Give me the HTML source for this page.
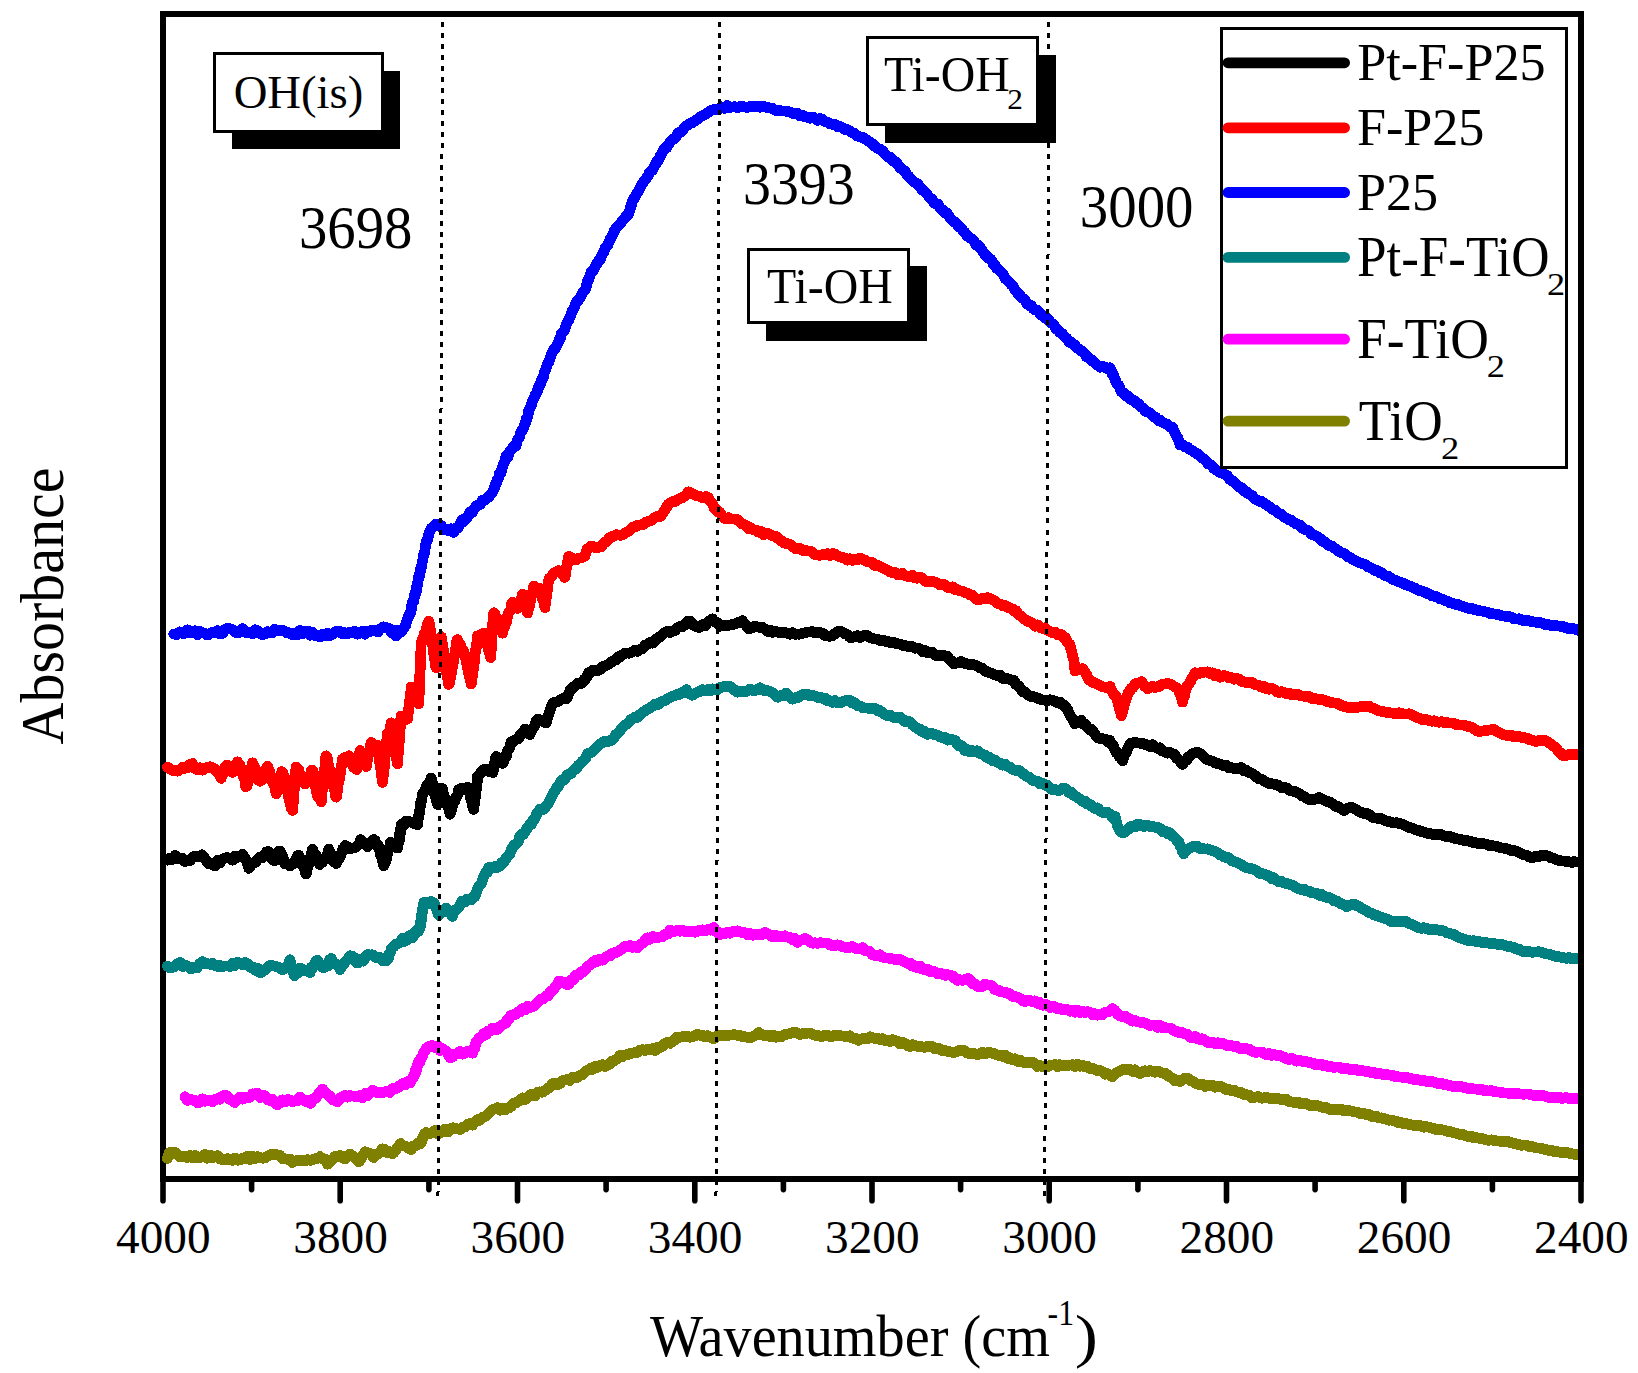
<!DOCTYPE html>
<html lang="en"><head><meta charset="utf-8"><title>FTIR spectra</title>
<style>html,body{margin:0;padding:0;background:#fff;}body{width:1638px;height:1373px;overflow:hidden;font-family:"Liberation Serif", "Times New Roman", serif;}svg text{white-space:pre;}</style>
</head><body>
<svg width="1638" height="1373" viewBox="0 0 1638 1373" style="display:block">
<rect x="0" y="0" width="1638" height="1373" fill="#fff"/>
<defs><clipPath id="plotclip"><rect x="150" y="17" width="1428" height="1159"/></clipPath></defs>
<g fill="#000" shape-rendering="crispEdges">
<rect x="160" y="11" width="1424" height="6"/>
<rect x="160" y="1176" width="1424" height="6"/>
<rect x="160" y="11" width="6" height="1171"/>
<rect x="1578" y="11" width="6" height="1171"/>
</g>
<g stroke="#000" stroke-width="5.6" stroke-linecap="round">
<line x1="163.0" y1="1180" x2="163.0" y2="1200.8"/>
<line x1="251.6" y1="1180" x2="251.6" y2="1189.6"/>
<line x1="340.2" y1="1180" x2="340.2" y2="1200.8"/>
<line x1="428.9" y1="1180" x2="428.9" y2="1189.6"/>
<line x1="517.5" y1="1180" x2="517.5" y2="1200.8"/>
<line x1="606.1" y1="1180" x2="606.1" y2="1189.6"/>
<line x1="694.8" y1="1180" x2="694.8" y2="1200.8"/>
<line x1="783.4" y1="1180" x2="783.4" y2="1189.6"/>
<line x1="872.0" y1="1180" x2="872.0" y2="1200.8"/>
<line x1="960.6" y1="1180" x2="960.6" y2="1189.6"/>
<line x1="1049.2" y1="1180" x2="1049.2" y2="1200.8"/>
<line x1="1137.9" y1="1180" x2="1137.9" y2="1189.6"/>
<line x1="1226.5" y1="1180" x2="1226.5" y2="1200.8"/>
<line x1="1315.1" y1="1180" x2="1315.1" y2="1189.6"/>
<line x1="1403.8" y1="1180" x2="1403.8" y2="1200.8"/>
<line x1="1492.4" y1="1180" x2="1492.4" y2="1189.6"/>
<line x1="1581.0" y1="1180" x2="1581.0" y2="1200.8"/>
</g>
<g clip-path="url(#plotclip)" fill="none" stroke-linejoin="round" stroke-linecap="round">
<path d="M167.4,860.2 L169.9,858.2 L172.5,859.4 L175.0,855.5 L177.5,858.7 L180.0,858.9 L182.5,858.5 L185.0,861.5 L187.5,860.4 L190.0,860.7 L192.5,857.5 L195.0,856.1 L197.5,856.2 L200.0,856.5 L202.1,854.9 L204.2,857.1 L206.2,860.6 L208.3,863.7 L210.4,863.7 L212.5,864.5 L215.0,865.9 L217.5,860.4 L220.0,862.9 L222.5,859.0 L225.0,858.1 L227.5,857.6 L230.0,858.2 L232.5,860.2 L235.0,856.3 L237.5,857.3 L240.0,856.6 L242.5,854.4 L243.8,857.7 L245.0,858.0 L246.2,860.5 L247.5,863.6 L248.8,868.3 L250.9,865.3 L253.1,862.9 L255.3,862.3 L257.5,859.8 L259.8,857.3 L262.0,857.9 L264.2,855.7 L266.5,851.8 L268.8,851.6 L270.0,853.9 L271.2,858.0 L272.5,859.8 L273.8,860.3 L275.0,860.6 L276.2,853.9 L277.5,852.4 L278.8,851.2 L280.0,850.9 L281.2,854.9 L282.5,855.4 L283.8,860.8 L285.0,863.7 L287.5,863.7 L290.0,865.9 L292.5,864.1 L293.8,863.6 L295.0,860.9 L296.2,858.6 L297.5,855.8 L298.8,855.3 L299.7,858.1 L300.6,858.3 L301.6,861.5 L302.5,861.1 L303.4,866.4 L304.4,868.5 L305.3,872.4 L306.2,874.0 L307.0,868.9 L307.8,866.7 L308.6,865.3 L309.4,859.7 L310.2,859.0 L310.9,855.0 L311.7,852.1 L312.5,849.2 L314.0,854.8 L315.4,854.1 L316.9,857.0 L318.3,859.9 L319.8,864.4 L321.2,863.1 L322.5,862.3 L323.8,860.2 L325.0,859.3 L326.2,856.5 L327.5,854.2 L328.8,849.0 L330.0,852.1 L331.2,854.4 L332.5,859.3 L333.8,862.1 L335.0,860.9 L336.2,863.5 L337.3,861.4 L338.4,859.1 L339.5,857.9 L340.6,856.0 L341.7,852.2 L342.8,848.7 L343.9,848.2 L345.0,845.6 L347.5,846.9 L350.0,849.0 L352.5,848.1 L355.0,847.6 L356.9,846.2 L358.8,844.6 L360.6,839.8 L362.5,841.8 L365.0,843.8 L367.5,846.7 L369.6,844.7 L371.7,841.2 L373.8,839.5 L375.0,840.4 L376.2,845.0 L377.5,844.5 L378.8,846.8 L379.5,850.1 L380.2,852.6 L380.9,856.0 L381.6,857.4 L382.3,859.8 L383.0,863.2 L383.8,865.7 L384.5,864.2 L385.2,860.1 L386.0,861.3 L386.8,857.5 L387.5,852.8 L388.2,850.6 L389.0,848.4 L389.8,845.9 L390.5,842.1 L391.2,842.9 L392.8,845.7 L394.4,845.5 L395.9,847.7 L397.5,848.1 L397.9,845.5 L398.3,844.0 L398.8,841.0 L399.2,841.0 L399.6,835.2 L400.0,832.0 L400.4,833.6 L400.8,829.0 L401.2,824.6 L403.8,824.9 L406.2,821.0 L408.8,821.7 L411.2,822.1 L414.4,823.5 L417.5,824.6 L417.9,820.1 L418.3,818.0 L418.8,814.5 L419.2,814.5 L419.6,810.9 L420.0,809.4 L420.4,804.8 L420.8,801.7 L421.2,801.7 L421.7,799.8 L422.1,796.6 L422.5,793.8 L424.0,791.8 L425.4,789.4 L426.9,785.1 L428.3,784.2 L429.8,781.5 L431.2,778.0 L431.9,780.5 L432.6,784.1 L433.3,786.5 L434.0,790.8 L434.7,794.4 L435.4,794.8 L436.1,799.4 L436.8,802.1 L437.5,804.4 L438.5,799.4 L439.5,796.3 L440.5,793.9 L441.5,791.2 L442.5,788.8 L443.3,793.0 L444.2,796.7 L445.0,798.9 L445.8,799.9 L446.7,803.1 L447.5,806.2 L448.3,805.8 L449.2,810.7 L450.0,814.2 L451.0,811.2 L451.9,808.5 L452.9,804.9 L453.9,801.2 L454.9,801.2 L455.8,796.8 L456.8,796.2 L457.8,794.4 L458.8,789.6 L461.7,788.4 L464.6,789.3 L467.5,787.1 L468.2,787.5 L468.9,789.8 L469.6,792.4 L470.3,797.8 L471.0,799.9 L471.7,799.9 L472.4,805.0 L473.1,808.1 L473.8,809.4 L474.1,805.6 L474.4,803.7 L474.7,799.5 L475.0,796.5 L475.3,797.5 L475.6,793.7 L475.9,790.6 L476.2,789.6 L476.6,785.1 L476.9,784.1 L477.2,781.4 L477.5,776.4 L479.4,774.4 L481.2,772.3 L483.1,770.0 L485.0,769.1 L487.5,769.5 L490.0,771.8 L492.5,772.4 L493.0,772.6 L493.6,767.9 L494.1,765.6 L494.6,763.3 L495.2,761.8 L495.7,757.4 L496.2,756.5 L497.8,757.5 L499.4,760.1 L500.9,762.6 L502.5,763.3 L503.5,762.3 L504.4,758.9 L505.4,755.7 L506.4,756.1 L507.4,751.3 L508.3,749.9 L509.3,748.3 L510.3,745.2 L511.2,741.9 L513.8,740.9 L516.2,739.4 L518.8,738.5 L520.8,733.7 L522.9,732.7 L525.0,729.2 L527.5,731.1 L530.0,734.6 L531.2,731.3 L532.5,729.0 L533.8,727.1 L535.0,725.1 L536.2,721.1 L537.5,719.1 L540.4,720.0 L543.3,721.3 L546.2,723.1 L547.0,719.9 L547.7,717.6 L548.4,714.9 L549.1,713.9 L549.8,710.6 L550.5,708.7 L551.2,706.4 L553.4,702.7 L555.6,702.1 L557.8,701.7 L560.0,699.8 L563.1,698.3 L566.2,698.9 L567.3,697.5 L568.3,694.2 L569.4,692.4 L570.4,689.6 L571.5,689.0 L572.5,687.1 L575.0,686.4 L577.5,683.4 L580.0,684.0 L582.5,682.9 L584.0,679.3 L585.5,679.1 L587.0,677.0 L588.5,672.7 L590.0,672.5 L592.5,670.4 L595.0,670.0 L597.5,670.7 L600.0,669.6 L602.5,666.6 L605.0,666.1 L607.5,665.0 L610.0,663.3 L612.1,661.5 L614.2,660.4 L616.2,660.0 L618.3,656.7 L620.4,656.6 L622.5,654.8 L625.0,653.0 L627.5,653.1 L630.0,653.1 L632.5,652.0 L635.0,650.1 L637.5,651.3 L640.0,649.5 L642.5,648.7 L645.0,645.2 L647.5,644.4 L650.0,642.6 L652.5,643.2 L655.0,640.7 L656.9,638.4 L658.8,637.3 L660.6,636.7 L662.5,634.6 L665.0,632.4 L667.5,631.3 L670.0,632.6 L672.5,630.9 L675.0,630.5 L677.5,627.7 L680.0,626.3 L682.5,626.7 L685.0,624.8 L687.5,621.4 L690.0,621.1 L692.1,622.8 L694.2,625.8 L696.2,626.4 L699.2,627.6 L702.1,624.7 L705.0,625.9 L707.5,622.8 L710.0,620.4 L712.5,618.9 L714.4,621.7 L716.2,621.9 L718.1,623.4 L720.0,626.3 L722.5,625.6 L725.0,625.2 L727.5,625.4 L730.0,625.1 L732.5,624.5 L735.0,623.8 L737.5,622.7 L740.0,622.9 L742.5,620.7 L744.1,623.4 L745.6,624.8 L747.2,627.4 L748.8,628.7 L751.7,628.1 L754.6,626.2 L757.5,626.9 L760.0,627.4 L762.5,627.4 L765.0,629.2 L767.5,631.4 L770.0,630.2 L772.5,632.3 L775.0,631.5 L777.5,631.9 L780.0,633.0 L782.5,632.0 L785.0,632.5 L787.5,633.2 L790.0,634.2 L792.5,632.7 L795.0,634.2 L797.5,634.1 L800.0,634.1 L802.5,633.3 L805.0,632.9 L807.5,632.0 L810.0,632.0 L812.5,631.6 L815.0,633.1 L817.5,632.4 L820.0,632.7 L822.5,633.0 L825.0,635.5 L827.5,636.1 L830.0,636.2 L832.5,635.7 L834.6,633.9 L836.7,632.4 L838.8,631.1 L841.6,631.6 L844.4,633.6 L847.2,634.4 L850.0,637.5 L852.5,637.5 L855.0,636.4 L857.5,635.6 L860.0,637.5 L862.5,635.8 L865.0,635.9 L867.5,635.7 L870.0,637.4 L872.5,638.3 L875.0,639.1 L877.5,639.0 L880.0,640.5 L882.5,640.0 L885.0,641.2 L887.5,641.3 L890.0,642.6 L892.5,642.2 L895.0,642.7 L897.5,644.0 L900.0,644.1 L902.5,645.3 L905.0,645.5 L907.5,646.3 L910.0,646.4 L912.5,646.8 L915.0,648.2 L917.5,648.0 L920.0,648.8 L922.5,651.5 L925.0,650.3 L927.5,652.6 L930.0,653.1 L932.5,652.3 L935.0,655.1 L937.5,656.0 L940.0,655.3 L942.5,655.6 L945.0,655.8 L947.2,656.1 L949.4,659.1 L951.6,661.0 L953.8,663.9 L956.2,663.2 L958.8,662.7 L961.2,661.5 L964.0,663.3 L966.8,663.7 L969.5,664.8 L972.2,664.5 L975.0,665.0 L977.5,666.3 L980.0,668.0 L982.5,668.3 L985.0,671.3 L987.5,671.6 L990.0,672.8 L992.5,673.8 L995.0,675.0 L997.5,675.5 L1000.0,675.2 L1002.5,678.3 L1005.0,678.8 L1007.5,678.8 L1010.0,679.5 L1012.5,680.4 L1014.2,680.7 L1015.8,684.4 L1017.5,685.0 L1019.2,686.4 L1020.8,688.8 L1022.5,691.8 L1025.0,691.7 L1027.5,694.4 L1030.0,696.2 L1032.5,696.2 L1035.0,697.2 L1037.5,698.0 L1040.0,699.2 L1042.5,700.0 L1045.0,700.2 L1047.5,700.9 L1050.0,699.8 L1052.5,700.4 L1055.0,701.1 L1057.5,702.7 L1060.0,702.0 L1061.9,704.6 L1063.8,705.0 L1065.6,707.0 L1067.5,709.4 L1068.8,712.7 L1070.0,715.1 L1071.2,717.3 L1072.5,718.6 L1073.8,721.5 L1075.0,723.7 L1078.1,722.4 L1081.2,720.3 L1083.4,724.1 L1085.6,724.2 L1087.8,728.1 L1090.0,729.9 L1092.0,729.5 L1094.0,732.6 L1096.0,735.6 L1098.0,738.0 L1100.0,738.6 L1102.5,738.8 L1105.0,739.2 L1107.5,741.8 L1110.0,740.5 L1111.5,744.0 L1113.0,745.3 L1114.5,748.8 L1116.0,752.4 L1117.5,752.8 L1119.2,756.7 L1120.8,757.9 L1122.5,761.0 L1123.6,758.0 L1124.8,754.3 L1125.9,753.5 L1127.0,750.0 L1128.8,746.0 L1130.5,743.2 L1135.0,742.5 L1137.5,743.0 L1140.0,743.2 L1142.5,743.4 L1145.0,744.6 L1147.5,744.8 L1150.0,746.5 L1152.5,744.6 L1155.0,746.9 L1157.5,748.4 L1160.0,747.8 L1162.5,751.1 L1165.0,751.8 L1167.5,753.2 L1170.0,752.6 L1172.5,753.7 L1175.0,754.7 L1176.5,758.3 L1178.0,759.2 L1179.5,760.6 L1181.0,762.8 L1182.5,764.4 L1184.0,761.8 L1185.5,760.0 L1187.0,759.9 L1188.5,756.4 L1190.0,756.1 L1192.5,753.5 L1195.0,752.7 L1197.5,752.5 L1200.0,753.3 L1202.5,755.3 L1205.0,758.4 L1207.5,759.7 L1210.0,760.5 L1212.5,761.1 L1215.0,762.8 L1217.5,763.8 L1220.0,763.9 L1223.0,765.5 L1226.0,765.2 L1229.0,768.1 L1231.5,767.6 L1234.0,768.6 L1236.5,768.6 L1239.0,768.0 L1241.5,767.7 L1244.0,771.0 L1246.5,770.4 L1249.0,772.4 L1251.5,773.4 L1254.0,774.6 L1256.5,777.0 L1259.0,779.0 L1261.5,779.0 L1264.0,781.3 L1266.5,782.1 L1269.0,783.4 L1271.5,783.8 L1274.0,784.1 L1276.5,784.8 L1279.0,785.7 L1281.5,787.8 L1284.0,787.7 L1286.5,787.9 L1289.0,790.1 L1291.5,791.0 L1293.7,791.2 L1295.9,791.8 L1298.1,793.2 L1300.2,794.2 L1302.4,796.0 L1304.6,796.7 L1306.8,798.3 L1309.0,799.6 L1311.5,799.5 L1314.0,799.4 L1316.5,798.6 L1319.0,797.3 L1321.3,798.5 L1323.5,799.8 L1325.8,800.7 L1328.1,801.8 L1330.4,802.4 L1332.6,803.9 L1334.9,806.2 L1337.2,806.0 L1339.5,807.7 L1341.7,809.1 L1344.0,810.6 L1346.5,808.7 L1349.0,808.0 L1351.5,807.1 L1354.0,808.5 L1356.5,809.6 L1359.0,811.5 L1361.5,812.5 L1364.0,813.6 L1366.5,813.5 L1369.0,814.6 L1371.5,816.7 L1374.0,818.0 L1376.5,818.1 L1379.0,818.9 L1381.5,818.7 L1384.0,819.9 L1386.5,821.2 L1389.0,821.7 L1391.5,822.3 L1394.0,823.1 L1396.5,822.8 L1399.0,823.3 L1401.5,824.0 L1404.0,825.0 L1406.5,826.2 L1409.0,827.4 L1411.5,828.1 L1414.0,828.9 L1416.5,830.0 L1419.0,830.6 L1421.5,831.6 L1424.0,831.9 L1426.5,833.2 L1429.0,832.9 L1431.5,834.1 L1434.0,834.1 L1436.5,834.1 L1439.0,834.2 L1441.5,834.7 L1444.0,835.8 L1446.5,836.5 L1449.0,836.4 L1451.5,837.0 L1454.0,838.2 L1456.5,838.8 L1459.0,839.2 L1461.5,839.7 L1464.0,840.6 L1466.5,840.3 L1469.0,841.1 L1471.5,841.8 L1474.0,842.8 L1476.5,842.9 L1479.0,843.6 L1481.5,843.6 L1484.0,843.8 L1486.5,844.2 L1489.0,845.6 L1491.5,845.8 L1494.0,845.9 L1496.5,846.1 L1499.0,847.2 L1501.5,848.0 L1504.0,848.2 L1506.5,848.6 L1509.0,849.6 L1511.5,850.5 L1514.0,850.6 L1516.5,851.3 L1519.0,852.6 L1521.5,853.7 L1524.0,854.9 L1526.5,855.3 L1529.0,856.9 L1531.5,857.8 L1534.0,857.0 L1536.5,856.1 L1539.0,856.6 L1541.5,855.3 L1544.0,855.4 L1546.5,855.6 L1549.0,856.5 L1551.5,858.0 L1554.0,858.3 L1556.5,860.0 L1559.0,860.4 L1561.5,860.9 L1564.1,861.1 L1566.6,861.5 L1569.2,861.9 L1571.8,862.4 L1574.3,861.6 L1576.9,862.1 L1579.4,862.0 L1582.0,863.1" stroke="#000000" stroke-width="10.8" shape-rendering="crispEdges"/>
<path d="M167.4,860.2 L169.9,858.2 L172.5,859.4 L175.0,855.5 L177.5,858.7 L180.0,858.9 L182.5,858.5 L185.0,861.5 L187.5,860.4 L190.0,860.7 L192.5,857.5 L195.0,856.1 L197.5,856.2 L200.0,856.5 L202.1,854.9 L204.2,857.1 L206.2,860.6 L208.3,863.7 L210.4,863.7 L212.5,864.5 L215.0,865.9 L217.5,860.4 L220.0,862.9 L222.5,859.0 L225.0,858.1 L227.5,857.6 L230.0,858.2 L232.5,860.2 L235.0,856.3 L237.5,857.3 L240.0,856.6 L242.5,854.4 L243.8,857.7 L245.0,858.0 L246.2,860.5 L247.5,863.6 L248.8,868.3 L250.9,865.3 L253.1,862.9 L255.3,862.3 L257.5,859.8 L259.8,857.3 L262.0,857.9 L264.2,855.7 L266.5,851.8 L268.8,851.6 L270.0,853.9 L271.2,858.0 L272.5,859.8 L273.8,860.3 L275.0,860.6 L276.2,853.9 L277.5,852.4 L278.8,851.2 L280.0,850.9 L281.2,854.9 L282.5,855.4 L283.8,860.8 L285.0,863.7 L287.5,863.7 L290.0,865.9 L292.5,864.1 L293.8,863.6 L295.0,860.9 L296.2,858.6 L297.5,855.8 L298.8,855.3 L299.7,858.1 L300.6,858.3 L301.6,861.5 L302.5,861.1 L303.4,866.4 L304.4,868.5 L305.3,872.4 L306.2,874.0 L307.0,868.9 L307.8,866.7 L308.6,865.3 L309.4,859.7 L310.2,859.0 L310.9,855.0 L311.7,852.1 L312.5,849.2 L314.0,854.8 L315.4,854.1 L316.9,857.0 L318.3,859.9 L319.8,864.4 L321.2,863.1 L322.5,862.3 L323.8,860.2 L325.0,859.3 L326.2,856.5 L327.5,854.2 L328.8,849.0 L330.0,852.1 L331.2,854.4 L332.5,859.3 L333.8,862.1 L335.0,860.9 L336.2,863.5 L337.3,861.4 L338.4,859.1 L339.5,857.9 L340.6,856.0 L341.7,852.2 L342.8,848.7 L343.9,848.2 L345.0,845.6 L347.5,846.9 L350.0,849.0 L352.5,848.1 L355.0,847.6 L356.9,846.2 L358.8,844.6 L360.6,839.8 L362.5,841.8 L365.0,843.8 L367.5,846.7 L369.6,844.7 L371.7,841.2 L373.8,839.5 L375.0,840.4 L376.2,845.0 L377.5,844.5 L378.8,846.8 L379.5,850.1 L380.2,852.6 L380.9,856.0 L381.6,857.4 L382.3,859.8 L383.0,863.2 L383.8,865.7 L384.5,864.2 L385.2,860.1 L386.0,861.3 L386.8,857.5 L387.5,852.8 L388.2,850.6 L389.0,848.4 L389.8,845.9 L390.5,842.1 L391.2,842.9 L392.8,845.7 L394.4,845.5 L395.9,847.7 L397.5,848.1 L397.9,845.5 L398.3,844.0 L398.8,841.0 L399.2,841.0 L399.6,835.2 L400.0,832.0 L400.4,833.6 L400.8,829.0 L401.2,824.6 L403.8,824.9 L406.2,821.0 L408.8,821.7 L411.2,822.1 L414.4,823.5 L417.5,824.6 L417.9,820.1 L418.3,818.0 L418.8,814.5 L419.2,814.5 L419.6,810.9 L420.0,809.4 L420.4,804.8 L420.8,801.7 L421.2,801.7 L421.7,799.8 L422.1,796.6 L422.5,793.8 L424.0,791.8 L425.4,789.4 L426.9,785.1 L428.3,784.2 L429.8,781.5 L431.2,778.0 L431.9,780.5 L432.6,784.1 L433.3,786.5 L434.0,790.8 L434.7,794.4 L435.4,794.8 L436.1,799.4 L436.8,802.1 L437.5,804.4 L438.5,799.4 L439.5,796.3 L440.5,793.9 L441.5,791.2 L442.5,788.8 L443.3,793.0 L444.2,796.7 L445.0,798.9 L445.8,799.9 L446.7,803.1 L447.5,806.2 L448.3,805.8 L449.2,810.7 L450.0,814.2 L451.0,811.2 L451.9,808.5 L452.9,804.9 L453.9,801.2 L454.9,801.2 L455.8,796.8 L456.8,796.2 L457.8,794.4 L458.8,789.6 L461.7,788.4 L464.6,789.3 L467.5,787.1 L468.2,787.5 L468.9,789.8 L469.6,792.4 L470.3,797.8 L471.0,799.9 L471.7,799.9 L472.4,805.0 L473.1,808.1 L473.8,809.4 L474.1,805.6 L474.4,803.7 L474.7,799.5 L475.0,796.5 L475.3,797.5 L475.6,793.7 L475.9,790.6 L476.2,789.6 L476.6,785.1 L476.9,784.1 L477.2,781.4 L477.5,776.4 L479.4,774.4 L481.2,772.3 L483.1,770.0 L485.0,769.1 L487.5,769.5 L490.0,771.8 L492.5,772.4 L493.0,772.6 L493.6,767.9 L494.1,765.6 L494.6,763.3 L495.2,761.8 L495.7,757.4 L496.2,756.5 L497.8,757.5 L499.4,760.1 L500.9,762.6 L502.5,763.3 L503.5,762.3 L504.4,758.9 L505.4,755.7 L506.4,756.1 L507.4,751.3 L508.3,749.9 L509.3,748.3 L510.3,745.2 L511.2,741.9 L513.8,740.9 L516.2,739.4 L518.8,738.5 L520.8,733.7 L522.9,732.7 L525.0,729.2 L527.5,731.1 L530.0,734.6 L531.2,731.3 L532.5,729.0 L533.8,727.1 L535.0,725.1 L536.2,721.1 L537.5,719.1 L540.4,720.0 L543.3,721.3 L546.2,723.1 L547.0,719.9 L547.7,717.6 L548.4,714.9 L549.1,713.9 L549.8,710.6 L550.5,708.7 L551.2,706.4 L553.4,702.7 L555.6,702.1 L557.8,701.7 L560.0,699.8 L563.1,698.3 L566.2,698.9 L567.3,697.5 L568.3,694.2 L569.4,692.4 L570.4,689.6 L571.5,689.0 L572.5,687.1 L575.0,686.4 L577.5,683.4 L580.0,684.0 L582.5,682.9 L584.0,679.3 L585.5,679.1 L587.0,677.0 L588.5,672.7 L590.0,672.5 L592.5,670.4 L595.0,670.0 L597.5,670.7 L600.0,669.6 L602.5,666.6 L605.0,666.1 L607.5,665.0 L610.0,663.3 L612.1,661.5 L614.2,660.4 L616.2,660.0 L618.3,656.7 L620.4,656.6 L622.5,654.8 L625.0,653.0 L627.5,653.1 L630.0,653.1 L632.5,652.0 L635.0,650.1 L637.5,651.3 L640.0,649.5 L642.5,648.7 L645.0,645.2 L647.5,644.4 L650.0,642.6 L652.5,643.2 L655.0,640.7 L656.9,638.4 L658.8,637.3 L660.6,636.7 L662.5,634.6 L665.0,632.4 L667.5,631.3 L670.0,632.6 L672.5,630.9 L675.0,630.5 L677.5,627.7 L680.0,626.3 L682.5,626.7 L685.0,624.8 L687.5,621.4 L690.0,621.1 L692.1,622.8 L694.2,625.8 L696.2,626.4 L699.2,627.6 L702.1,624.7 L705.0,625.9 L707.5,622.8 L710.0,620.4 L712.5,618.9 L714.4,621.7 L716.2,621.9 L718.1,623.4 L720.0,626.3 L722.5,625.6 L725.0,625.2 L727.5,625.4 L730.0,625.1 L732.5,624.5 L735.0,623.8 L737.5,622.7 L740.0,622.9 L742.5,620.7 L744.1,623.4 L745.6,624.8 L747.2,627.4 L748.8,628.7 L751.7,628.1 L754.6,626.2 L757.5,626.9 L760.0,627.4 L762.5,627.4 L765.0,629.2 L767.5,631.4 L770.0,630.2 L772.5,632.3 L775.0,631.5 L777.5,631.9 L780.0,633.0 L782.5,632.0 L785.0,632.5 L787.5,633.2 L790.0,634.2 L792.5,632.7 L795.0,634.2 L797.5,634.1 L800.0,634.1 L802.5,633.3 L805.0,632.9 L807.5,632.0 L810.0,632.0 L812.5,631.6 L815.0,633.1 L817.5,632.4 L820.0,632.7 L822.5,633.0 L825.0,635.5 L827.5,636.1 L830.0,636.2 L832.5,635.7 L834.6,633.9 L836.7,632.4 L838.8,631.1 L841.6,631.6 L844.4,633.6 L847.2,634.4 L850.0,637.5 L852.5,637.5 L855.0,636.4 L857.5,635.6 L860.0,637.5 L862.5,635.8 L865.0,635.9 L867.5,635.7 L870.0,637.4 L872.5,638.3 L875.0,639.1 L877.5,639.0 L880.0,640.5 L882.5,640.0 L885.0,641.2 L887.5,641.3 L890.0,642.6 L892.5,642.2 L895.0,642.7 L897.5,644.0 L900.0,644.1 L902.5,645.3 L905.0,645.5 L907.5,646.3 L910.0,646.4 L912.5,646.8 L915.0,648.2 L917.5,648.0 L920.0,648.8 L922.5,651.5 L925.0,650.3 L927.5,652.6 L930.0,653.1 L932.5,652.3 L935.0,655.1 L937.5,656.0 L940.0,655.3 L942.5,655.6 L945.0,655.8 L947.2,656.1 L949.4,659.1 L951.6,661.0 L953.8,663.9 L956.2,663.2 L958.8,662.7 L961.2,661.5 L964.0,663.3 L966.8,663.7 L969.5,664.8 L972.2,664.5 L975.0,665.0 L977.5,666.3 L980.0,668.0 L982.5,668.3 L985.0,671.3 L987.5,671.6 L990.0,672.8 L992.5,673.8 L995.0,675.0 L997.5,675.5 L1000.0,675.2 L1002.5,678.3 L1005.0,678.8 L1007.5,678.8 L1010.0,679.5 L1012.5,680.4 L1014.2,680.7 L1015.8,684.4 L1017.5,685.0 L1019.2,686.4 L1020.8,688.8 L1022.5,691.8 L1025.0,691.7 L1027.5,694.4 L1030.0,696.2 L1032.5,696.2 L1035.0,697.2 L1037.5,698.0 L1040.0,699.2 L1042.5,700.0 L1045.0,700.2 L1047.5,700.9 L1050.0,699.8 L1052.5,700.4 L1055.0,701.1 L1057.5,702.7 L1060.0,702.0 L1061.9,704.6 L1063.8,705.0 L1065.6,707.0 L1067.5,709.4 L1068.8,712.7 L1070.0,715.1 L1071.2,717.3 L1072.5,718.6 L1073.8,721.5 L1075.0,723.7 L1078.1,722.4 L1081.2,720.3 L1083.4,724.1 L1085.6,724.2 L1087.8,728.1 L1090.0,729.9 L1092.0,729.5 L1094.0,732.6 L1096.0,735.6 L1098.0,738.0 L1100.0,738.6 L1102.5,738.8 L1105.0,739.2 L1107.5,741.8 L1110.0,740.5 L1111.5,744.0 L1113.0,745.3 L1114.5,748.8 L1116.0,752.4 L1117.5,752.8 L1119.2,756.7 L1120.8,757.9 L1122.5,761.0 L1123.6,758.0 L1124.8,754.3 L1125.9,753.5 L1127.0,750.0 L1128.8,746.0 L1130.5,743.2 L1135.0,742.5 L1137.5,743.0 L1140.0,743.2 L1142.5,743.4 L1145.0,744.6 L1147.5,744.8 L1150.0,746.5 L1152.5,744.6 L1155.0,746.9 L1157.5,748.4 L1160.0,747.8 L1162.5,751.1 L1165.0,751.8 L1167.5,753.2 L1170.0,752.6 L1172.5,753.7 L1175.0,754.7 L1176.5,758.3 L1178.0,759.2 L1179.5,760.6 L1181.0,762.8 L1182.5,764.4 L1184.0,761.8 L1185.5,760.0 L1187.0,759.9 L1188.5,756.4 L1190.0,756.1 L1192.5,753.5 L1195.0,752.7 L1197.5,752.5 L1200.0,753.3 L1202.5,755.3 L1205.0,758.4 L1207.5,759.7 L1210.0,760.5 L1212.5,761.1 L1215.0,762.8 L1217.5,763.8 L1220.0,763.9 L1223.0,765.5 L1226.0,765.2 L1229.0,768.1 L1231.5,767.6 L1234.0,768.6 L1236.5,768.6 L1239.0,768.0 L1241.5,767.7 L1244.0,771.0 L1246.5,770.4 L1249.0,772.4 L1251.5,773.4 L1254.0,774.6 L1256.5,777.0 L1259.0,779.0 L1261.5,779.0 L1264.0,781.3 L1266.5,782.1 L1269.0,783.4 L1271.5,783.8 L1274.0,784.1 L1276.5,784.8 L1279.0,785.7 L1281.5,787.8 L1284.0,787.7 L1286.5,787.9 L1289.0,790.1 L1291.5,791.0 L1293.7,791.2 L1295.9,791.8 L1298.1,793.2 L1300.2,794.2 L1302.4,796.0 L1304.6,796.7 L1306.8,798.3 L1309.0,799.6 L1311.5,799.5 L1314.0,799.4 L1316.5,798.6 L1319.0,797.3 L1321.3,798.5 L1323.5,799.8 L1325.8,800.7 L1328.1,801.8 L1330.4,802.4 L1332.6,803.9 L1334.9,806.2 L1337.2,806.0 L1339.5,807.7 L1341.7,809.1 L1344.0,810.6 L1346.5,808.7 L1349.0,808.0 L1351.5,807.1 L1354.0,808.5 L1356.5,809.6 L1359.0,811.5 L1361.5,812.5 L1364.0,813.6 L1366.5,813.5 L1369.0,814.6 L1371.5,816.7 L1374.0,818.0 L1376.5,818.1 L1379.0,818.9 L1381.5,818.7 L1384.0,819.9 L1386.5,821.2 L1389.0,821.7 L1391.5,822.3 L1394.0,823.1 L1396.5,822.8 L1399.0,823.3 L1401.5,824.0 L1404.0,825.0 L1406.5,826.2 L1409.0,827.4 L1411.5,828.1 L1414.0,828.9 L1416.5,830.0 L1419.0,830.6 L1421.5,831.6 L1424.0,831.9 L1426.5,833.2 L1429.0,832.9 L1431.5,834.1 L1434.0,834.1 L1436.5,834.1 L1439.0,834.2 L1441.5,834.7 L1444.0,835.8 L1446.5,836.5 L1449.0,836.4 L1451.5,837.0 L1454.0,838.2 L1456.5,838.8 L1459.0,839.2 L1461.5,839.7 L1464.0,840.6 L1466.5,840.3 L1469.0,841.1 L1471.5,841.8 L1474.0,842.8 L1476.5,842.9 L1479.0,843.6 L1481.5,843.6 L1484.0,843.8 L1486.5,844.2 L1489.0,845.6 L1491.5,845.8 L1494.0,845.9 L1496.5,846.1 L1499.0,847.2 L1501.5,848.0 L1504.0,848.2 L1506.5,848.6 L1509.0,849.6 L1511.5,850.5 L1514.0,850.6 L1516.5,851.3 L1519.0,852.6 L1521.5,853.7 L1524.0,854.9 L1526.5,855.3 L1529.0,856.9 L1531.5,857.8 L1534.0,857.0 L1536.5,856.1 L1539.0,856.6 L1541.5,855.3 L1544.0,855.4 L1546.5,855.6 L1549.0,856.5 L1551.5,858.0 L1554.0,858.3 L1556.5,860.0 L1559.0,860.4 L1561.5,860.9 L1564.1,861.1 L1566.6,861.5 L1569.2,861.9 L1571.8,862.4 L1574.3,861.6 L1576.9,862.1 L1579.4,862.0 L1582.0,863.1" stroke="#000000" stroke-width="9.6"/>
<path d="M167.4,767.2 L169.9,768.6 L172.5,770.5 L175.0,770.4 L177.5,771.2 L180.0,769.6 L182.5,767.3 L185.0,768.2 L187.5,767.6 L190.0,764.5 L192.5,763.6 L195.0,768.7 L197.5,769.5 L200.0,767.8 L202.5,770.1 L205.0,768.2 L207.5,767.5 L210.0,766.7 L212.2,767.7 L214.5,768.7 L216.8,771.7 L219.0,773.8 L221.2,778.3 L222.5,772.0 L223.8,773.4 L225.0,767.4 L226.2,765.6 L227.5,765.2 L228.8,767.4 L230.0,767.8 L231.2,768.2 L232.5,772.4 L233.8,769.4 L235.0,769.4 L236.2,763.6 L237.5,761.9 L238.8,766.8 L240.0,765.3 L241.2,769.6 L242.5,773.9 L243.1,776.2 L243.8,775.4 L244.4,777.9 L245.0,780.5 L245.6,786.9 L246.2,786.4 L246.9,786.0 L247.6,784.1 L248.3,778.8 L249.0,775.9 L249.7,776.4 L250.4,772.2 L251.1,767.9 L251.8,767.4 L252.5,762.9 L253.4,765.1 L254.4,766.2 L255.3,772.0 L256.2,775.0 L257.2,776.1 L258.1,779.9 L259.1,778.0 L260.0,781.3 L261.1,780.1 L262.1,780.0 L263.2,777.6 L264.3,772.7 L265.4,769.7 L266.4,768.2 L267.5,766.2 L268.3,770.6 L269.1,769.6 L269.9,774.8 L270.7,776.9 L271.5,779.7 L272.3,781.8 L273.1,783.4 L273.9,784.5 L274.7,786.9 L275.5,789.5 L276.2,793.8 L276.9,788.1 L277.6,786.1 L278.3,786.2 L279.0,781.3 L279.7,778.0 L280.4,775.4 L281.1,775.2 L281.8,771.7 L282.5,772.2 L283.1,774.3 L283.6,777.2 L284.2,776.4 L284.7,778.1 L285.3,780.6 L285.8,785.0 L286.4,788.5 L286.9,789.8 L287.5,791.3 L288.2,794.8 L288.9,798.4 L289.6,801.3 L290.4,804.4 L291.1,807.5 L291.8,809.3 L292.5,809.5 L292.7,810.3 L292.9,805.3 L293.1,804.1 L293.3,800.7 L293.5,799.8 L293.8,794.9 L294.0,792.6 L294.2,790.1 L294.4,787.2 L294.6,788.0 L294.8,784.1 L295.0,780.5 L295.2,778.3 L295.4,778.5 L295.6,773.8 L295.8,770.0 L296.0,770.2 L296.2,767.0 L297.3,770.9 L298.4,769.1 L299.5,773.2 L300.6,777.1 L301.7,779.5 L302.8,782.2 L303.9,780.5 L305.0,784.1 L306.1,780.9 L307.1,778.9 L308.2,780.2 L309.3,776.1 L310.4,775.4 L311.4,770.5 L312.5,770.4 L313.0,771.1 L313.4,772.9 L313.9,777.9 L314.3,781.3 L314.8,780.0 L315.2,784.9 L315.7,787.6 L316.1,788.4 L316.6,791.7 L317.0,793.2 L317.5,796.1 L319.4,798.2 L321.2,801.7 L321.5,799.4 L321.8,794.7 L322.1,791.3 L322.4,790.2 L322.6,789.2 L322.9,784.4 L323.2,782.4 L323.5,779.3 L323.8,779.5 L324.0,775.8 L324.3,771.0 L324.6,768.6 L324.9,767.4 L325.1,765.5 L325.4,763.3 L325.7,758.3 L326.0,756.0 L326.2,755.9 L326.8,757.1 L327.4,759.0 L327.9,761.6 L328.5,767.1 L329.0,766.6 L329.6,770.3 L330.1,771.8 L330.7,774.6 L331.2,779.2 L331.9,782.3 L332.5,781.9 L333.1,783.6 L333.8,788.5 L334.4,788.6 L335.0,790.2 L335.6,796.8 L336.2,797.1 L336.7,796.5 L337.1,792.1 L337.5,791.8 L337.9,787.3 L338.3,783.4 L338.8,780.3 L339.2,780.2 L339.6,778.1 L340.0,776.9 L340.4,770.6 L340.8,770.6 L341.2,766.9 L341.7,765.0 L342.1,760.9 L342.5,759.0 L345.0,757.6 L347.5,757.0 L349.0,755.7 L350.4,760.0 L351.9,763.9 L353.3,767.1 L354.8,766.1 L356.2,768.3 L356.7,769.5 L357.2,767.2 L357.7,762.4 L358.1,757.9 L358.6,759.5 L359.1,754.5 L359.5,754.4 L360.0,750.6 L361.0,754.0 L362.1,753.4 L363.1,758.8 L364.2,758.7 L365.2,762.1 L366.2,766.6 L366.9,763.9 L367.5,758.2 L368.1,755.7 L368.8,753.9 L369.4,751.8 L370.0,748.5 L370.6,744.7 L371.2,742.6 L374.4,745.4 L377.5,746.8 L377.8,745.4 L378.2,750.3 L378.5,753.7 L378.8,752.9 L379.2,759.1 L379.5,758.2 L379.8,763.0 L380.2,765.2 L380.5,768.1 L380.8,769.1 L381.2,772.1 L381.5,775.4 L381.8,777.2 L382.2,780.7 L382.5,782.3 L382.8,779.7 L383.0,775.3 L383.3,775.5 L383.6,772.5 L383.8,768.8 L384.1,768.7 L384.3,766.3 L384.6,762.3 L384.9,758.5 L385.1,757.4 L385.4,753.2 L385.7,750.8 L385.9,749.7 L386.2,745.6 L386.4,744.7 L386.7,742.5 L387.0,737.9 L387.2,738.1 L387.5,733.1 L388.4,733.6 L389.4,731.3 L390.3,727.6 L391.2,722.9 L391.7,727.5 L392.1,729.4 L392.5,734.6 L392.9,733.3 L393.3,739.1 L393.8,742.3 L394.2,743.6 L394.6,746.4 L395.0,746.1 L395.4,752.2 L395.8,752.5 L396.2,757.1 L396.7,759.4 L397.1,758.5 L397.5,763.8 L397.7,762.0 L397.9,755.5 L398.1,754.3 L398.3,753.7 L398.5,748.4 L398.7,749.3 L398.9,744.0 L399.1,744.0 L399.3,738.4 L399.5,737.5 L399.7,736.9 L399.9,731.2 L400.1,728.9 L400.3,727.5 L400.5,724.2 L400.7,720.4 L400.9,718.5 L401.1,715.9 L401.2,717.0 L403.3,717.5 L405.4,720.1 L407.5,718.5 L407.8,718.8 L408.1,713.3 L408.4,712.6 L408.7,710.6 L408.9,706.9 L409.2,706.7 L409.5,702.7 L409.8,700.4 L410.1,699.2 L410.4,693.2 L410.7,694.7 L411.0,690.6 L411.2,687.0 L412.5,691.3 L413.8,691.5 L415.0,697.2 L416.2,697.8 L417.5,699.4 L418.8,703.7 L418.9,699.7 L419.0,696.1 L419.1,696.1 L419.2,690.5 L419.3,691.4 L419.4,686.4 L419.5,685.6 L419.6,684.6 L419.7,680.4 L419.8,678.2 L419.9,674.2 L420.1,670.3 L420.2,667.9 L420.3,666.0 L420.4,665.5 L420.5,662.2 L420.6,660.1 L420.7,659.2 L420.8,653.4 L420.9,651.3 L421.0,650.7 L421.1,645.4 L421.2,642.8 L422.1,641.7 L422.9,638.0 L423.8,636.5 L424.6,633.2 L425.4,632.2 L426.2,629.6 L427.1,625.2 L427.9,624.4 L428.8,621.1 L429.1,622.2 L429.5,628.1 L429.9,627.6 L430.3,629.7 L430.7,632.0 L431.1,636.8 L431.5,640.3 L431.9,642.5 L432.3,643.3 L432.7,645.2 L433.1,646.7 L433.5,651.9 L433.9,654.0 L434.3,655.6 L434.7,659.4 L435.1,661.0 L435.5,665.6 L435.9,667.2 L436.2,667.7 L436.6,668.0 L437.0,661.8 L437.4,661.4 L437.8,658.4 L438.2,655.1 L438.6,651.9 L438.9,652.4 L439.3,646.7 L439.7,646.5 L440.1,645.6 L440.5,639.7 L440.9,637.5 L441.2,636.7 L441.6,638.8 L442.0,641.8 L442.4,645.1 L442.8,644.9 L443.1,648.0 L443.5,650.4 L443.9,651.9 L444.2,657.9 L444.6,659.9 L445.0,662.1 L445.4,661.7 L445.8,667.7 L446.1,669.8 L446.5,671.1 L446.9,674.7 L447.2,676.1 L447.6,677.6 L448.0,679.6 L448.4,682.6 L448.8,684.4 L449.2,683.1 L449.7,682.3 L450.1,679.5 L450.6,677.7 L451.1,674.6 L451.5,670.3 L452.0,669.0 L452.4,666.0 L452.9,664.9 L453.4,661.3 L453.8,657.8 L454.3,656.8 L454.7,655.6 L455.2,650.1 L455.7,650.3 L456.1,644.3 L456.6,642.8 L457.0,640.2 L457.5,639.7 L458.6,642.9 L459.6,644.4 L460.7,645.0 L461.8,649.5 L462.9,649.7 L463.9,651.6 L465.0,656.6 L465.6,658.1 L466.1,661.0 L466.7,663.5 L467.3,667.3 L467.8,667.9 L468.4,672.0 L469.0,674.1 L469.5,677.3 L470.1,678.3 L470.7,682.0 L471.2,684.0 L471.6,680.4 L471.9,677.5 L472.3,676.5 L472.6,671.8 L473.0,672.5 L473.3,667.0 L473.7,663.9 L474.0,661.7 L474.4,662.3 L474.7,657.5 L475.1,654.1 L475.4,651.1 L475.8,648.6 L476.1,648.5 L476.5,645.7 L476.8,643.4 L477.2,641.0 L477.5,635.8 L480.0,636.2 L482.5,633.7 L485.0,633.7 L485.6,636.3 L486.1,639.2 L486.6,638.8 L487.2,644.4 L487.8,647.2 L488.3,649.9 L488.9,649.4 L489.4,652.4 L489.9,654.7 L490.5,657.0 L490.7,657.5 L490.8,654.9 L491.0,651.7 L491.2,649.9 L491.4,646.7 L491.5,643.0 L491.7,639.8 L491.9,637.3 L492.0,637.2 L492.2,632.7 L492.4,630.6 L492.6,628.5 L492.7,624.5 L492.9,622.9 L493.1,620.5 L493.2,619.5 L493.4,615.8 L493.6,613.1 L493.8,612.9 L494.7,613.6 L495.7,617.3 L496.7,618.8 L497.6,619.0 L498.6,622.7 L499.6,625.2 L500.6,628.8 L501.5,629.6 L502.5,633.2 L503.3,630.1 L504.2,626.5 L505.0,626.3 L505.8,621.1 L506.7,621.1 L507.5,616.3 L508.3,613.2 L509.2,611.5 L510.0,610.9 L510.8,609.2 L511.7,603.3 L512.5,602.5 L515.0,605.0 L517.5,608.5 L518.5,603.9 L519.5,602.5 L520.5,599.5 L521.5,598.6 L522.5,594.2 L523.2,599.0 L523.9,599.3 L524.6,601.5 L525.4,605.7 L526.1,607.5 L526.8,608.7 L527.5,613.0 L528.1,608.6 L528.8,608.5 L529.4,605.7 L530.0,603.4 L530.6,600.4 L531.2,597.0 L531.9,594.7 L532.5,592.2 L533.1,591.3 L533.8,586.1 L536.9,590.0 L540.0,588.5 L540.8,591.8 L541.7,594.7 L542.5,599.4 L543.3,600.8 L544.2,603.2 L545.0,607.5 L545.4,602.8 L545.7,601.0 L546.1,598.6 L546.5,596.8 L546.8,594.2 L547.2,591.3 L547.5,587.8 L547.9,585.2 L548.3,582.1 L548.6,581.6 L549.0,578.5 L551.4,576.7 L553.8,573.0 L556.1,571.8 L558.5,570.8 L560.6,572.7 L562.7,573.9 L564.8,577.4 L565.2,576.1 L565.7,571.7 L566.2,569.1 L566.6,566.9 L567.1,565.6 L567.6,563.5 L568.0,559.0 L568.5,556.5 L571.0,557.6 L573.5,558.7 L576.0,560.1 L578.5,558.2 L581.0,557.9 L583.5,556.6 L584.8,556.3 L586.0,553.1 L587.2,548.9 L588.5,548.8 L591.0,546.2 L593.5,546.7 L596.0,548.0 L598.5,547.3 L601.0,546.9 L603.0,544.3 L605.0,542.0 L607.0,541.4 L609.0,538.2 L611.0,536.7 L613.5,536.5 L616.0,534.8 L618.5,535.0 L621.0,535.3 L623.5,534.3 L626.0,532.3 L628.5,531.1 L631.0,529.2 L633.5,526.8 L636.0,526.5 L638.5,525.0 L641.0,524.9 L643.5,524.3 L646.0,522.1 L648.5,521.4 L651.0,520.6 L653.5,518.5 L656.0,516.8 L658.5,516.8 L661.0,516.0 L662.5,513.5 L664.0,511.0 L665.5,509.2 L667.0,506.5 L668.5,504.1 L671.0,502.7 L673.5,501.4 L676.0,501.3 L678.5,499.0 L680.5,498.3 L682.5,497.7 L684.5,496.1 L686.5,494.3 L688.5,491.9 L691.0,493.2 L693.5,494.3 L696.0,495.6 L698.5,496.0 L701.0,497.0 L703.5,498.0 L706.0,496.4 L708.5,497.9 L710.0,500.7 L711.5,502.2 L713.0,505.0 L714.5,508.7 L716.0,508.8 L718.0,511.9 L720.0,512.6 L722.0,516.0 L724.0,518.1 L726.0,518.8 L728.5,517.7 L731.0,518.9 L733.5,518.9 L736.0,519.3 L738.1,520.2 L740.2,522.0 L742.2,524.0 L744.3,524.6 L746.4,525.8 L748.5,528.7 L751.0,527.7 L753.5,530.0 L756.0,530.2 L758.5,532.2 L761.0,531.5 L763.5,534.5 L766.0,533.6 L768.5,533.6 L771.0,534.9 L773.5,536.0 L776.0,536.5 L778.5,539.0 L781.0,540.5 L783.5,542.8 L786.0,543.4 L788.5,544.1 L791.0,545.0 L793.5,547.4 L796.0,548.9 L798.5,548.8 L801.0,548.8 L803.5,551.0 L806.0,550.7 L808.5,551.0 L811.0,551.5 L814.0,554.1 L817.0,555.0 L820.0,555.3 L822.5,554.7 L825.0,554.7 L827.5,553.7 L830.0,555.4 L832.5,553.6 L835.0,554.1 L837.5,555.8 L840.0,557.1 L842.5,557.4 L845.0,558.2 L847.5,560.1 L850.0,558.8 L852.5,560.4 L855.0,558.9 L857.5,559.9 L860.0,558.1 L862.5,559.5 L865.0,560.2 L867.5,561.7 L870.0,562.1 L872.5,562.7 L875.0,565.6 L877.5,565.5 L880.0,566.5 L882.5,567.7 L885.0,569.2 L887.5,570.2 L890.0,571.8 L892.5,572.9 L895.0,572.6 L897.5,574.6 L900.0,574.8 L902.5,573.2 L905.0,575.7 L907.5,576.4 L910.0,576.5 L912.5,575.3 L915.0,577.9 L917.5,578.2 L920.0,577.3 L922.5,578.1 L925.0,581.3 L927.5,581.3 L930.0,581.1 L932.5,581.5 L935.0,582.2 L937.5,583.1 L940.0,585.1 L942.5,584.7 L945.0,584.8 L947.5,587.4 L950.0,587.8 L952.5,586.9 L955.0,589.6 L957.5,589.6 L960.0,590.9 L962.5,591.4 L965.0,592.7 L967.5,593.2 L970.0,595.1 L972.5,595.2 L975.0,598.3 L977.5,599.6 L980.0,599.6 L982.5,598.3 L985.0,599.0 L987.5,597.6 L990.0,598.4 L992.5,599.8 L995.0,601.1 L997.5,603.5 L1000.0,603.9 L1002.5,605.7 L1005.0,605.6 L1007.5,607.2 L1010.0,608.0 L1012.5,608.9 L1014.5,611.4 L1016.5,611.0 L1018.5,614.9 L1020.5,615.7 L1022.5,617.7 L1025.0,619.4 L1027.5,621.4 L1030.0,621.7 L1032.5,623.3 L1035.0,626.2 L1037.5,624.9 L1040.0,627.4 L1042.5,628.4 L1045.0,627.8 L1047.5,630.3 L1050.0,631.3 L1052.5,632.8 L1055.0,632.1 L1057.5,634.6 L1060.0,634.2 L1062.5,635.0 L1064.0,638.0 L1065.5,637.8 L1067.0,641.6 L1068.5,643.3 L1070.0,644.6 L1070.6,648.4 L1071.2,649.7 L1071.9,652.4 L1072.5,655.1 L1073.1,658.2 L1073.8,659.2 L1074.1,662.3 L1074.4,664.8 L1074.7,667.6 L1075.0,670.8 L1077.5,669.0 L1080.0,670.0 L1082.5,668.5 L1084.0,671.0 L1085.5,672.7 L1087.0,675.5 L1088.5,679.0 L1090.0,680.4 L1092.5,682.3 L1095.0,682.7 L1097.5,684.2 L1100.0,685.7 L1102.5,686.8 L1105.0,687.2 L1107.5,687.9 L1110.0,686.3 L1111.6,690.6 L1113.1,693.5 L1114.7,695.1 L1116.2,696.3 L1117.0,699.5 L1117.7,701.2 L1118.5,704.2 L1119.2,708.6 L1119.9,710.3 L1120.7,712.9 L1121.4,715.8 L1122.1,713.5 L1122.9,710.1 L1123.6,707.6 L1124.3,705.0 L1125.0,702.7 L1125.8,699.8 L1126.5,697.5 L1128.0,693.4 L1129.5,691.8 L1131.0,688.4 L1133.2,687.3 L1135.5,683.7 L1138.5,683.0 L1141.6,681.8 L1144.5,686.0 L1147.5,688.6 L1150.0,687.6 L1152.5,686.5 L1155.0,687.4 L1157.5,687.0 L1160.0,685.8 L1162.5,684.4 L1165.0,683.9 L1167.5,683.5 L1170.0,684.2 L1172.5,685.4 L1175.0,686.9 L1177.5,688.6 L1178.5,689.1 L1179.5,693.2 L1180.5,694.6 L1181.5,697.5 L1182.5,702.1 L1183.3,698.7 L1184.2,696.9 L1185.0,693.0 L1185.8,689.2 L1186.7,687.4 L1187.5,685.2 L1189.0,683.9 L1190.5,681.8 L1192.0,678.2 L1193.5,675.8 L1195.0,672.7 L1197.5,674.0 L1200.0,672.8 L1202.5,672.5 L1205.0,672.0 L1207.5,671.9 L1210.0,673.5 L1212.5,672.9 L1215.0,675.8 L1217.5,674.4 L1220.0,677.2 L1223.0,675.8 L1226.0,675.9 L1229.0,678.0 L1231.5,677.5 L1234.0,679.3 L1236.5,678.6 L1239.0,679.0 L1241.5,681.3 L1244.0,681.7 L1246.5,682.7 L1249.0,683.0 L1251.5,682.2 L1254.0,684.0 L1256.5,685.0 L1259.0,685.3 L1261.5,687.2 L1264.0,686.5 L1266.5,688.9 L1269.0,689.2 L1271.5,688.5 L1274.0,689.3 L1276.5,691.5 L1279.0,692.6 L1281.5,691.6 L1284.0,692.5 L1286.5,693.7 L1289.0,693.0 L1291.5,694.8 L1294.0,694.5 L1296.5,694.1 L1299.0,695.1 L1301.5,696.0 L1304.0,696.1 L1306.5,697.1 L1309.0,696.6 L1311.5,698.3 L1314.0,698.0 L1316.5,699.0 L1319.0,699.5 L1321.5,699.6 L1324.0,700.1 L1326.5,701.2 L1329.0,702.0 L1331.5,702.5 L1334.0,702.9 L1336.5,703.3 L1339.0,703.7 L1341.5,705.9 L1344.0,706.3 L1346.5,707.2 L1349.0,707.2 L1351.5,707.5 L1354.0,707.9 L1356.5,707.5 L1359.0,707.0 L1361.5,706.4 L1364.0,706.5 L1366.5,707.0 L1369.0,706.1 L1371.5,707.6 L1374.0,708.5 L1376.5,709.9 L1379.0,710.8 L1381.5,711.2 L1384.0,711.8 L1386.5,712.3 L1389.0,712.7 L1391.5,713.0 L1394.0,713.4 L1396.5,713.6 L1399.0,712.7 L1401.5,713.8 L1404.0,713.9 L1406.5,714.1 L1409.0,713.8 L1411.5,714.5 L1414.0,716.3 L1416.5,717.2 L1419.0,718.1 L1421.5,719.5 L1424.0,719.8 L1426.5,719.8 L1429.0,720.6 L1431.5,721.2 L1434.0,720.8 L1436.5,721.7 L1439.0,722.2 L1441.5,721.6 L1444.0,722.4 L1446.5,722.7 L1449.0,722.9 L1451.5,723.0 L1454.0,723.5 L1456.5,724.5 L1459.0,724.9 L1461.5,725.0 L1464.0,724.9 L1466.5,726.2 L1469.0,726.6 L1471.5,727.2 L1474.0,728.8 L1476.5,730.5 L1479.0,731.7 L1481.5,731.1 L1484.0,730.8 L1486.5,730.7 L1489.0,730.0 L1491.5,729.8 L1494.0,729.6 L1496.5,731.5 L1499.0,732.3 L1501.5,733.8 L1504.0,734.9 L1506.5,735.3 L1509.0,735.2 L1511.5,735.4 L1514.0,736.8 L1516.5,736.4 L1519.0,736.4 L1521.5,737.3 L1524.0,737.8 L1526.5,738.0 L1529.0,739.4 L1531.5,740.0 L1534.0,741.1 L1536.5,741.4 L1539.0,740.6 L1541.5,740.9 L1544.0,739.9 L1546.5,741.2 L1549.0,743.0 L1551.5,744.3 L1554.0,746.6 L1556.2,748.3 L1558.4,751.2 L1560.6,753.1 L1562.8,755.4 L1565.5,755.6 L1568.2,754.7 L1571.0,754.4 L1573.8,754.6 L1576.5,754.6 L1579.2,754.5 L1582.0,754.5" stroke="#ff0000" stroke-width="10.8" shape-rendering="crispEdges"/>
<path d="M167.4,767.2 L169.9,768.6 L172.5,770.5 L175.0,770.4 L177.5,771.2 L180.0,769.6 L182.5,767.3 L185.0,768.2 L187.5,767.6 L190.0,764.5 L192.5,763.6 L195.0,768.7 L197.5,769.5 L200.0,767.8 L202.5,770.1 L205.0,768.2 L207.5,767.5 L210.0,766.7 L212.2,767.7 L214.5,768.7 L216.8,771.7 L219.0,773.8 L221.2,778.3 L222.5,772.0 L223.8,773.4 L225.0,767.4 L226.2,765.6 L227.5,765.2 L228.8,767.4 L230.0,767.8 L231.2,768.2 L232.5,772.4 L233.8,769.4 L235.0,769.4 L236.2,763.6 L237.5,761.9 L238.8,766.8 L240.0,765.3 L241.2,769.6 L242.5,773.9 L243.1,776.2 L243.8,775.4 L244.4,777.9 L245.0,780.5 L245.6,786.9 L246.2,786.4 L246.9,786.0 L247.6,784.1 L248.3,778.8 L249.0,775.9 L249.7,776.4 L250.4,772.2 L251.1,767.9 L251.8,767.4 L252.5,762.9 L253.4,765.1 L254.4,766.2 L255.3,772.0 L256.2,775.0 L257.2,776.1 L258.1,779.9 L259.1,778.0 L260.0,781.3 L261.1,780.1 L262.1,780.0 L263.2,777.6 L264.3,772.7 L265.4,769.7 L266.4,768.2 L267.5,766.2 L268.3,770.6 L269.1,769.6 L269.9,774.8 L270.7,776.9 L271.5,779.7 L272.3,781.8 L273.1,783.4 L273.9,784.5 L274.7,786.9 L275.5,789.5 L276.2,793.8 L276.9,788.1 L277.6,786.1 L278.3,786.2 L279.0,781.3 L279.7,778.0 L280.4,775.4 L281.1,775.2 L281.8,771.7 L282.5,772.2 L283.1,774.3 L283.6,777.2 L284.2,776.4 L284.7,778.1 L285.3,780.6 L285.8,785.0 L286.4,788.5 L286.9,789.8 L287.5,791.3 L288.2,794.8 L288.9,798.4 L289.6,801.3 L290.4,804.4 L291.1,807.5 L291.8,809.3 L292.5,809.5 L292.7,810.3 L292.9,805.3 L293.1,804.1 L293.3,800.7 L293.5,799.8 L293.8,794.9 L294.0,792.6 L294.2,790.1 L294.4,787.2 L294.6,788.0 L294.8,784.1 L295.0,780.5 L295.2,778.3 L295.4,778.5 L295.6,773.8 L295.8,770.0 L296.0,770.2 L296.2,767.0 L297.3,770.9 L298.4,769.1 L299.5,773.2 L300.6,777.1 L301.7,779.5 L302.8,782.2 L303.9,780.5 L305.0,784.1 L306.1,780.9 L307.1,778.9 L308.2,780.2 L309.3,776.1 L310.4,775.4 L311.4,770.5 L312.5,770.4 L313.0,771.1 L313.4,772.9 L313.9,777.9 L314.3,781.3 L314.8,780.0 L315.2,784.9 L315.7,787.6 L316.1,788.4 L316.6,791.7 L317.0,793.2 L317.5,796.1 L319.4,798.2 L321.2,801.7 L321.5,799.4 L321.8,794.7 L322.1,791.3 L322.4,790.2 L322.6,789.2 L322.9,784.4 L323.2,782.4 L323.5,779.3 L323.8,779.5 L324.0,775.8 L324.3,771.0 L324.6,768.6 L324.9,767.4 L325.1,765.5 L325.4,763.3 L325.7,758.3 L326.0,756.0 L326.2,755.9 L326.8,757.1 L327.4,759.0 L327.9,761.6 L328.5,767.1 L329.0,766.6 L329.6,770.3 L330.1,771.8 L330.7,774.6 L331.2,779.2 L331.9,782.3 L332.5,781.9 L333.1,783.6 L333.8,788.5 L334.4,788.6 L335.0,790.2 L335.6,796.8 L336.2,797.1 L336.7,796.5 L337.1,792.1 L337.5,791.8 L337.9,787.3 L338.3,783.4 L338.8,780.3 L339.2,780.2 L339.6,778.1 L340.0,776.9 L340.4,770.6 L340.8,770.6 L341.2,766.9 L341.7,765.0 L342.1,760.9 L342.5,759.0 L345.0,757.6 L347.5,757.0 L349.0,755.7 L350.4,760.0 L351.9,763.9 L353.3,767.1 L354.8,766.1 L356.2,768.3 L356.7,769.5 L357.2,767.2 L357.7,762.4 L358.1,757.9 L358.6,759.5 L359.1,754.5 L359.5,754.4 L360.0,750.6 L361.0,754.0 L362.1,753.4 L363.1,758.8 L364.2,758.7 L365.2,762.1 L366.2,766.6 L366.9,763.9 L367.5,758.2 L368.1,755.7 L368.8,753.9 L369.4,751.8 L370.0,748.5 L370.6,744.7 L371.2,742.6 L374.4,745.4 L377.5,746.8 L377.8,745.4 L378.2,750.3 L378.5,753.7 L378.8,752.9 L379.2,759.1 L379.5,758.2 L379.8,763.0 L380.2,765.2 L380.5,768.1 L380.8,769.1 L381.2,772.1 L381.5,775.4 L381.8,777.2 L382.2,780.7 L382.5,782.3 L382.8,779.7 L383.0,775.3 L383.3,775.5 L383.6,772.5 L383.8,768.8 L384.1,768.7 L384.3,766.3 L384.6,762.3 L384.9,758.5 L385.1,757.4 L385.4,753.2 L385.7,750.8 L385.9,749.7 L386.2,745.6 L386.4,744.7 L386.7,742.5 L387.0,737.9 L387.2,738.1 L387.5,733.1 L388.4,733.6 L389.4,731.3 L390.3,727.6 L391.2,722.9 L391.7,727.5 L392.1,729.4 L392.5,734.6 L392.9,733.3 L393.3,739.1 L393.8,742.3 L394.2,743.6 L394.6,746.4 L395.0,746.1 L395.4,752.2 L395.8,752.5 L396.2,757.1 L396.7,759.4 L397.1,758.5 L397.5,763.8 L397.7,762.0 L397.9,755.5 L398.1,754.3 L398.3,753.7 L398.5,748.4 L398.7,749.3 L398.9,744.0 L399.1,744.0 L399.3,738.4 L399.5,737.5 L399.7,736.9 L399.9,731.2 L400.1,728.9 L400.3,727.5 L400.5,724.2 L400.7,720.4 L400.9,718.5 L401.1,715.9 L401.2,717.0 L403.3,717.5 L405.4,720.1 L407.5,718.5 L407.8,718.8 L408.1,713.3 L408.4,712.6 L408.7,710.6 L408.9,706.9 L409.2,706.7 L409.5,702.7 L409.8,700.4 L410.1,699.2 L410.4,693.2 L410.7,694.7 L411.0,690.6 L411.2,687.0 L412.5,691.3 L413.8,691.5 L415.0,697.2 L416.2,697.8 L417.5,699.4 L418.8,703.7 L418.9,699.7 L419.0,696.1 L419.1,696.1 L419.2,690.5 L419.3,691.4 L419.4,686.4 L419.5,685.6 L419.6,684.6 L419.7,680.4 L419.8,678.2 L419.9,674.2 L420.1,670.3 L420.2,667.9 L420.3,666.0 L420.4,665.5 L420.5,662.2 L420.6,660.1 L420.7,659.2 L420.8,653.4 L420.9,651.3 L421.0,650.7 L421.1,645.4 L421.2,642.8 L422.1,641.7 L422.9,638.0 L423.8,636.5 L424.6,633.2 L425.4,632.2 L426.2,629.6 L427.1,625.2 L427.9,624.4 L428.8,621.1 L429.1,622.2 L429.5,628.1 L429.9,627.6 L430.3,629.7 L430.7,632.0 L431.1,636.8 L431.5,640.3 L431.9,642.5 L432.3,643.3 L432.7,645.2 L433.1,646.7 L433.5,651.9 L433.9,654.0 L434.3,655.6 L434.7,659.4 L435.1,661.0 L435.5,665.6 L435.9,667.2 L436.2,667.7 L436.6,668.0 L437.0,661.8 L437.4,661.4 L437.8,658.4 L438.2,655.1 L438.6,651.9 L438.9,652.4 L439.3,646.7 L439.7,646.5 L440.1,645.6 L440.5,639.7 L440.9,637.5 L441.2,636.7 L441.6,638.8 L442.0,641.8 L442.4,645.1 L442.8,644.9 L443.1,648.0 L443.5,650.4 L443.9,651.9 L444.2,657.9 L444.6,659.9 L445.0,662.1 L445.4,661.7 L445.8,667.7 L446.1,669.8 L446.5,671.1 L446.9,674.7 L447.2,676.1 L447.6,677.6 L448.0,679.6 L448.4,682.6 L448.8,684.4 L449.2,683.1 L449.7,682.3 L450.1,679.5 L450.6,677.7 L451.1,674.6 L451.5,670.3 L452.0,669.0 L452.4,666.0 L452.9,664.9 L453.4,661.3 L453.8,657.8 L454.3,656.8 L454.7,655.6 L455.2,650.1 L455.7,650.3 L456.1,644.3 L456.6,642.8 L457.0,640.2 L457.5,639.7 L458.6,642.9 L459.6,644.4 L460.7,645.0 L461.8,649.5 L462.9,649.7 L463.9,651.6 L465.0,656.6 L465.6,658.1 L466.1,661.0 L466.7,663.5 L467.3,667.3 L467.8,667.9 L468.4,672.0 L469.0,674.1 L469.5,677.3 L470.1,678.3 L470.7,682.0 L471.2,684.0 L471.6,680.4 L471.9,677.5 L472.3,676.5 L472.6,671.8 L473.0,672.5 L473.3,667.0 L473.7,663.9 L474.0,661.7 L474.4,662.3 L474.7,657.5 L475.1,654.1 L475.4,651.1 L475.8,648.6 L476.1,648.5 L476.5,645.7 L476.8,643.4 L477.2,641.0 L477.5,635.8 L480.0,636.2 L482.5,633.7 L485.0,633.7 L485.6,636.3 L486.1,639.2 L486.6,638.8 L487.2,644.4 L487.8,647.2 L488.3,649.9 L488.9,649.4 L489.4,652.4 L489.9,654.7 L490.5,657.0 L490.7,657.5 L490.8,654.9 L491.0,651.7 L491.2,649.9 L491.4,646.7 L491.5,643.0 L491.7,639.8 L491.9,637.3 L492.0,637.2 L492.2,632.7 L492.4,630.6 L492.6,628.5 L492.7,624.5 L492.9,622.9 L493.1,620.5 L493.2,619.5 L493.4,615.8 L493.6,613.1 L493.8,612.9 L494.7,613.6 L495.7,617.3 L496.7,618.8 L497.6,619.0 L498.6,622.7 L499.6,625.2 L500.6,628.8 L501.5,629.6 L502.5,633.2 L503.3,630.1 L504.2,626.5 L505.0,626.3 L505.8,621.1 L506.7,621.1 L507.5,616.3 L508.3,613.2 L509.2,611.5 L510.0,610.9 L510.8,609.2 L511.7,603.3 L512.5,602.5 L515.0,605.0 L517.5,608.5 L518.5,603.9 L519.5,602.5 L520.5,599.5 L521.5,598.6 L522.5,594.2 L523.2,599.0 L523.9,599.3 L524.6,601.5 L525.4,605.7 L526.1,607.5 L526.8,608.7 L527.5,613.0 L528.1,608.6 L528.8,608.5 L529.4,605.7 L530.0,603.4 L530.6,600.4 L531.2,597.0 L531.9,594.7 L532.5,592.2 L533.1,591.3 L533.8,586.1 L536.9,590.0 L540.0,588.5 L540.8,591.8 L541.7,594.7 L542.5,599.4 L543.3,600.8 L544.2,603.2 L545.0,607.5 L545.4,602.8 L545.7,601.0 L546.1,598.6 L546.5,596.8 L546.8,594.2 L547.2,591.3 L547.5,587.8 L547.9,585.2 L548.3,582.1 L548.6,581.6 L549.0,578.5 L551.4,576.7 L553.8,573.0 L556.1,571.8 L558.5,570.8 L560.6,572.7 L562.7,573.9 L564.8,577.4 L565.2,576.1 L565.7,571.7 L566.2,569.1 L566.6,566.9 L567.1,565.6 L567.6,563.5 L568.0,559.0 L568.5,556.5 L571.0,557.6 L573.5,558.7 L576.0,560.1 L578.5,558.2 L581.0,557.9 L583.5,556.6 L584.8,556.3 L586.0,553.1 L587.2,548.9 L588.5,548.8 L591.0,546.2 L593.5,546.7 L596.0,548.0 L598.5,547.3 L601.0,546.9 L603.0,544.3 L605.0,542.0 L607.0,541.4 L609.0,538.2 L611.0,536.7 L613.5,536.5 L616.0,534.8 L618.5,535.0 L621.0,535.3 L623.5,534.3 L626.0,532.3 L628.5,531.1 L631.0,529.2 L633.5,526.8 L636.0,526.5 L638.5,525.0 L641.0,524.9 L643.5,524.3 L646.0,522.1 L648.5,521.4 L651.0,520.6 L653.5,518.5 L656.0,516.8 L658.5,516.8 L661.0,516.0 L662.5,513.5 L664.0,511.0 L665.5,509.2 L667.0,506.5 L668.5,504.1 L671.0,502.7 L673.5,501.4 L676.0,501.3 L678.5,499.0 L680.5,498.3 L682.5,497.7 L684.5,496.1 L686.5,494.3 L688.5,491.9 L691.0,493.2 L693.5,494.3 L696.0,495.6 L698.5,496.0 L701.0,497.0 L703.5,498.0 L706.0,496.4 L708.5,497.9 L710.0,500.7 L711.5,502.2 L713.0,505.0 L714.5,508.7 L716.0,508.8 L718.0,511.9 L720.0,512.6 L722.0,516.0 L724.0,518.1 L726.0,518.8 L728.5,517.7 L731.0,518.9 L733.5,518.9 L736.0,519.3 L738.1,520.2 L740.2,522.0 L742.2,524.0 L744.3,524.6 L746.4,525.8 L748.5,528.7 L751.0,527.7 L753.5,530.0 L756.0,530.2 L758.5,532.2 L761.0,531.5 L763.5,534.5 L766.0,533.6 L768.5,533.6 L771.0,534.9 L773.5,536.0 L776.0,536.5 L778.5,539.0 L781.0,540.5 L783.5,542.8 L786.0,543.4 L788.5,544.1 L791.0,545.0 L793.5,547.4 L796.0,548.9 L798.5,548.8 L801.0,548.8 L803.5,551.0 L806.0,550.7 L808.5,551.0 L811.0,551.5 L814.0,554.1 L817.0,555.0 L820.0,555.3 L822.5,554.7 L825.0,554.7 L827.5,553.7 L830.0,555.4 L832.5,553.6 L835.0,554.1 L837.5,555.8 L840.0,557.1 L842.5,557.4 L845.0,558.2 L847.5,560.1 L850.0,558.8 L852.5,560.4 L855.0,558.9 L857.5,559.9 L860.0,558.1 L862.5,559.5 L865.0,560.2 L867.5,561.7 L870.0,562.1 L872.5,562.7 L875.0,565.6 L877.5,565.5 L880.0,566.5 L882.5,567.7 L885.0,569.2 L887.5,570.2 L890.0,571.8 L892.5,572.9 L895.0,572.6 L897.5,574.6 L900.0,574.8 L902.5,573.2 L905.0,575.7 L907.5,576.4 L910.0,576.5 L912.5,575.3 L915.0,577.9 L917.5,578.2 L920.0,577.3 L922.5,578.1 L925.0,581.3 L927.5,581.3 L930.0,581.1 L932.5,581.5 L935.0,582.2 L937.5,583.1 L940.0,585.1 L942.5,584.7 L945.0,584.8 L947.5,587.4 L950.0,587.8 L952.5,586.9 L955.0,589.6 L957.5,589.6 L960.0,590.9 L962.5,591.4 L965.0,592.7 L967.5,593.2 L970.0,595.1 L972.5,595.2 L975.0,598.3 L977.5,599.6 L980.0,599.6 L982.5,598.3 L985.0,599.0 L987.5,597.6 L990.0,598.4 L992.5,599.8 L995.0,601.1 L997.5,603.5 L1000.0,603.9 L1002.5,605.7 L1005.0,605.6 L1007.5,607.2 L1010.0,608.0 L1012.5,608.9 L1014.5,611.4 L1016.5,611.0 L1018.5,614.9 L1020.5,615.7 L1022.5,617.7 L1025.0,619.4 L1027.5,621.4 L1030.0,621.7 L1032.5,623.3 L1035.0,626.2 L1037.5,624.9 L1040.0,627.4 L1042.5,628.4 L1045.0,627.8 L1047.5,630.3 L1050.0,631.3 L1052.5,632.8 L1055.0,632.1 L1057.5,634.6 L1060.0,634.2 L1062.5,635.0 L1064.0,638.0 L1065.5,637.8 L1067.0,641.6 L1068.5,643.3 L1070.0,644.6 L1070.6,648.4 L1071.2,649.7 L1071.9,652.4 L1072.5,655.1 L1073.1,658.2 L1073.8,659.2 L1074.1,662.3 L1074.4,664.8 L1074.7,667.6 L1075.0,670.8 L1077.5,669.0 L1080.0,670.0 L1082.5,668.5 L1084.0,671.0 L1085.5,672.7 L1087.0,675.5 L1088.5,679.0 L1090.0,680.4 L1092.5,682.3 L1095.0,682.7 L1097.5,684.2 L1100.0,685.7 L1102.5,686.8 L1105.0,687.2 L1107.5,687.9 L1110.0,686.3 L1111.6,690.6 L1113.1,693.5 L1114.7,695.1 L1116.2,696.3 L1117.0,699.5 L1117.7,701.2 L1118.5,704.2 L1119.2,708.6 L1119.9,710.3 L1120.7,712.9 L1121.4,715.8 L1122.1,713.5 L1122.9,710.1 L1123.6,707.6 L1124.3,705.0 L1125.0,702.7 L1125.8,699.8 L1126.5,697.5 L1128.0,693.4 L1129.5,691.8 L1131.0,688.4 L1133.2,687.3 L1135.5,683.7 L1138.5,683.0 L1141.6,681.8 L1144.5,686.0 L1147.5,688.6 L1150.0,687.6 L1152.5,686.5 L1155.0,687.4 L1157.5,687.0 L1160.0,685.8 L1162.5,684.4 L1165.0,683.9 L1167.5,683.5 L1170.0,684.2 L1172.5,685.4 L1175.0,686.9 L1177.5,688.6 L1178.5,689.1 L1179.5,693.2 L1180.5,694.6 L1181.5,697.5 L1182.5,702.1 L1183.3,698.7 L1184.2,696.9 L1185.0,693.0 L1185.8,689.2 L1186.7,687.4 L1187.5,685.2 L1189.0,683.9 L1190.5,681.8 L1192.0,678.2 L1193.5,675.8 L1195.0,672.7 L1197.5,674.0 L1200.0,672.8 L1202.5,672.5 L1205.0,672.0 L1207.5,671.9 L1210.0,673.5 L1212.5,672.9 L1215.0,675.8 L1217.5,674.4 L1220.0,677.2 L1223.0,675.8 L1226.0,675.9 L1229.0,678.0 L1231.5,677.5 L1234.0,679.3 L1236.5,678.6 L1239.0,679.0 L1241.5,681.3 L1244.0,681.7 L1246.5,682.7 L1249.0,683.0 L1251.5,682.2 L1254.0,684.0 L1256.5,685.0 L1259.0,685.3 L1261.5,687.2 L1264.0,686.5 L1266.5,688.9 L1269.0,689.2 L1271.5,688.5 L1274.0,689.3 L1276.5,691.5 L1279.0,692.6 L1281.5,691.6 L1284.0,692.5 L1286.5,693.7 L1289.0,693.0 L1291.5,694.8 L1294.0,694.5 L1296.5,694.1 L1299.0,695.1 L1301.5,696.0 L1304.0,696.1 L1306.5,697.1 L1309.0,696.6 L1311.5,698.3 L1314.0,698.0 L1316.5,699.0 L1319.0,699.5 L1321.5,699.6 L1324.0,700.1 L1326.5,701.2 L1329.0,702.0 L1331.5,702.5 L1334.0,702.9 L1336.5,703.3 L1339.0,703.7 L1341.5,705.9 L1344.0,706.3 L1346.5,707.2 L1349.0,707.2 L1351.5,707.5 L1354.0,707.9 L1356.5,707.5 L1359.0,707.0 L1361.5,706.4 L1364.0,706.5 L1366.5,707.0 L1369.0,706.1 L1371.5,707.6 L1374.0,708.5 L1376.5,709.9 L1379.0,710.8 L1381.5,711.2 L1384.0,711.8 L1386.5,712.3 L1389.0,712.7 L1391.5,713.0 L1394.0,713.4 L1396.5,713.6 L1399.0,712.7 L1401.5,713.8 L1404.0,713.9 L1406.5,714.1 L1409.0,713.8 L1411.5,714.5 L1414.0,716.3 L1416.5,717.2 L1419.0,718.1 L1421.5,719.5 L1424.0,719.8 L1426.5,719.8 L1429.0,720.6 L1431.5,721.2 L1434.0,720.8 L1436.5,721.7 L1439.0,722.2 L1441.5,721.6 L1444.0,722.4 L1446.5,722.7 L1449.0,722.9 L1451.5,723.0 L1454.0,723.5 L1456.5,724.5 L1459.0,724.9 L1461.5,725.0 L1464.0,724.9 L1466.5,726.2 L1469.0,726.6 L1471.5,727.2 L1474.0,728.8 L1476.5,730.5 L1479.0,731.7 L1481.5,731.1 L1484.0,730.8 L1486.5,730.7 L1489.0,730.0 L1491.5,729.8 L1494.0,729.6 L1496.5,731.5 L1499.0,732.3 L1501.5,733.8 L1504.0,734.9 L1506.5,735.3 L1509.0,735.2 L1511.5,735.4 L1514.0,736.8 L1516.5,736.4 L1519.0,736.4 L1521.5,737.3 L1524.0,737.8 L1526.5,738.0 L1529.0,739.4 L1531.5,740.0 L1534.0,741.1 L1536.5,741.4 L1539.0,740.6 L1541.5,740.9 L1544.0,739.9 L1546.5,741.2 L1549.0,743.0 L1551.5,744.3 L1554.0,746.6 L1556.2,748.3 L1558.4,751.2 L1560.6,753.1 L1562.8,755.4 L1565.5,755.6 L1568.2,754.7 L1571.0,754.4 L1573.8,754.6 L1576.5,754.6 L1579.2,754.5 L1582.0,754.5" stroke="#ff0000" stroke-width="9.6"/>
<path d="M173.8,634.0 L176.7,634.6 L179.6,631.9 L182.5,633.3 L185.0,633.4 L187.5,629.9 L190.0,632.6 L192.5,632.0 L195.0,630.8 L197.5,634.7 L200.0,631.6 L202.5,633.0 L205.0,633.5 L207.5,635.0 L210.0,633.7 L212.5,632.5 L215.0,632.3 L217.5,630.6 L220.0,633.9 L222.5,633.5 L225.0,629.6 L227.5,628.3 L230.0,628.9 L232.5,629.5 L235.0,632.2 L237.5,632.3 L240.0,632.2 L242.5,628.7 L245.0,632.3 L247.5,632.1 L250.0,631.9 L252.5,633.8 L255.0,629.8 L257.5,630.5 L260.0,633.6 L262.5,634.7 L265.0,633.8 L267.5,631.6 L270.0,632.5 L272.5,632.9 L275.0,629.4 L277.8,630.8 L280.6,630.8 L283.4,630.5 L286.2,632.4 L289.4,632.9 L292.5,635.0 L295.0,633.4 L297.5,634.6 L300.0,630.3 L302.5,633.7 L305.0,631.5 L307.5,631.0 L310.0,635.3 L312.5,632.3 L315.0,635.7 L317.5,636.1 L320.0,636.8 L322.5,634.0 L325.0,636.0 L327.5,633.1 L330.0,635.7 L332.5,634.1 L335.0,631.8 L337.5,631.4 L340.0,631.3 L342.5,634.0 L345.0,632.8 L347.5,633.9 L350.0,632.1 L352.5,632.3 L355.0,631.3 L357.5,634.1 L360.0,633.2 L362.5,631.1 L365.0,634.2 L367.5,631.1 L370.0,631.5 L372.5,630.0 L375.0,630.2 L377.8,631.9 L380.6,628.6 L383.4,626.9 L386.2,627.5 L388.8,628.2 L391.2,632.5 L393.8,630.4 L396.2,636.0 L398.4,630.1 L400.6,632.4 L402.8,629.8 L405.0,626.2 L405.8,624.9 L406.7,621.5 L407.5,618.9 L408.3,616.2 L409.2,614.4 L410.0,614.7 L410.7,612.2 L411.4,609.4 L412.1,603.2 L412.9,601.6 L413.6,601.8 L414.3,595.5 L415.0,596.0 L415.6,591.6 L416.2,592.1 L416.8,585.4 L417.3,586.4 L417.9,581.8 L418.5,578.4 L419.0,575.3 L419.6,576.5 L420.1,572.6 L420.6,568.6 L421.2,567.2 L421.7,566.8 L422.2,561.3 L422.8,560.3 L423.3,555.9 L423.9,553.6 L424.4,553.7 L424.9,550.9 L425.5,546.2 L426.0,543.2 L426.7,540.7 L427.4,540.5 L428.1,537.5 L428.9,534.0 L429.6,531.2 L430.3,530.5 L431.0,528.4 L433.5,527.0 L436.0,524.1 L438.5,524.2 L441.0,525.3 L443.5,529.7 L446.0,529.0 L448.5,530.9 L451.0,528.8 L453.5,532.5 L455.2,528.7 L456.8,528.9 L458.5,527.1 L460.2,523.7 L461.8,519.9 L463.5,521.6 L465.3,518.1 L467.1,517.9 L468.9,513.7 L470.6,511.6 L472.4,512.4 L474.2,508.8 L476.0,506.2 L478.1,505.2 L480.3,504.3 L482.4,500.3 L484.6,500.4 L486.7,498.4 L488.9,496.8 L491.0,493.6 L492.1,493.3 L493.1,491.2 L494.2,488.8 L495.3,484.3 L496.4,483.3 L497.4,479.6 L498.5,478.4 L499.4,473.4 L500.4,473.8 L501.3,471.6 L502.2,467.5 L503.2,465.0 L504.1,462.6 L505.1,460.1 L506.0,455.8 L507.7,457.1 L509.3,452.4 L511.0,450.1 L512.7,447.8 L514.3,446.2 L516.0,446.1 L517.1,440.9 L518.1,438.6 L519.2,438.2 L520.3,434.0 L521.4,430.9 L522.4,430.3 L523.5,427.8 L524.4,425.1 L525.4,423.2 L526.3,418.7 L527.1,418.8 L527.9,415.9 L528.6,411.2 L529.4,409.1 L530.2,407.9 L531.2,405.5 L532.2,402.3 L533.2,399.4 L534.2,397.9 L535.2,394.6 L536.2,393.6 L537.2,392.0 L538.3,387.3 L539.3,386.2 L540.3,384.3 L541.4,380.0 L542.4,379.6 L543.2,377.6 L544.1,373.4 L544.9,371.0 L545.7,369.9 L546.6,366.5 L547.4,363.7 L548.5,362.9 L549.6,360.0 L550.8,356.2 L551.9,353.4 L553.0,351.2 L554.1,349.1 L555.3,348.3 L556.6,345.4 L557.8,343.2 L559.0,340.5 L560.3,338.2 L561.5,333.4 L562.7,332.3 L563.9,331.2 L565.0,328.6 L566.2,324.2 L567.4,322.2 L568.6,320.4 L569.8,317.1 L571.0,315.1 L572.1,311.3 L573.3,309.8 L574.5,307.5 L575.6,303.6 L576.8,301.5 L578.0,301.3 L579.5,298.4 L581.0,296.4 L582.4,293.1 L583.9,291.2 L585.4,289.0 L586.3,286.5 L587.2,281.8 L588.1,281.0 L589.0,277.5 L589.9,276.2 L590.8,272.7 L592.2,271.3 L593.5,270.2 L594.9,267.3 L596.2,264.2 L597.6,262.9 L598.9,260.5 L600.3,259.8 L601.5,255.6 L602.8,253.2 L604.0,251.7 L605.3,247.9 L606.5,246.7 L607.8,245.2 L609.1,241.6 L610.4,238.5 L611.8,236.6 L613.1,234.3 L614.4,230.8 L615.7,228.3 L617.5,226.3 L619.2,224.6 L621.0,222.8 L622.8,220.4 L624.6,218.2 L626.3,215.7 L628.1,214.8 L628.9,213.1 L629.7,210.1 L630.5,207.5 L631.4,205.3 L632.2,201.7 L633.0,200.5 L634.6,197.3 L636.1,194.9 L637.7,192.4 L639.3,189.4 L640.8,186.7 L642.2,184.1 L643.7,181.8 L645.1,180.2 L646.6,177.5 L648.1,175.9 L649.6,172.3 L651.0,171.1 L652.5,170.3 L654.0,166.5 L655.2,165.1 L656.4,162.8 L657.6,160.0 L658.9,159.7 L660.1,155.7 L661.3,154.7 L663.1,150.7 L665.0,148.1 L666.8,147.8 L668.6,144.3 L670.4,141.3 L672.2,140.2 L674.1,138.3 L675.9,137.0 L677.8,133.5 L679.6,131.9 L681.4,131.9 L683.3,129.4 L685.4,126.4 L687.5,125.3 L689.6,123.8 L691.6,123.1 L693.7,121.5 L695.8,120.5 L697.9,118.9 L700.4,116.7 L702.8,115.8 L705.2,114.3 L707.7,112.9 L710.1,110.7 L712.6,110.0 L715.5,109.4 L718.4,109.4 L721.4,106.9 L724.3,108.3 L727.2,105.6 L729.7,107.5 L732.3,107.0 L734.8,106.7 L737.3,107.8 L739.9,106.7 L742.4,106.3 L744.9,107.1 L747.5,107.3 L750.0,106.5 L752.5,106.1 L755.0,106.4 L757.5,106.5 L760.0,107.3 L762.5,106.3 L765.0,106.7 L767.5,107.7 L770.0,107.9 L772.5,108.3 L775.0,110.1 L777.5,110.9 L780.0,110.6 L782.5,111.0 L785.0,110.9 L787.5,111.8 L790.0,111.9 L792.5,113.5 L795.0,114.1 L797.5,113.3 L800.0,116.0 L802.5,115.0 L805.0,116.8 L807.5,117.4 L810.0,118.2 L812.5,117.0 L815.0,118.3 L817.5,120.2 L820.0,118.6 L822.5,119.4 L825.0,121.5 L827.5,122.1 L830.0,123.9 L832.5,124.2 L835.0,124.4 L837.5,126.7 L840.0,126.6 L842.5,127.8 L845.0,129.4 L847.5,129.8 L850.0,130.9 L852.2,132.7 L854.4,133.3 L856.7,136.0 L858.9,136.5 L861.1,137.3 L863.3,137.4 L865.6,139.3 L867.8,140.5 L870.0,142.2 L872.5,143.9 L875.0,146.5 L877.5,148.5 L880.0,149.0 L882.5,151.0 L885.0,153.7 L887.5,156.8 L889.5,156.8 L891.5,159.0 L893.5,161.5 L895.5,161.6 L897.5,163.7 L899.5,167.1 L901.3,168.7 L903.2,169.9 L905.0,170.8 L906.8,174.7 L908.6,176.1 L910.5,178.3 L912.3,180.6 L914.1,182.2 L915.9,182.9 L917.7,184.1 L919.5,186.3 L921.4,188.8 L923.2,190.6 L925.0,191.7 L926.8,193.5 L928.6,196.5 L930.5,198.2 L932.3,199.4 L934.1,202.9 L935.9,203.8 L937.7,204.0 L939.5,206.8 L941.4,209.6 L943.2,210.2 L945.0,213.0 L946.8,213.0 L948.6,215.6 L950.5,218.8 L952.3,220.0 L954.1,222.0 L955.9,222.6 L957.7,225.2 L959.5,227.2 L961.4,228.3 L963.2,231.1 L965.0,232.6 L966.8,235.7 L968.6,236.6 L970.5,238.1 L972.3,239.2 L974.1,241.3 L975.9,244.8 L977.7,245.0 L979.5,246.9 L981.4,249.0 L983.2,251.9 L985.0,254.6 L986.7,256.0 L988.3,258.5 L990.0,258.5 L991.7,260.4 L993.3,264.3 L995.0,265.2 L996.7,268.2 L998.3,269.2 L1000.0,270.7 L1001.7,272.9 L1003.3,274.5 L1005.0,278.6 L1006.7,279.7 L1008.3,281.1 L1010.0,283.3 L1011.7,285.1 L1013.3,286.2 L1015.0,290.4 L1016.7,291.6 L1018.3,294.5 L1020.0,295.2 L1021.7,297.6 L1023.3,298.6 L1025.0,300.1 L1027.0,304.0 L1029.1,305.4 L1031.1,305.5 L1033.2,308.7 L1035.2,310.0 L1037.3,310.3 L1039.3,312.7 L1041.4,315.2 L1043.4,315.6 L1045.5,318.3 L1047.5,318.1 L1049.2,320.3 L1051.0,323.1 L1052.8,323.7 L1054.5,325.8 L1056.2,329.1 L1058.0,330.0 L1059.8,332.6 L1061.5,333.1 L1063.2,334.8 L1065.0,337.1 L1066.9,338.4 L1068.9,342.1 L1070.8,342.0 L1072.8,344.3 L1074.7,344.8 L1076.7,347.6 L1078.6,348.9 L1080.6,350.6 L1082.5,351.4 L1084.4,353.2 L1086.2,356.8 L1088.1,357.3 L1090.0,358.7 L1091.9,360.3 L1093.8,362.2 L1095.6,363.8 L1097.5,365.0 L1100.0,367.2 L1102.5,366.8 L1105.0,366.9 L1107.5,368.8 L1110.0,367.7 L1111.2,370.6 L1112.4,374.5 L1113.6,375.1 L1114.8,378.4 L1116.0,381.9 L1117.2,384.3 L1118.5,385.1 L1119.8,388.1 L1121.0,391.6 L1123.3,392.5 L1125.6,395.8 L1127.9,395.6 L1130.2,399.4 L1132.5,400.0 L1134.6,401.0 L1136.7,403.2 L1138.8,404.0 L1140.8,407.2 L1142.9,407.7 L1145.0,411.0 L1147.1,411.8 L1149.3,412.8 L1151.4,414.1 L1153.6,416.6 L1155.7,417.1 L1157.9,420.4 L1160.0,420.0 L1162.5,422.3 L1165.0,423.7 L1167.5,424.3 L1170.0,426.9 L1172.5,427.2 L1173.6,430.2 L1174.6,432.3 L1175.7,434.0 L1176.8,436.5 L1177.9,438.0 L1178.9,440.6 L1180.0,444.7 L1182.5,444.7 L1185.0,447.1 L1187.5,447.1 L1190.0,449.7 L1192.5,450.7 L1195.0,452.5 L1197.1,453.8 L1199.3,454.9 L1201.4,457.4 L1203.6,458.9 L1205.7,460.5 L1207.9,463.8 L1210.0,464.4 L1212.1,466.2 L1214.3,468.9 L1216.4,470.0 L1218.6,471.7 L1220.7,473.0 L1222.9,472.7 L1225.0,474.5 L1227.1,475.5 L1229.2,478.8 L1231.2,480.4 L1233.3,481.3 L1235.4,483.1 L1237.5,485.4 L1239.6,487.1 L1241.7,487.8 L1243.8,490.8 L1245.8,491.3 L1247.9,493.6 L1250.0,494.3 L1252.3,495.6 L1254.5,498.8 L1256.8,499.9 L1259.1,501.3 L1261.4,501.3 L1263.6,502.7 L1265.9,504.5 L1268.2,506.0 L1270.5,507.7 L1272.7,509.3 L1275.0,510.0 L1277.3,512.0 L1279.5,514.0 L1281.8,514.4 L1284.1,517.1 L1286.4,518.0 L1288.6,519.6 L1290.9,520.1 L1293.2,521.8 L1295.5,523.6 L1297.7,524.3 L1300.0,525.1 L1302.3,528.1 L1304.5,529.5 L1306.8,530.1 L1309.1,531.2 L1311.4,534.1 L1313.6,535.2 L1315.9,535.7 L1318.2,537.5 L1320.5,538.8 L1322.7,541.5 L1325.0,542.0 L1327.3,544.6 L1329.5,545.6 L1331.8,545.9 L1334.1,548.3 L1336.4,549.1 L1338.6,551.1 L1340.9,552.6 L1343.2,553.1 L1345.5,554.1 L1347.7,556.8 L1350.0,557.4 L1352.3,559.3 L1354.5,560.1 L1356.8,561.3 L1359.1,562.5 L1361.4,563.4 L1363.6,564.2 L1365.9,564.8 L1368.2,566.9 L1370.5,567.6 L1372.7,568.9 L1375.0,570.6 L1377.3,570.6 L1379.5,572.6 L1381.8,572.8 L1384.1,574.8 L1386.4,576.1 L1388.6,576.5 L1390.9,578.0 L1393.2,579.7 L1395.5,580.4 L1397.7,581.4 L1400.0,582.2 L1402.5,583.0 L1405.0,584.3 L1407.5,585.4 L1410.0,586.1 L1412.5,587.3 L1415.0,588.1 L1417.5,589.7 L1420.0,590.7 L1422.5,591.2 L1425.0,592.2 L1427.5,593.5 L1430.0,594.4 L1432.5,596.0 L1435.0,596.3 L1437.5,597.3 L1440.0,599.0 L1442.5,599.1 L1445.0,600.6 L1447.5,601.3 L1450.0,602.9 L1452.5,603.3 L1455.0,604.3 L1457.5,604.4 L1460.0,605.7 L1462.5,606.4 L1465.0,607.0 L1467.5,608.1 L1470.0,608.9 L1472.5,608.8 L1475.0,609.7 L1477.6,610.4 L1480.3,610.8 L1482.9,611.2 L1485.5,612.0 L1488.2,612.5 L1490.8,613.7 L1493.5,613.9 L1496.1,614.1 L1498.7,614.9 L1501.4,615.6 L1504.0,616.1 L1506.5,616.4 L1509.0,616.7 L1511.5,617.2 L1514.0,618.8 L1516.5,619.1 L1519.0,618.8 L1521.5,620.0 L1524.0,620.8 L1526.5,620.8 L1529.0,620.8 L1531.5,621.7 L1534.0,622.0 L1536.5,622.2 L1539.0,623.0 L1541.5,622.8 L1544.0,624.3 L1546.5,624.4 L1549.0,624.8 L1551.5,625.6 L1554.0,625.7 L1556.5,625.7 L1559.1,626.1 L1561.6,626.4 L1564.2,626.8 L1566.7,628.1 L1569.3,628.6 L1571.8,628.4 L1574.4,628.8 L1576.9,629.8 L1579.5,630.5 L1582.0,631.0" stroke="#0000ff" stroke-width="10.8" shape-rendering="crispEdges"/>
<path d="M173.8,634.0 L176.7,634.6 L179.6,631.9 L182.5,633.3 L185.0,633.4 L187.5,629.9 L190.0,632.6 L192.5,632.0 L195.0,630.8 L197.5,634.7 L200.0,631.6 L202.5,633.0 L205.0,633.5 L207.5,635.0 L210.0,633.7 L212.5,632.5 L215.0,632.3 L217.5,630.6 L220.0,633.9 L222.5,633.5 L225.0,629.6 L227.5,628.3 L230.0,628.9 L232.5,629.5 L235.0,632.2 L237.5,632.3 L240.0,632.2 L242.5,628.7 L245.0,632.3 L247.5,632.1 L250.0,631.9 L252.5,633.8 L255.0,629.8 L257.5,630.5 L260.0,633.6 L262.5,634.7 L265.0,633.8 L267.5,631.6 L270.0,632.5 L272.5,632.9 L275.0,629.4 L277.8,630.8 L280.6,630.8 L283.4,630.5 L286.2,632.4 L289.4,632.9 L292.5,635.0 L295.0,633.4 L297.5,634.6 L300.0,630.3 L302.5,633.7 L305.0,631.5 L307.5,631.0 L310.0,635.3 L312.5,632.3 L315.0,635.7 L317.5,636.1 L320.0,636.8 L322.5,634.0 L325.0,636.0 L327.5,633.1 L330.0,635.7 L332.5,634.1 L335.0,631.8 L337.5,631.4 L340.0,631.3 L342.5,634.0 L345.0,632.8 L347.5,633.9 L350.0,632.1 L352.5,632.3 L355.0,631.3 L357.5,634.1 L360.0,633.2 L362.5,631.1 L365.0,634.2 L367.5,631.1 L370.0,631.5 L372.5,630.0 L375.0,630.2 L377.8,631.9 L380.6,628.6 L383.4,626.9 L386.2,627.5 L388.8,628.2 L391.2,632.5 L393.8,630.4 L396.2,636.0 L398.4,630.1 L400.6,632.4 L402.8,629.8 L405.0,626.2 L405.8,624.9 L406.7,621.5 L407.5,618.9 L408.3,616.2 L409.2,614.4 L410.0,614.7 L410.7,612.2 L411.4,609.4 L412.1,603.2 L412.9,601.6 L413.6,601.8 L414.3,595.5 L415.0,596.0 L415.6,591.6 L416.2,592.1 L416.8,585.4 L417.3,586.4 L417.9,581.8 L418.5,578.4 L419.0,575.3 L419.6,576.5 L420.1,572.6 L420.6,568.6 L421.2,567.2 L421.7,566.8 L422.2,561.3 L422.8,560.3 L423.3,555.9 L423.9,553.6 L424.4,553.7 L424.9,550.9 L425.5,546.2 L426.0,543.2 L426.7,540.7 L427.4,540.5 L428.1,537.5 L428.9,534.0 L429.6,531.2 L430.3,530.5 L431.0,528.4 L433.5,527.0 L436.0,524.1 L438.5,524.2 L441.0,525.3 L443.5,529.7 L446.0,529.0 L448.5,530.9 L451.0,528.8 L453.5,532.5 L455.2,528.7 L456.8,528.9 L458.5,527.1 L460.2,523.7 L461.8,519.9 L463.5,521.6 L465.3,518.1 L467.1,517.9 L468.9,513.7 L470.6,511.6 L472.4,512.4 L474.2,508.8 L476.0,506.2 L478.1,505.2 L480.3,504.3 L482.4,500.3 L484.6,500.4 L486.7,498.4 L488.9,496.8 L491.0,493.6 L492.1,493.3 L493.1,491.2 L494.2,488.8 L495.3,484.3 L496.4,483.3 L497.4,479.6 L498.5,478.4 L499.4,473.4 L500.4,473.8 L501.3,471.6 L502.2,467.5 L503.2,465.0 L504.1,462.6 L505.1,460.1 L506.0,455.8 L507.7,457.1 L509.3,452.4 L511.0,450.1 L512.7,447.8 L514.3,446.2 L516.0,446.1 L517.1,440.9 L518.1,438.6 L519.2,438.2 L520.3,434.0 L521.4,430.9 L522.4,430.3 L523.5,427.8 L524.4,425.1 L525.4,423.2 L526.3,418.7 L527.1,418.8 L527.9,415.9 L528.6,411.2 L529.4,409.1 L530.2,407.9 L531.2,405.5 L532.2,402.3 L533.2,399.4 L534.2,397.9 L535.2,394.6 L536.2,393.6 L537.2,392.0 L538.3,387.3 L539.3,386.2 L540.3,384.3 L541.4,380.0 L542.4,379.6 L543.2,377.6 L544.1,373.4 L544.9,371.0 L545.7,369.9 L546.6,366.5 L547.4,363.7 L548.5,362.9 L549.6,360.0 L550.8,356.2 L551.9,353.4 L553.0,351.2 L554.1,349.1 L555.3,348.3 L556.6,345.4 L557.8,343.2 L559.0,340.5 L560.3,338.2 L561.5,333.4 L562.7,332.3 L563.9,331.2 L565.0,328.6 L566.2,324.2 L567.4,322.2 L568.6,320.4 L569.8,317.1 L571.0,315.1 L572.1,311.3 L573.3,309.8 L574.5,307.5 L575.6,303.6 L576.8,301.5 L578.0,301.3 L579.5,298.4 L581.0,296.4 L582.4,293.1 L583.9,291.2 L585.4,289.0 L586.3,286.5 L587.2,281.8 L588.1,281.0 L589.0,277.5 L589.9,276.2 L590.8,272.7 L592.2,271.3 L593.5,270.2 L594.9,267.3 L596.2,264.2 L597.6,262.9 L598.9,260.5 L600.3,259.8 L601.5,255.6 L602.8,253.2 L604.0,251.7 L605.3,247.9 L606.5,246.7 L607.8,245.2 L609.1,241.6 L610.4,238.5 L611.8,236.6 L613.1,234.3 L614.4,230.8 L615.7,228.3 L617.5,226.3 L619.2,224.6 L621.0,222.8 L622.8,220.4 L624.6,218.2 L626.3,215.7 L628.1,214.8 L628.9,213.1 L629.7,210.1 L630.5,207.5 L631.4,205.3 L632.2,201.7 L633.0,200.5 L634.6,197.3 L636.1,194.9 L637.7,192.4 L639.3,189.4 L640.8,186.7 L642.2,184.1 L643.7,181.8 L645.1,180.2 L646.6,177.5 L648.1,175.9 L649.6,172.3 L651.0,171.1 L652.5,170.3 L654.0,166.5 L655.2,165.1 L656.4,162.8 L657.6,160.0 L658.9,159.7 L660.1,155.7 L661.3,154.7 L663.1,150.7 L665.0,148.1 L666.8,147.8 L668.6,144.3 L670.4,141.3 L672.2,140.2 L674.1,138.3 L675.9,137.0 L677.8,133.5 L679.6,131.9 L681.4,131.9 L683.3,129.4 L685.4,126.4 L687.5,125.3 L689.6,123.8 L691.6,123.1 L693.7,121.5 L695.8,120.5 L697.9,118.9 L700.4,116.7 L702.8,115.8 L705.2,114.3 L707.7,112.9 L710.1,110.7 L712.6,110.0 L715.5,109.4 L718.4,109.4 L721.4,106.9 L724.3,108.3 L727.2,105.6 L729.7,107.5 L732.3,107.0 L734.8,106.7 L737.3,107.8 L739.9,106.7 L742.4,106.3 L744.9,107.1 L747.5,107.3 L750.0,106.5 L752.5,106.1 L755.0,106.4 L757.5,106.5 L760.0,107.3 L762.5,106.3 L765.0,106.7 L767.5,107.7 L770.0,107.9 L772.5,108.3 L775.0,110.1 L777.5,110.9 L780.0,110.6 L782.5,111.0 L785.0,110.9 L787.5,111.8 L790.0,111.9 L792.5,113.5 L795.0,114.1 L797.5,113.3 L800.0,116.0 L802.5,115.0 L805.0,116.8 L807.5,117.4 L810.0,118.2 L812.5,117.0 L815.0,118.3 L817.5,120.2 L820.0,118.6 L822.5,119.4 L825.0,121.5 L827.5,122.1 L830.0,123.9 L832.5,124.2 L835.0,124.4 L837.5,126.7 L840.0,126.6 L842.5,127.8 L845.0,129.4 L847.5,129.8 L850.0,130.9 L852.2,132.7 L854.4,133.3 L856.7,136.0 L858.9,136.5 L861.1,137.3 L863.3,137.4 L865.6,139.3 L867.8,140.5 L870.0,142.2 L872.5,143.9 L875.0,146.5 L877.5,148.5 L880.0,149.0 L882.5,151.0 L885.0,153.7 L887.5,156.8 L889.5,156.8 L891.5,159.0 L893.5,161.5 L895.5,161.6 L897.5,163.7 L899.5,167.1 L901.3,168.7 L903.2,169.9 L905.0,170.8 L906.8,174.7 L908.6,176.1 L910.5,178.3 L912.3,180.6 L914.1,182.2 L915.9,182.9 L917.7,184.1 L919.5,186.3 L921.4,188.8 L923.2,190.6 L925.0,191.7 L926.8,193.5 L928.6,196.5 L930.5,198.2 L932.3,199.4 L934.1,202.9 L935.9,203.8 L937.7,204.0 L939.5,206.8 L941.4,209.6 L943.2,210.2 L945.0,213.0 L946.8,213.0 L948.6,215.6 L950.5,218.8 L952.3,220.0 L954.1,222.0 L955.9,222.6 L957.7,225.2 L959.5,227.2 L961.4,228.3 L963.2,231.1 L965.0,232.6 L966.8,235.7 L968.6,236.6 L970.5,238.1 L972.3,239.2 L974.1,241.3 L975.9,244.8 L977.7,245.0 L979.5,246.9 L981.4,249.0 L983.2,251.9 L985.0,254.6 L986.7,256.0 L988.3,258.5 L990.0,258.5 L991.7,260.4 L993.3,264.3 L995.0,265.2 L996.7,268.2 L998.3,269.2 L1000.0,270.7 L1001.7,272.9 L1003.3,274.5 L1005.0,278.6 L1006.7,279.7 L1008.3,281.1 L1010.0,283.3 L1011.7,285.1 L1013.3,286.2 L1015.0,290.4 L1016.7,291.6 L1018.3,294.5 L1020.0,295.2 L1021.7,297.6 L1023.3,298.6 L1025.0,300.1 L1027.0,304.0 L1029.1,305.4 L1031.1,305.5 L1033.2,308.7 L1035.2,310.0 L1037.3,310.3 L1039.3,312.7 L1041.4,315.2 L1043.4,315.6 L1045.5,318.3 L1047.5,318.1 L1049.2,320.3 L1051.0,323.1 L1052.8,323.7 L1054.5,325.8 L1056.2,329.1 L1058.0,330.0 L1059.8,332.6 L1061.5,333.1 L1063.2,334.8 L1065.0,337.1 L1066.9,338.4 L1068.9,342.1 L1070.8,342.0 L1072.8,344.3 L1074.7,344.8 L1076.7,347.6 L1078.6,348.9 L1080.6,350.6 L1082.5,351.4 L1084.4,353.2 L1086.2,356.8 L1088.1,357.3 L1090.0,358.7 L1091.9,360.3 L1093.8,362.2 L1095.6,363.8 L1097.5,365.0 L1100.0,367.2 L1102.5,366.8 L1105.0,366.9 L1107.5,368.8 L1110.0,367.7 L1111.2,370.6 L1112.4,374.5 L1113.6,375.1 L1114.8,378.4 L1116.0,381.9 L1117.2,384.3 L1118.5,385.1 L1119.8,388.1 L1121.0,391.6 L1123.3,392.5 L1125.6,395.8 L1127.9,395.6 L1130.2,399.4 L1132.5,400.0 L1134.6,401.0 L1136.7,403.2 L1138.8,404.0 L1140.8,407.2 L1142.9,407.7 L1145.0,411.0 L1147.1,411.8 L1149.3,412.8 L1151.4,414.1 L1153.6,416.6 L1155.7,417.1 L1157.9,420.4 L1160.0,420.0 L1162.5,422.3 L1165.0,423.7 L1167.5,424.3 L1170.0,426.9 L1172.5,427.2 L1173.6,430.2 L1174.6,432.3 L1175.7,434.0 L1176.8,436.5 L1177.9,438.0 L1178.9,440.6 L1180.0,444.7 L1182.5,444.7 L1185.0,447.1 L1187.5,447.1 L1190.0,449.7 L1192.5,450.7 L1195.0,452.5 L1197.1,453.8 L1199.3,454.9 L1201.4,457.4 L1203.6,458.9 L1205.7,460.5 L1207.9,463.8 L1210.0,464.4 L1212.1,466.2 L1214.3,468.9 L1216.4,470.0 L1218.6,471.7 L1220.7,473.0 L1222.9,472.7 L1225.0,474.5 L1227.1,475.5 L1229.2,478.8 L1231.2,480.4 L1233.3,481.3 L1235.4,483.1 L1237.5,485.4 L1239.6,487.1 L1241.7,487.8 L1243.8,490.8 L1245.8,491.3 L1247.9,493.6 L1250.0,494.3 L1252.3,495.6 L1254.5,498.8 L1256.8,499.9 L1259.1,501.3 L1261.4,501.3 L1263.6,502.7 L1265.9,504.5 L1268.2,506.0 L1270.5,507.7 L1272.7,509.3 L1275.0,510.0 L1277.3,512.0 L1279.5,514.0 L1281.8,514.4 L1284.1,517.1 L1286.4,518.0 L1288.6,519.6 L1290.9,520.1 L1293.2,521.8 L1295.5,523.6 L1297.7,524.3 L1300.0,525.1 L1302.3,528.1 L1304.5,529.5 L1306.8,530.1 L1309.1,531.2 L1311.4,534.1 L1313.6,535.2 L1315.9,535.7 L1318.2,537.5 L1320.5,538.8 L1322.7,541.5 L1325.0,542.0 L1327.3,544.6 L1329.5,545.6 L1331.8,545.9 L1334.1,548.3 L1336.4,549.1 L1338.6,551.1 L1340.9,552.6 L1343.2,553.1 L1345.5,554.1 L1347.7,556.8 L1350.0,557.4 L1352.3,559.3 L1354.5,560.1 L1356.8,561.3 L1359.1,562.5 L1361.4,563.4 L1363.6,564.2 L1365.9,564.8 L1368.2,566.9 L1370.5,567.6 L1372.7,568.9 L1375.0,570.6 L1377.3,570.6 L1379.5,572.6 L1381.8,572.8 L1384.1,574.8 L1386.4,576.1 L1388.6,576.5 L1390.9,578.0 L1393.2,579.7 L1395.5,580.4 L1397.7,581.4 L1400.0,582.2 L1402.5,583.0 L1405.0,584.3 L1407.5,585.4 L1410.0,586.1 L1412.5,587.3 L1415.0,588.1 L1417.5,589.7 L1420.0,590.7 L1422.5,591.2 L1425.0,592.2 L1427.5,593.5 L1430.0,594.4 L1432.5,596.0 L1435.0,596.3 L1437.5,597.3 L1440.0,599.0 L1442.5,599.1 L1445.0,600.6 L1447.5,601.3 L1450.0,602.9 L1452.5,603.3 L1455.0,604.3 L1457.5,604.4 L1460.0,605.7 L1462.5,606.4 L1465.0,607.0 L1467.5,608.1 L1470.0,608.9 L1472.5,608.8 L1475.0,609.7 L1477.6,610.4 L1480.3,610.8 L1482.9,611.2 L1485.5,612.0 L1488.2,612.5 L1490.8,613.7 L1493.5,613.9 L1496.1,614.1 L1498.7,614.9 L1501.4,615.6 L1504.0,616.1 L1506.5,616.4 L1509.0,616.7 L1511.5,617.2 L1514.0,618.8 L1516.5,619.1 L1519.0,618.8 L1521.5,620.0 L1524.0,620.8 L1526.5,620.8 L1529.0,620.8 L1531.5,621.7 L1534.0,622.0 L1536.5,622.2 L1539.0,623.0 L1541.5,622.8 L1544.0,624.3 L1546.5,624.4 L1549.0,624.8 L1551.5,625.6 L1554.0,625.7 L1556.5,625.7 L1559.1,626.1 L1561.6,626.4 L1564.2,626.8 L1566.7,628.1 L1569.3,628.6 L1571.8,628.4 L1574.4,628.8 L1576.9,629.8 L1579.5,630.5 L1582.0,631.0" stroke="#0000ff" stroke-width="9.6"/>
<path d="M167.4,966.0 L169.9,968.1 L172.4,967.5 L175.0,966.4 L177.5,963.7 L180.0,962.3 L182.8,966.5 L185.6,965.4 L188.4,966.9 L191.2,969.0 L194.1,966.9 L196.9,967.8 L199.7,963.8 L202.5,961.6 L205.0,963.7 L207.5,963.7 L210.0,964.3 L212.5,963.4 L215.0,965.4 L217.5,966.5 L220.0,965.5 L222.5,966.5 L225.0,965.9 L227.5,965.9 L230.0,966.4 L232.5,963.4 L235.0,965.5 L237.5,962.4 L240.0,963.0 L242.5,964.7 L245.0,962.3 L247.5,963.7 L250.0,967.2 L252.5,967.0 L255.0,970.4 L257.5,968.0 L260.0,972.8 L262.5,971.6 L265.0,970.1 L267.5,967.2 L270.0,965.3 L272.5,965.7 L275.0,966.3 L277.5,967.1 L280.0,968.0 L282.5,969.7 L284.4,968.6 L286.2,967.1 L288.1,965.3 L290.0,959.7 L290.8,963.0 L291.5,966.4 L292.2,969.7 L293.0,971.4 L293.8,973.4 L294.5,975.6 L295.6,974.4 L296.7,972.8 L297.8,972.9 L298.9,970.4 L300.0,967.9 L302.5,969.7 L305.0,970.9 L307.5,970.6 L310.0,972.7 L311.5,967.0 L313.0,967.6 L314.5,965.0 L316.0,961.3 L317.5,960.3 L319.1,964.3 L320.6,964.3 L322.2,967.2 L323.8,967.8 L325.6,965.8 L327.5,966.1 L329.4,960.0 L331.2,958.6 L333.4,963.0 L335.6,964.1 L337.8,964.7 L340.0,969.5 L341.7,966.1 L343.3,965.0 L345.0,962.1 L346.7,960.6 L348.3,958.6 L350.0,955.8 L352.2,956.0 L354.4,957.9 L356.6,962.7 L358.8,962.7 L361.0,959.2 L363.2,961.2 L365.5,956.9 L367.8,954.6 L370.0,955.1 L372.5,954.8 L375.0,956.8 L377.5,958.1 L380.0,957.5 L383.1,961.0 L386.2,960.7 L387.3,960.1 L388.4,957.9 L389.5,953.1 L390.5,952.1 L391.6,948.0 L392.7,947.2 L393.8,946.7 L395.9,944.0 L398.1,943.5 L400.3,942.4 L402.5,938.2 L405.0,941.3 L407.5,939.1 L410.0,935.4 L412.5,937.7 L414.4,933.6 L416.2,930.4 L418.1,931.7 L420.0,927.8 L420.4,926.1 L420.8,920.6 L421.2,920.8 L421.7,915.0 L422.1,913.2 L422.5,911.1 L422.9,906.9 L423.3,906.8 L423.8,902.5 L426.2,902.3 L428.8,903.4 L431.2,901.6 L433.8,902.9 L434.8,904.3 L435.8,907.8 L436.8,909.0 L437.8,913.0 L438.8,915.3 L441.2,910.7 L443.8,911.4 L446.2,908.1 L448.3,911.9 L450.4,913.7 L452.5,916.3 L454.0,911.2 L455.5,910.0 L457.0,909.2 L458.5,907.8 L460.0,904.6 L462.3,900.9 L464.6,902.1 L466.9,899.1 L469.2,899.8 L471.5,899.7 L473.8,896.0 L475.0,896.6 L476.2,893.2 L477.5,889.1 L478.8,886.3 L480.0,884.8 L481.2,883.8 L482.5,880.3 L483.8,876.3 L485.0,873.7 L486.2,871.8 L487.5,872.1 L488.8,867.6 L491.6,868.3 L494.4,866.7 L497.2,867.6 L500.0,865.8 L501.7,862.7 L503.3,863.0 L505.0,859.5 L506.7,857.8 L508.3,855.9 L510.0,854.1 L511.4,848.7 L512.9,847.7 L514.3,844.9 L515.7,843.9 L517.1,843.1 L518.6,840.7 L520.0,835.9 L521.7,834.3 L523.3,834.4 L525.0,831.9 L526.7,828.8 L528.3,827.0 L530.0,823.9 L531.4,824.0 L532.9,820.4 L534.3,819.8 L535.7,816.8 L537.1,812.9 L538.6,811.6 L540.0,809.1 L542.5,809.9 L545.0,807.6 L547.5,804.6 L548.8,802.2 L550.0,800.1 L551.2,797.7 L552.5,795.2 L553.9,792.5 L555.4,790.3 L556.8,787.1 L558.2,786.7 L559.6,783.8 L561.1,780.7 L562.5,779.9 L564.6,779.8 L566.7,775.3 L568.8,774.0 L570.8,773.8 L572.9,771.0 L575.0,769.4 L576.8,767.9 L578.6,765.0 L580.4,763.8 L582.1,761.5 L583.9,760.5 L585.7,758.5 L587.5,753.7 L589.6,753.3 L591.7,752.0 L593.8,750.4 L595.8,748.2 L597.9,746.0 L600.0,744.1 L602.5,742.4 L605.0,741.2 L607.5,741.5 L610.0,740.7 L612.5,739.9 L614.2,737.3 L615.8,734.5 L617.5,733.8 L619.2,731.9 L620.8,729.4 L622.5,727.9 L624.6,725.4 L626.7,724.3 L628.8,722.3 L630.8,719.7 L632.9,718.7 L635.0,717.0 L637.5,717.3 L640.0,714.5 L642.5,712.7 L645.0,710.8 L647.5,709.3 L650.0,708.1 L652.5,706.1 L655.0,704.2 L657.5,705.0 L660.0,702.4 L662.5,701.3 L665.0,700.6 L667.5,698.9 L670.0,697.5 L672.5,696.2 L675.0,695.7 L677.2,694.5 L679.5,694.3 L681.8,692.6 L684.0,692.4 L686.2,689.6 L688.3,693.2 L690.4,694.4 L692.5,695.2 L695.0,693.3 L697.5,692.3 L700.0,691.3 L702.5,689.6 L705.0,690.7 L707.5,689.8 L710.0,691.0 L712.5,688.9 L715.0,689.3 L717.5,689.8 L720.0,687.5 L722.5,686.9 L725.4,686.3 L728.3,686.6 L731.2,686.9 L733.3,689.7 L735.4,690.1 L737.5,692.2 L740.0,691.2 L742.5,691.8 L745.0,691.9 L747.5,690.9 L750.0,689.2 L752.5,690.4 L755.0,690.7 L757.5,689.5 L760.0,687.9 L762.5,689.6 L765.0,691.0 L767.5,690.8 L770.0,691.6 L772.5,692.9 L775.0,695.1 L777.5,697.2 L780.4,695.8 L783.3,695.7 L786.2,693.0 L788.3,695.0 L790.4,697.7 L792.5,699.1 L795.0,697.8 L797.5,697.7 L800.0,696.1 L802.5,694.6 L805.0,694.8 L807.5,694.1 L810.0,696.0 L812.5,695.5 L815.0,696.2 L817.5,697.3 L820.0,697.1 L822.5,698.4 L825.0,698.0 L827.5,701.1 L830.0,700.8 L832.5,702.5 L835.0,700.7 L837.5,702.8 L840.0,702.8 L842.5,701.6 L845.0,700.7 L847.5,700.6 L850.0,700.3 L852.5,703.2 L855.0,702.7 L857.5,705.8 L860.0,706.1 L862.5,707.6 L865.0,708.0 L867.5,708.1 L870.0,708.7 L872.5,708.8 L875.0,708.3 L877.5,710.6 L880.0,710.6 L882.5,713.0 L885.0,714.4 L887.5,715.7 L890.0,715.0 L892.5,716.7 L895.0,717.7 L897.5,716.9 L900.0,716.9 L902.5,719.1 L905.0,721.6 L907.5,721.0 L910.0,722.2 L912.5,724.9 L915.0,726.9 L917.5,728.6 L920.0,729.0 L922.5,732.1 L925.0,731.6 L927.5,734.4 L930.0,733.3 L932.5,733.8 L935.0,734.7 L937.5,735.1 L940.0,736.9 L942.5,737.6 L945.0,737.4 L947.5,740.1 L950.0,739.4 L952.5,739.6 L955.0,740.4 L957.0,743.6 L959.0,745.8 L961.0,745.6 L963.0,747.0 L965.0,750.7 L967.5,749.6 L970.0,751.8 L972.5,750.7 L975.0,751.4 L977.5,750.8 L980.0,753.5 L982.5,754.1 L985.0,755.2 L987.5,758.1 L990.0,757.5 L992.5,760.6 L995.0,759.9 L997.5,762.5 L1000.0,762.9 L1002.5,765.1 L1005.0,764.1 L1007.5,766.4 L1010.0,767.0 L1012.5,769.2 L1015.0,770.2 L1017.5,770.3 L1019.5,770.8 L1021.5,772.4 L1023.5,773.9 L1025.5,775.8 L1027.5,776.8 L1030.0,777.7 L1032.5,780.2 L1035.0,780.9 L1037.5,781.0 L1040.0,783.8 L1042.5,783.0 L1045.0,785.2 L1047.5,785.4 L1050.0,788.4 L1052.5,789.7 L1055.0,789.4 L1057.5,790.3 L1060.0,790.2 L1062.5,788.5 L1065.0,788.3 L1067.1,790.2 L1069.2,792.7 L1071.2,792.2 L1073.3,795.1 L1075.4,796.3 L1077.5,797.4 L1080.0,799.2 L1082.5,801.4 L1085.0,801.1 L1087.5,804.3 L1090.0,804.4 L1092.5,807.0 L1095.0,808.4 L1097.5,807.9 L1100.0,810.9 L1102.5,812.5 L1105.0,812.0 L1107.5,812.5 L1110.0,814.0 L1112.5,817.5 L1115.0,816.2 L1115.8,821.1 L1116.5,821.6 L1117.2,825.6 L1118.0,826.5 L1118.8,829.1 L1121.2,832.4 L1123.8,832.7 L1125.8,830.8 L1127.9,829.8 L1130.0,826.8 L1132.5,826.9 L1135.0,826.9 L1137.5,824.1 L1140.0,824.3 L1142.5,826.2 L1145.0,826.3 L1147.5,825.0 L1150.0,826.7 L1152.5,826.4 L1155.0,827.3 L1157.5,827.5 L1160.0,828.3 L1162.5,831.9 L1165.0,831.2 L1167.5,833.7 L1170.0,832.8 L1172.2,835.9 L1174.4,837.2 L1176.6,840.1 L1178.8,841.7 L1180.0,845.8 L1181.2,847.2 L1182.5,851.6 L1183.8,853.8 L1185.6,850.9 L1187.5,849.6 L1189.4,848.1 L1191.2,847.3 L1194.1,846.2 L1196.9,846.1 L1199.7,848.4 L1202.5,848.5 L1205.0,849.1 L1207.5,848.9 L1210.0,849.7 L1212.5,850.9 L1215.0,851.4 L1217.3,852.5 L1219.7,854.7 L1222.0,855.5 L1224.3,857.0 L1226.7,857.6 L1229.0,857.8 L1231.5,860.5 L1234.0,861.6 L1236.5,862.4 L1239.0,863.5 L1241.5,864.9 L1244.0,866.7 L1246.5,867.6 L1249.0,868.3 L1251.5,868.7 L1254.0,869.6 L1256.5,870.9 L1259.0,873.2 L1261.5,873.1 L1264.0,874.2 L1266.5,875.3 L1269.0,875.8 L1271.5,878.7 L1274.0,877.8 L1276.5,880.1 L1279.0,881.9 L1281.5,881.4 L1284.0,883.0 L1286.5,883.5 L1289.0,884.1 L1291.5,884.9 L1294.0,885.7 L1296.5,888.0 L1299.0,888.7 L1301.5,889.9 L1304.0,889.2 L1306.5,891.1 L1309.0,891.2 L1311.5,892.5 L1314.0,893.1 L1316.5,893.4 L1319.0,895.3 L1321.5,894.4 L1324.0,896.4 L1326.5,897.4 L1329.0,897.5 L1331.5,898.9 L1334.0,900.8 L1336.5,900.8 L1339.0,902.7 L1341.5,904.1 L1344.0,904.8 L1346.5,906.6 L1349.0,905.3 L1351.5,904.6 L1354.0,903.9 L1356.5,905.5 L1359.0,906.4 L1361.5,908.3 L1364.0,909.6 L1366.5,910.6 L1369.0,912.7 L1371.5,913.1 L1374.0,915.0 L1376.5,915.4 L1379.0,916.7 L1381.5,917.4 L1384.0,918.3 L1386.5,918.9 L1389.0,919.8 L1391.5,921.8 L1394.0,921.3 L1396.5,921.3 L1399.0,921.3 L1401.5,921.6 L1404.0,920.9 L1406.5,921.9 L1409.0,923.7 L1411.5,924.3 L1414.0,925.6 L1416.5,926.9 L1419.0,928.0 L1421.5,928.3 L1424.0,927.7 L1426.5,928.5 L1429.0,929.4 L1431.5,929.8 L1434.0,929.3 L1436.5,929.7 L1439.0,930.2 L1441.5,930.4 L1444.0,931.1 L1446.5,932.6 L1449.0,933.2 L1451.5,934.1 L1454.0,934.6 L1456.5,936.0 L1459.0,937.7 L1461.5,938.3 L1464.0,939.0 L1466.5,940.0 L1469.0,940.7 L1471.5,941.1 L1474.0,940.7 L1476.5,941.7 L1479.0,941.7 L1481.5,942.3 L1484.0,942.3 L1486.5,942.8 L1489.0,943.2 L1491.5,943.6 L1494.0,943.5 L1496.5,944.1 L1499.0,944.9 L1501.5,944.6 L1504.0,945.1 L1506.5,946.2 L1509.0,946.0 L1511.5,946.9 L1514.0,947.6 L1516.5,949.2 L1519.0,949.1 L1521.5,950.6 L1524.0,951.7 L1526.5,951.1 L1529.0,951.5 L1531.5,952.1 L1534.0,952.1 L1536.5,952.0 L1539.0,951.8 L1541.5,952.4 L1544.0,953.0 L1546.5,954.0 L1549.0,954.1 L1551.5,954.9 L1554.0,955.8 L1556.5,956.6 L1559.0,956.7 L1561.5,957.4 L1564.1,957.8 L1566.6,958.3 L1569.2,957.6 L1571.8,958.7 L1574.3,958.5 L1576.9,958.3 L1579.4,958.8 L1582.0,958.5" stroke="#008080" stroke-width="10.8" shape-rendering="crispEdges"/>
<path d="M167.4,966.0 L169.9,968.1 L172.4,967.5 L175.0,966.4 L177.5,963.7 L180.0,962.3 L182.8,966.5 L185.6,965.4 L188.4,966.9 L191.2,969.0 L194.1,966.9 L196.9,967.8 L199.7,963.8 L202.5,961.6 L205.0,963.7 L207.5,963.7 L210.0,964.3 L212.5,963.4 L215.0,965.4 L217.5,966.5 L220.0,965.5 L222.5,966.5 L225.0,965.9 L227.5,965.9 L230.0,966.4 L232.5,963.4 L235.0,965.5 L237.5,962.4 L240.0,963.0 L242.5,964.7 L245.0,962.3 L247.5,963.7 L250.0,967.2 L252.5,967.0 L255.0,970.4 L257.5,968.0 L260.0,972.8 L262.5,971.6 L265.0,970.1 L267.5,967.2 L270.0,965.3 L272.5,965.7 L275.0,966.3 L277.5,967.1 L280.0,968.0 L282.5,969.7 L284.4,968.6 L286.2,967.1 L288.1,965.3 L290.0,959.7 L290.8,963.0 L291.5,966.4 L292.2,969.7 L293.0,971.4 L293.8,973.4 L294.5,975.6 L295.6,974.4 L296.7,972.8 L297.8,972.9 L298.9,970.4 L300.0,967.9 L302.5,969.7 L305.0,970.9 L307.5,970.6 L310.0,972.7 L311.5,967.0 L313.0,967.6 L314.5,965.0 L316.0,961.3 L317.5,960.3 L319.1,964.3 L320.6,964.3 L322.2,967.2 L323.8,967.8 L325.6,965.8 L327.5,966.1 L329.4,960.0 L331.2,958.6 L333.4,963.0 L335.6,964.1 L337.8,964.7 L340.0,969.5 L341.7,966.1 L343.3,965.0 L345.0,962.1 L346.7,960.6 L348.3,958.6 L350.0,955.8 L352.2,956.0 L354.4,957.9 L356.6,962.7 L358.8,962.7 L361.0,959.2 L363.2,961.2 L365.5,956.9 L367.8,954.6 L370.0,955.1 L372.5,954.8 L375.0,956.8 L377.5,958.1 L380.0,957.5 L383.1,961.0 L386.2,960.7 L387.3,960.1 L388.4,957.9 L389.5,953.1 L390.5,952.1 L391.6,948.0 L392.7,947.2 L393.8,946.7 L395.9,944.0 L398.1,943.5 L400.3,942.4 L402.5,938.2 L405.0,941.3 L407.5,939.1 L410.0,935.4 L412.5,937.7 L414.4,933.6 L416.2,930.4 L418.1,931.7 L420.0,927.8 L420.4,926.1 L420.8,920.6 L421.2,920.8 L421.7,915.0 L422.1,913.2 L422.5,911.1 L422.9,906.9 L423.3,906.8 L423.8,902.5 L426.2,902.3 L428.8,903.4 L431.2,901.6 L433.8,902.9 L434.8,904.3 L435.8,907.8 L436.8,909.0 L437.8,913.0 L438.8,915.3 L441.2,910.7 L443.8,911.4 L446.2,908.1 L448.3,911.9 L450.4,913.7 L452.5,916.3 L454.0,911.2 L455.5,910.0 L457.0,909.2 L458.5,907.8 L460.0,904.6 L462.3,900.9 L464.6,902.1 L466.9,899.1 L469.2,899.8 L471.5,899.7 L473.8,896.0 L475.0,896.6 L476.2,893.2 L477.5,889.1 L478.8,886.3 L480.0,884.8 L481.2,883.8 L482.5,880.3 L483.8,876.3 L485.0,873.7 L486.2,871.8 L487.5,872.1 L488.8,867.6 L491.6,868.3 L494.4,866.7 L497.2,867.6 L500.0,865.8 L501.7,862.7 L503.3,863.0 L505.0,859.5 L506.7,857.8 L508.3,855.9 L510.0,854.1 L511.4,848.7 L512.9,847.7 L514.3,844.9 L515.7,843.9 L517.1,843.1 L518.6,840.7 L520.0,835.9 L521.7,834.3 L523.3,834.4 L525.0,831.9 L526.7,828.8 L528.3,827.0 L530.0,823.9 L531.4,824.0 L532.9,820.4 L534.3,819.8 L535.7,816.8 L537.1,812.9 L538.6,811.6 L540.0,809.1 L542.5,809.9 L545.0,807.6 L547.5,804.6 L548.8,802.2 L550.0,800.1 L551.2,797.7 L552.5,795.2 L553.9,792.5 L555.4,790.3 L556.8,787.1 L558.2,786.7 L559.6,783.8 L561.1,780.7 L562.5,779.9 L564.6,779.8 L566.7,775.3 L568.8,774.0 L570.8,773.8 L572.9,771.0 L575.0,769.4 L576.8,767.9 L578.6,765.0 L580.4,763.8 L582.1,761.5 L583.9,760.5 L585.7,758.5 L587.5,753.7 L589.6,753.3 L591.7,752.0 L593.8,750.4 L595.8,748.2 L597.9,746.0 L600.0,744.1 L602.5,742.4 L605.0,741.2 L607.5,741.5 L610.0,740.7 L612.5,739.9 L614.2,737.3 L615.8,734.5 L617.5,733.8 L619.2,731.9 L620.8,729.4 L622.5,727.9 L624.6,725.4 L626.7,724.3 L628.8,722.3 L630.8,719.7 L632.9,718.7 L635.0,717.0 L637.5,717.3 L640.0,714.5 L642.5,712.7 L645.0,710.8 L647.5,709.3 L650.0,708.1 L652.5,706.1 L655.0,704.2 L657.5,705.0 L660.0,702.4 L662.5,701.3 L665.0,700.6 L667.5,698.9 L670.0,697.5 L672.5,696.2 L675.0,695.7 L677.2,694.5 L679.5,694.3 L681.8,692.6 L684.0,692.4 L686.2,689.6 L688.3,693.2 L690.4,694.4 L692.5,695.2 L695.0,693.3 L697.5,692.3 L700.0,691.3 L702.5,689.6 L705.0,690.7 L707.5,689.8 L710.0,691.0 L712.5,688.9 L715.0,689.3 L717.5,689.8 L720.0,687.5 L722.5,686.9 L725.4,686.3 L728.3,686.6 L731.2,686.9 L733.3,689.7 L735.4,690.1 L737.5,692.2 L740.0,691.2 L742.5,691.8 L745.0,691.9 L747.5,690.9 L750.0,689.2 L752.5,690.4 L755.0,690.7 L757.5,689.5 L760.0,687.9 L762.5,689.6 L765.0,691.0 L767.5,690.8 L770.0,691.6 L772.5,692.9 L775.0,695.1 L777.5,697.2 L780.4,695.8 L783.3,695.7 L786.2,693.0 L788.3,695.0 L790.4,697.7 L792.5,699.1 L795.0,697.8 L797.5,697.7 L800.0,696.1 L802.5,694.6 L805.0,694.8 L807.5,694.1 L810.0,696.0 L812.5,695.5 L815.0,696.2 L817.5,697.3 L820.0,697.1 L822.5,698.4 L825.0,698.0 L827.5,701.1 L830.0,700.8 L832.5,702.5 L835.0,700.7 L837.5,702.8 L840.0,702.8 L842.5,701.6 L845.0,700.7 L847.5,700.6 L850.0,700.3 L852.5,703.2 L855.0,702.7 L857.5,705.8 L860.0,706.1 L862.5,707.6 L865.0,708.0 L867.5,708.1 L870.0,708.7 L872.5,708.8 L875.0,708.3 L877.5,710.6 L880.0,710.6 L882.5,713.0 L885.0,714.4 L887.5,715.7 L890.0,715.0 L892.5,716.7 L895.0,717.7 L897.5,716.9 L900.0,716.9 L902.5,719.1 L905.0,721.6 L907.5,721.0 L910.0,722.2 L912.5,724.9 L915.0,726.9 L917.5,728.6 L920.0,729.0 L922.5,732.1 L925.0,731.6 L927.5,734.4 L930.0,733.3 L932.5,733.8 L935.0,734.7 L937.5,735.1 L940.0,736.9 L942.5,737.6 L945.0,737.4 L947.5,740.1 L950.0,739.4 L952.5,739.6 L955.0,740.4 L957.0,743.6 L959.0,745.8 L961.0,745.6 L963.0,747.0 L965.0,750.7 L967.5,749.6 L970.0,751.8 L972.5,750.7 L975.0,751.4 L977.5,750.8 L980.0,753.5 L982.5,754.1 L985.0,755.2 L987.5,758.1 L990.0,757.5 L992.5,760.6 L995.0,759.9 L997.5,762.5 L1000.0,762.9 L1002.5,765.1 L1005.0,764.1 L1007.5,766.4 L1010.0,767.0 L1012.5,769.2 L1015.0,770.2 L1017.5,770.3 L1019.5,770.8 L1021.5,772.4 L1023.5,773.9 L1025.5,775.8 L1027.5,776.8 L1030.0,777.7 L1032.5,780.2 L1035.0,780.9 L1037.5,781.0 L1040.0,783.8 L1042.5,783.0 L1045.0,785.2 L1047.5,785.4 L1050.0,788.4 L1052.5,789.7 L1055.0,789.4 L1057.5,790.3 L1060.0,790.2 L1062.5,788.5 L1065.0,788.3 L1067.1,790.2 L1069.2,792.7 L1071.2,792.2 L1073.3,795.1 L1075.4,796.3 L1077.5,797.4 L1080.0,799.2 L1082.5,801.4 L1085.0,801.1 L1087.5,804.3 L1090.0,804.4 L1092.5,807.0 L1095.0,808.4 L1097.5,807.9 L1100.0,810.9 L1102.5,812.5 L1105.0,812.0 L1107.5,812.5 L1110.0,814.0 L1112.5,817.5 L1115.0,816.2 L1115.8,821.1 L1116.5,821.6 L1117.2,825.6 L1118.0,826.5 L1118.8,829.1 L1121.2,832.4 L1123.8,832.7 L1125.8,830.8 L1127.9,829.8 L1130.0,826.8 L1132.5,826.9 L1135.0,826.9 L1137.5,824.1 L1140.0,824.3 L1142.5,826.2 L1145.0,826.3 L1147.5,825.0 L1150.0,826.7 L1152.5,826.4 L1155.0,827.3 L1157.5,827.5 L1160.0,828.3 L1162.5,831.9 L1165.0,831.2 L1167.5,833.7 L1170.0,832.8 L1172.2,835.9 L1174.4,837.2 L1176.6,840.1 L1178.8,841.7 L1180.0,845.8 L1181.2,847.2 L1182.5,851.6 L1183.8,853.8 L1185.6,850.9 L1187.5,849.6 L1189.4,848.1 L1191.2,847.3 L1194.1,846.2 L1196.9,846.1 L1199.7,848.4 L1202.5,848.5 L1205.0,849.1 L1207.5,848.9 L1210.0,849.7 L1212.5,850.9 L1215.0,851.4 L1217.3,852.5 L1219.7,854.7 L1222.0,855.5 L1224.3,857.0 L1226.7,857.6 L1229.0,857.8 L1231.5,860.5 L1234.0,861.6 L1236.5,862.4 L1239.0,863.5 L1241.5,864.9 L1244.0,866.7 L1246.5,867.6 L1249.0,868.3 L1251.5,868.7 L1254.0,869.6 L1256.5,870.9 L1259.0,873.2 L1261.5,873.1 L1264.0,874.2 L1266.5,875.3 L1269.0,875.8 L1271.5,878.7 L1274.0,877.8 L1276.5,880.1 L1279.0,881.9 L1281.5,881.4 L1284.0,883.0 L1286.5,883.5 L1289.0,884.1 L1291.5,884.9 L1294.0,885.7 L1296.5,888.0 L1299.0,888.7 L1301.5,889.9 L1304.0,889.2 L1306.5,891.1 L1309.0,891.2 L1311.5,892.5 L1314.0,893.1 L1316.5,893.4 L1319.0,895.3 L1321.5,894.4 L1324.0,896.4 L1326.5,897.4 L1329.0,897.5 L1331.5,898.9 L1334.0,900.8 L1336.5,900.8 L1339.0,902.7 L1341.5,904.1 L1344.0,904.8 L1346.5,906.6 L1349.0,905.3 L1351.5,904.6 L1354.0,903.9 L1356.5,905.5 L1359.0,906.4 L1361.5,908.3 L1364.0,909.6 L1366.5,910.6 L1369.0,912.7 L1371.5,913.1 L1374.0,915.0 L1376.5,915.4 L1379.0,916.7 L1381.5,917.4 L1384.0,918.3 L1386.5,918.9 L1389.0,919.8 L1391.5,921.8 L1394.0,921.3 L1396.5,921.3 L1399.0,921.3 L1401.5,921.6 L1404.0,920.9 L1406.5,921.9 L1409.0,923.7 L1411.5,924.3 L1414.0,925.6 L1416.5,926.9 L1419.0,928.0 L1421.5,928.3 L1424.0,927.7 L1426.5,928.5 L1429.0,929.4 L1431.5,929.8 L1434.0,929.3 L1436.5,929.7 L1439.0,930.2 L1441.5,930.4 L1444.0,931.1 L1446.5,932.6 L1449.0,933.2 L1451.5,934.1 L1454.0,934.6 L1456.5,936.0 L1459.0,937.7 L1461.5,938.3 L1464.0,939.0 L1466.5,940.0 L1469.0,940.7 L1471.5,941.1 L1474.0,940.7 L1476.5,941.7 L1479.0,941.7 L1481.5,942.3 L1484.0,942.3 L1486.5,942.8 L1489.0,943.2 L1491.5,943.6 L1494.0,943.5 L1496.5,944.1 L1499.0,944.9 L1501.5,944.6 L1504.0,945.1 L1506.5,946.2 L1509.0,946.0 L1511.5,946.9 L1514.0,947.6 L1516.5,949.2 L1519.0,949.1 L1521.5,950.6 L1524.0,951.7 L1526.5,951.1 L1529.0,951.5 L1531.5,952.1 L1534.0,952.1 L1536.5,952.0 L1539.0,951.8 L1541.5,952.4 L1544.0,953.0 L1546.5,954.0 L1549.0,954.1 L1551.5,954.9 L1554.0,955.8 L1556.5,956.6 L1559.0,956.7 L1561.5,957.4 L1564.1,957.8 L1566.6,958.3 L1569.2,957.6 L1571.8,958.7 L1574.3,958.5 L1576.9,958.3 L1579.4,958.8 L1582.0,958.5" stroke="#008080" stroke-width="9.6"/>
<path d="M185.0,1096.8 L187.5,1100.3 L190.0,1099.0 L192.5,1100.1 L195.0,1100.4 L197.5,1102.7 L200.0,1102.4 L202.5,1098.9 L205.0,1101.3 L207.5,1100.5 L210.0,1100.2 L212.5,1101.8 L215.0,1099.6 L217.5,1098.6 L220.0,1099.3 L222.5,1096.0 L225.0,1095.0 L227.5,1096.6 L230.0,1099.6 L232.5,1100.5 L235.0,1102.4 L237.5,1099.8 L240.0,1097.1 L242.5,1099.1 L245.0,1097.5 L247.5,1097.5 L250.0,1097.2 L252.5,1093.9 L255.0,1094.0 L257.5,1093.1 L260.0,1097.4 L262.5,1095.0 L265.0,1095.9 L267.5,1099.9 L270.0,1100.3 L272.5,1099.2 L275.0,1103.3 L277.5,1104.7 L280.0,1102.7 L282.5,1099.8 L285.0,1101.8 L287.5,1099.6 L290.0,1100.1 L292.5,1101.8 L295.0,1100.7 L297.5,1100.7 L300.0,1097.1 L302.5,1099.2 L305.0,1101.3 L307.5,1100.2 L310.4,1103.5 L313.3,1099.0 L316.2,1097.7 L317.8,1095.4 L319.4,1092.6 L320.9,1092.9 L322.5,1089.0 L324.2,1091.3 L325.8,1093.4 L327.5,1094.2 L330.0,1096.3 L332.5,1099.8 L335.0,1100.5 L337.5,1101.6 L340.0,1098.1 L342.5,1097.1 L345.0,1095.7 L347.5,1097.2 L350.0,1095.7 L352.5,1096.1 L355.0,1096.2 L357.5,1096.6 L360.0,1095.6 L362.5,1097.6 L365.0,1093.6 L367.5,1095.7 L370.0,1092.8 L372.5,1090.4 L375.0,1091.6 L377.5,1092.7 L380.0,1092.1 L382.5,1092.8 L385.0,1091.7 L387.5,1091.5 L390.0,1092.4 L392.5,1088.5 L395.0,1089.0 L397.5,1087.9 L400.0,1085.4 L402.5,1083.8 L405.0,1085.0 L407.5,1081.8 L410.0,1082.7 L412.5,1078.0 L413.4,1077.2 L414.3,1075.6 L415.2,1070.5 L416.1,1071.6 L417.0,1065.6 L417.9,1065.4 L418.8,1061.1 L420.0,1061.9 L421.2,1057.8 L422.5,1056.3 L423.8,1052.5 L425.0,1050.8 L426.2,1048.3 L429.2,1046.2 L432.1,1045.4 L435.0,1047.7 L437.5,1046.0 L440.0,1050.5 L442.5,1048.8 L445.0,1050.4 L447.5,1052.5 L450.0,1057.4 L452.5,1057.1 L455.0,1054.0 L457.5,1054.1 L460.0,1051.5 L462.5,1054.1 L465.0,1053.2 L467.5,1051.1 L470.0,1050.8 L472.5,1053.3 L473.5,1048.2 L474.5,1048.8 L475.5,1044.2 L476.5,1041.5 L477.5,1040.3 L479.6,1037.6 L481.7,1036.9 L483.8,1033.7 L485.8,1034.9 L487.9,1031.0 L490.0,1031.3 L492.5,1028.0 L495.0,1029.6 L497.5,1029.5 L500.0,1026.6 L502.5,1024.6 L504.2,1023.9 L505.8,1023.0 L507.5,1019.6 L509.2,1018.9 L510.8,1015.5 L512.5,1014.9 L515.0,1014.5 L517.5,1012.3 L520.0,1011.9 L522.5,1008.7 L525.0,1009.9 L527.5,1006.2 L530.0,1007.6 L532.5,1006.6 L535.0,1005.2 L537.5,1002.6 L539.6,1000.2 L541.7,998.8 L543.8,998.5 L545.8,996.2 L547.9,995.9 L550.0,991.7 L551.8,990.9 L553.5,989.9 L555.2,987.0 L557.0,984.7 L558.8,981.3 L561.7,981.8 L564.6,982.7 L567.5,984.9 L569.5,983.0 L571.5,979.5 L573.5,979.7 L575.5,975.4 L577.5,975.3 L579.5,974.8 L581.5,971.6 L583.5,971.7 L585.5,969.4 L587.5,966.3 L590.0,965.0 L592.5,963.2 L595.0,960.6 L597.5,961.3 L600.0,959.2 L602.5,960.1 L605.0,958.2 L607.5,956.1 L610.0,955.8 L612.5,953.0 L615.0,952.6 L617.5,952.0 L620.0,950.2 L622.5,948.6 L625.0,946.3 L627.5,946.3 L630.0,945.5 L632.5,947.3 L635.0,946.2 L637.5,947.7 L639.5,945.4 L641.5,943.7 L643.5,942.7 L645.5,939.6 L647.5,937.9 L650.0,939.1 L652.5,936.6 L655.0,937.1 L657.5,937.6 L660.0,937.0 L662.5,936.6 L665.0,934.4 L667.5,934.3 L670.0,930.3 L672.5,931.2 L675.0,931.3 L677.5,930.3 L680.0,931.2 L682.5,930.4 L685.0,931.6 L687.5,931.8 L690.0,931.7 L692.5,931.5 L695.0,932.2 L697.5,931.1 L700.0,930.3 L702.5,929.9 L705.0,931.0 L707.9,929.6 L710.8,930.2 L713.8,927.5 L715.8,931.6 L717.9,932.1 L720.0,934.5 L722.5,933.6 L725.0,933.6 L727.5,932.1 L730.0,933.2 L732.5,931.5 L735.0,931.6 L737.5,930.9 L740.0,931.7 L742.5,932.6 L745.0,932.7 L747.5,934.8 L750.0,933.3 L752.5,935.2 L755.0,934.1 L757.5,934.7 L760.0,935.0 L762.5,934.5 L765.0,932.6 L767.5,933.7 L770.0,935.3 L772.5,936.9 L775.0,935.1 L777.5,936.6 L780.0,936.7 L782.5,937.1 L785.0,935.8 L787.5,937.1 L790.0,937.4 L792.5,939.8 L795.0,938.7 L797.5,942.4 L800.0,940.4 L802.5,939.8 L805.0,938.4 L807.5,939.9 L810.0,942.2 L812.5,943.2 L815.0,942.8 L817.5,943.3 L820.0,942.8 L822.5,943.0 L825.0,943.0 L827.5,943.3 L830.0,945.0 L832.5,945.5 L835.0,945.3 L837.5,944.9 L840.0,945.4 L842.5,946.6 L845.0,947.3 L847.5,947.3 L850.0,947.3 L852.5,946.5 L855.0,948.0 L857.5,948.9 L860.0,949.1 L862.5,947.7 L865.0,950.6 L867.5,950.9 L870.0,951.6 L872.5,955.0 L875.0,955.4 L877.5,956.1 L880.0,954.9 L882.5,957.1 L885.0,957.8 L887.5,958.1 L890.0,958.1 L892.5,958.9 L895.0,959.3 L897.5,959.2 L900.0,959.3 L902.5,960.8 L905.0,962.0 L907.5,963.5 L910.0,963.2 L912.5,966.2 L915.0,965.8 L917.5,967.7 L920.0,966.3 L922.5,969.2 L925.0,969.5 L927.5,969.1 L930.0,971.6 L932.5,971.1 L935.0,972.0 L937.5,973.6 L940.0,973.2 L942.5,974.0 L945.0,975.3 L947.5,974.8 L950.0,975.0 L952.5,975.9 L955.0,978.6 L957.5,980.3 L960.0,979.8 L962.5,980.3 L965.0,979.8 L967.5,978.5 L969.5,979.2 L971.5,982.1 L973.5,984.1 L975.5,984.3 L977.5,986.5 L980.0,986.8 L982.5,986.4 L985.0,984.0 L987.5,985.0 L990.0,985.0 L992.5,986.5 L995.0,989.6 L997.5,989.8 L1000.0,991.5 L1002.5,992.0 L1005.0,992.5 L1007.5,993.0 L1010.0,994.2 L1012.5,996.3 L1015.0,996.6 L1017.5,997.4 L1020.0,998.5 L1022.5,1000.7 L1025.0,1001.4 L1027.5,1000.3 L1030.0,1000.4 L1032.5,1001.7 L1035.0,1000.9 L1037.5,1003.3 L1040.0,1002.6 L1042.5,1005.2 L1045.0,1004.2 L1047.5,1005.0 L1050.0,1007.4 L1052.5,1006.5 L1055.0,1006.8 L1057.5,1008.9 L1060.0,1008.6 L1062.5,1009.8 L1065.0,1008.9 L1067.5,1009.6 L1070.0,1011.2 L1072.5,1010.4 L1075.0,1012.1 L1077.5,1010.4 L1080.0,1012.5 L1082.5,1011.2 L1085.0,1012.6 L1087.5,1011.6 L1090.0,1012.4 L1092.5,1014.7 L1095.0,1013.8 L1097.5,1015.1 L1100.0,1014.0 L1102.5,1014.6 L1105.0,1012.4 L1107.5,1012.0 L1110.0,1011.3 L1112.5,1008.8 L1115.0,1010.5 L1117.5,1014.0 L1120.0,1016.0 L1122.5,1016.4 L1125.0,1015.9 L1127.5,1018.3 L1130.0,1018.9 L1132.5,1021.2 L1135.0,1020.3 L1137.5,1021.7 L1140.0,1022.2 L1142.5,1022.2 L1145.0,1023.2 L1147.5,1024.2 L1150.0,1025.4 L1152.5,1025.0 L1155.0,1025.1 L1157.5,1027.2 L1160.0,1025.3 L1162.5,1027.7 L1165.0,1027.8 L1167.5,1028.0 L1170.0,1028.1 L1172.5,1029.4 L1175.0,1031.0 L1177.5,1031.8 L1180.0,1033.1 L1182.5,1032.5 L1185.0,1034.0 L1187.5,1034.3 L1190.0,1037.2 L1192.5,1037.8 L1195.0,1036.6 L1197.5,1038.6 L1200.0,1039.4 L1202.5,1038.8 L1205.0,1040.6 L1207.5,1042.3 L1210.0,1042.9 L1212.7,1042.2 L1215.4,1043.7 L1218.1,1042.8 L1220.9,1043.8 L1223.6,1043.7 L1226.3,1045.4 L1229.0,1044.9 L1231.5,1045.9 L1234.0,1046.3 L1236.5,1046.2 L1239.0,1048.3 L1241.5,1048.4 L1244.0,1049.0 L1246.5,1048.7 L1249.0,1049.1 L1251.5,1050.7 L1254.0,1052.0 L1256.5,1052.4 L1259.0,1051.9 L1261.5,1052.0 L1264.0,1053.3 L1266.5,1054.6 L1269.0,1053.5 L1271.5,1055.3 L1274.0,1054.6 L1276.5,1055.4 L1279.0,1055.3 L1281.5,1056.4 L1284.0,1057.2 L1286.5,1058.9 L1289.0,1059.5 L1291.5,1058.5 L1294.0,1059.3 L1296.5,1061.1 L1299.0,1060.3 L1301.5,1061.1 L1304.0,1061.9 L1306.5,1061.7 L1309.0,1062.4 L1311.5,1063.1 L1314.0,1063.5 L1316.5,1065.0 L1319.0,1064.1 L1321.5,1064.5 L1324.0,1066.1 L1326.5,1065.7 L1329.0,1066.8 L1331.5,1066.8 L1334.0,1067.4 L1336.5,1066.9 L1339.0,1067.0 L1341.5,1068.3 L1344.0,1068.2 L1346.5,1068.6 L1349.0,1069.1 L1351.5,1069.6 L1354.0,1069.2 L1356.5,1069.7 L1359.0,1071.0 L1361.5,1070.8 L1364.0,1070.9 L1366.5,1071.8 L1369.0,1071.7 L1371.5,1072.9 L1374.0,1072.3 L1376.5,1073.8 L1379.0,1073.8 L1381.5,1073.9 L1384.0,1075.1 L1386.5,1074.6 L1389.0,1074.9 L1391.5,1075.1 L1394.0,1076.1 L1396.5,1076.7 L1399.0,1077.0 L1401.5,1077.0 L1404.0,1077.9 L1406.5,1077.4 L1409.0,1078.0 L1411.5,1078.8 L1414.0,1079.6 L1416.5,1079.5 L1419.0,1080.0 L1421.5,1080.5 L1424.0,1080.4 L1426.5,1081.4 L1429.0,1081.5 L1431.5,1081.6 L1434.0,1082.1 L1436.5,1083.1 L1439.0,1083.1 L1441.5,1083.4 L1444.0,1084.7 L1446.5,1084.8 L1449.0,1085.3 L1451.5,1086.0 L1454.0,1086.7 L1456.5,1086.1 L1459.0,1086.7 L1461.5,1086.7 L1464.0,1087.4 L1466.5,1087.9 L1469.0,1088.6 L1471.5,1088.7 L1474.0,1088.9 L1476.5,1089.1 L1479.0,1089.6 L1481.5,1089.5 L1484.0,1090.5 L1486.5,1090.7 L1489.0,1091.1 L1491.5,1090.6 L1494.0,1091.5 L1496.5,1091.9 L1499.0,1091.9 L1501.5,1092.7 L1504.0,1093.0 L1506.5,1093.0 L1509.0,1093.3 L1511.5,1093.3 L1514.0,1093.8 L1516.5,1093.1 L1519.0,1093.9 L1521.5,1094.1 L1524.0,1094.2 L1526.5,1094.0 L1529.0,1094.0 L1531.5,1094.9 L1534.0,1095.5 L1536.5,1095.1 L1539.0,1095.4 L1541.5,1095.7 L1544.0,1095.8 L1546.5,1096.8 L1549.0,1097.5 L1551.5,1097.6 L1554.0,1097.3 L1556.5,1097.9 L1559.1,1097.3 L1561.6,1098.4 L1564.2,1097.9 L1566.7,1097.7 L1569.3,1098.6 L1571.8,1098.2 L1574.4,1098.5 L1576.9,1098.4 L1579.5,1099.0 L1582.0,1099.3" stroke="#ff00ff" stroke-width="10.8" shape-rendering="crispEdges"/>
<path d="M185.0,1096.8 L187.5,1100.3 L190.0,1099.0 L192.5,1100.1 L195.0,1100.4 L197.5,1102.7 L200.0,1102.4 L202.5,1098.9 L205.0,1101.3 L207.5,1100.5 L210.0,1100.2 L212.5,1101.8 L215.0,1099.6 L217.5,1098.6 L220.0,1099.3 L222.5,1096.0 L225.0,1095.0 L227.5,1096.6 L230.0,1099.6 L232.5,1100.5 L235.0,1102.4 L237.5,1099.8 L240.0,1097.1 L242.5,1099.1 L245.0,1097.5 L247.5,1097.5 L250.0,1097.2 L252.5,1093.9 L255.0,1094.0 L257.5,1093.1 L260.0,1097.4 L262.5,1095.0 L265.0,1095.9 L267.5,1099.9 L270.0,1100.3 L272.5,1099.2 L275.0,1103.3 L277.5,1104.7 L280.0,1102.7 L282.5,1099.8 L285.0,1101.8 L287.5,1099.6 L290.0,1100.1 L292.5,1101.8 L295.0,1100.7 L297.5,1100.7 L300.0,1097.1 L302.5,1099.2 L305.0,1101.3 L307.5,1100.2 L310.4,1103.5 L313.3,1099.0 L316.2,1097.7 L317.8,1095.4 L319.4,1092.6 L320.9,1092.9 L322.5,1089.0 L324.2,1091.3 L325.8,1093.4 L327.5,1094.2 L330.0,1096.3 L332.5,1099.8 L335.0,1100.5 L337.5,1101.6 L340.0,1098.1 L342.5,1097.1 L345.0,1095.7 L347.5,1097.2 L350.0,1095.7 L352.5,1096.1 L355.0,1096.2 L357.5,1096.6 L360.0,1095.6 L362.5,1097.6 L365.0,1093.6 L367.5,1095.7 L370.0,1092.8 L372.5,1090.4 L375.0,1091.6 L377.5,1092.7 L380.0,1092.1 L382.5,1092.8 L385.0,1091.7 L387.5,1091.5 L390.0,1092.4 L392.5,1088.5 L395.0,1089.0 L397.5,1087.9 L400.0,1085.4 L402.5,1083.8 L405.0,1085.0 L407.5,1081.8 L410.0,1082.7 L412.5,1078.0 L413.4,1077.2 L414.3,1075.6 L415.2,1070.5 L416.1,1071.6 L417.0,1065.6 L417.9,1065.4 L418.8,1061.1 L420.0,1061.9 L421.2,1057.8 L422.5,1056.3 L423.8,1052.5 L425.0,1050.8 L426.2,1048.3 L429.2,1046.2 L432.1,1045.4 L435.0,1047.7 L437.5,1046.0 L440.0,1050.5 L442.5,1048.8 L445.0,1050.4 L447.5,1052.5 L450.0,1057.4 L452.5,1057.1 L455.0,1054.0 L457.5,1054.1 L460.0,1051.5 L462.5,1054.1 L465.0,1053.2 L467.5,1051.1 L470.0,1050.8 L472.5,1053.3 L473.5,1048.2 L474.5,1048.8 L475.5,1044.2 L476.5,1041.5 L477.5,1040.3 L479.6,1037.6 L481.7,1036.9 L483.8,1033.7 L485.8,1034.9 L487.9,1031.0 L490.0,1031.3 L492.5,1028.0 L495.0,1029.6 L497.5,1029.5 L500.0,1026.6 L502.5,1024.6 L504.2,1023.9 L505.8,1023.0 L507.5,1019.6 L509.2,1018.9 L510.8,1015.5 L512.5,1014.9 L515.0,1014.5 L517.5,1012.3 L520.0,1011.9 L522.5,1008.7 L525.0,1009.9 L527.5,1006.2 L530.0,1007.6 L532.5,1006.6 L535.0,1005.2 L537.5,1002.6 L539.6,1000.2 L541.7,998.8 L543.8,998.5 L545.8,996.2 L547.9,995.9 L550.0,991.7 L551.8,990.9 L553.5,989.9 L555.2,987.0 L557.0,984.7 L558.8,981.3 L561.7,981.8 L564.6,982.7 L567.5,984.9 L569.5,983.0 L571.5,979.5 L573.5,979.7 L575.5,975.4 L577.5,975.3 L579.5,974.8 L581.5,971.6 L583.5,971.7 L585.5,969.4 L587.5,966.3 L590.0,965.0 L592.5,963.2 L595.0,960.6 L597.5,961.3 L600.0,959.2 L602.5,960.1 L605.0,958.2 L607.5,956.1 L610.0,955.8 L612.5,953.0 L615.0,952.6 L617.5,952.0 L620.0,950.2 L622.5,948.6 L625.0,946.3 L627.5,946.3 L630.0,945.5 L632.5,947.3 L635.0,946.2 L637.5,947.7 L639.5,945.4 L641.5,943.7 L643.5,942.7 L645.5,939.6 L647.5,937.9 L650.0,939.1 L652.5,936.6 L655.0,937.1 L657.5,937.6 L660.0,937.0 L662.5,936.6 L665.0,934.4 L667.5,934.3 L670.0,930.3 L672.5,931.2 L675.0,931.3 L677.5,930.3 L680.0,931.2 L682.5,930.4 L685.0,931.6 L687.5,931.8 L690.0,931.7 L692.5,931.5 L695.0,932.2 L697.5,931.1 L700.0,930.3 L702.5,929.9 L705.0,931.0 L707.9,929.6 L710.8,930.2 L713.8,927.5 L715.8,931.6 L717.9,932.1 L720.0,934.5 L722.5,933.6 L725.0,933.6 L727.5,932.1 L730.0,933.2 L732.5,931.5 L735.0,931.6 L737.5,930.9 L740.0,931.7 L742.5,932.6 L745.0,932.7 L747.5,934.8 L750.0,933.3 L752.5,935.2 L755.0,934.1 L757.5,934.7 L760.0,935.0 L762.5,934.5 L765.0,932.6 L767.5,933.7 L770.0,935.3 L772.5,936.9 L775.0,935.1 L777.5,936.6 L780.0,936.7 L782.5,937.1 L785.0,935.8 L787.5,937.1 L790.0,937.4 L792.5,939.8 L795.0,938.7 L797.5,942.4 L800.0,940.4 L802.5,939.8 L805.0,938.4 L807.5,939.9 L810.0,942.2 L812.5,943.2 L815.0,942.8 L817.5,943.3 L820.0,942.8 L822.5,943.0 L825.0,943.0 L827.5,943.3 L830.0,945.0 L832.5,945.5 L835.0,945.3 L837.5,944.9 L840.0,945.4 L842.5,946.6 L845.0,947.3 L847.5,947.3 L850.0,947.3 L852.5,946.5 L855.0,948.0 L857.5,948.9 L860.0,949.1 L862.5,947.7 L865.0,950.6 L867.5,950.9 L870.0,951.6 L872.5,955.0 L875.0,955.4 L877.5,956.1 L880.0,954.9 L882.5,957.1 L885.0,957.8 L887.5,958.1 L890.0,958.1 L892.5,958.9 L895.0,959.3 L897.5,959.2 L900.0,959.3 L902.5,960.8 L905.0,962.0 L907.5,963.5 L910.0,963.2 L912.5,966.2 L915.0,965.8 L917.5,967.7 L920.0,966.3 L922.5,969.2 L925.0,969.5 L927.5,969.1 L930.0,971.6 L932.5,971.1 L935.0,972.0 L937.5,973.6 L940.0,973.2 L942.5,974.0 L945.0,975.3 L947.5,974.8 L950.0,975.0 L952.5,975.9 L955.0,978.6 L957.5,980.3 L960.0,979.8 L962.5,980.3 L965.0,979.8 L967.5,978.5 L969.5,979.2 L971.5,982.1 L973.5,984.1 L975.5,984.3 L977.5,986.5 L980.0,986.8 L982.5,986.4 L985.0,984.0 L987.5,985.0 L990.0,985.0 L992.5,986.5 L995.0,989.6 L997.5,989.8 L1000.0,991.5 L1002.5,992.0 L1005.0,992.5 L1007.5,993.0 L1010.0,994.2 L1012.5,996.3 L1015.0,996.6 L1017.5,997.4 L1020.0,998.5 L1022.5,1000.7 L1025.0,1001.4 L1027.5,1000.3 L1030.0,1000.4 L1032.5,1001.7 L1035.0,1000.9 L1037.5,1003.3 L1040.0,1002.6 L1042.5,1005.2 L1045.0,1004.2 L1047.5,1005.0 L1050.0,1007.4 L1052.5,1006.5 L1055.0,1006.8 L1057.5,1008.9 L1060.0,1008.6 L1062.5,1009.8 L1065.0,1008.9 L1067.5,1009.6 L1070.0,1011.2 L1072.5,1010.4 L1075.0,1012.1 L1077.5,1010.4 L1080.0,1012.5 L1082.5,1011.2 L1085.0,1012.6 L1087.5,1011.6 L1090.0,1012.4 L1092.5,1014.7 L1095.0,1013.8 L1097.5,1015.1 L1100.0,1014.0 L1102.5,1014.6 L1105.0,1012.4 L1107.5,1012.0 L1110.0,1011.3 L1112.5,1008.8 L1115.0,1010.5 L1117.5,1014.0 L1120.0,1016.0 L1122.5,1016.4 L1125.0,1015.9 L1127.5,1018.3 L1130.0,1018.9 L1132.5,1021.2 L1135.0,1020.3 L1137.5,1021.7 L1140.0,1022.2 L1142.5,1022.2 L1145.0,1023.2 L1147.5,1024.2 L1150.0,1025.4 L1152.5,1025.0 L1155.0,1025.1 L1157.5,1027.2 L1160.0,1025.3 L1162.5,1027.7 L1165.0,1027.8 L1167.5,1028.0 L1170.0,1028.1 L1172.5,1029.4 L1175.0,1031.0 L1177.5,1031.8 L1180.0,1033.1 L1182.5,1032.5 L1185.0,1034.0 L1187.5,1034.3 L1190.0,1037.2 L1192.5,1037.8 L1195.0,1036.6 L1197.5,1038.6 L1200.0,1039.4 L1202.5,1038.8 L1205.0,1040.6 L1207.5,1042.3 L1210.0,1042.9 L1212.7,1042.2 L1215.4,1043.7 L1218.1,1042.8 L1220.9,1043.8 L1223.6,1043.7 L1226.3,1045.4 L1229.0,1044.9 L1231.5,1045.9 L1234.0,1046.3 L1236.5,1046.2 L1239.0,1048.3 L1241.5,1048.4 L1244.0,1049.0 L1246.5,1048.7 L1249.0,1049.1 L1251.5,1050.7 L1254.0,1052.0 L1256.5,1052.4 L1259.0,1051.9 L1261.5,1052.0 L1264.0,1053.3 L1266.5,1054.6 L1269.0,1053.5 L1271.5,1055.3 L1274.0,1054.6 L1276.5,1055.4 L1279.0,1055.3 L1281.5,1056.4 L1284.0,1057.2 L1286.5,1058.9 L1289.0,1059.5 L1291.5,1058.5 L1294.0,1059.3 L1296.5,1061.1 L1299.0,1060.3 L1301.5,1061.1 L1304.0,1061.9 L1306.5,1061.7 L1309.0,1062.4 L1311.5,1063.1 L1314.0,1063.5 L1316.5,1065.0 L1319.0,1064.1 L1321.5,1064.5 L1324.0,1066.1 L1326.5,1065.7 L1329.0,1066.8 L1331.5,1066.8 L1334.0,1067.4 L1336.5,1066.9 L1339.0,1067.0 L1341.5,1068.3 L1344.0,1068.2 L1346.5,1068.6 L1349.0,1069.1 L1351.5,1069.6 L1354.0,1069.2 L1356.5,1069.7 L1359.0,1071.0 L1361.5,1070.8 L1364.0,1070.9 L1366.5,1071.8 L1369.0,1071.7 L1371.5,1072.9 L1374.0,1072.3 L1376.5,1073.8 L1379.0,1073.8 L1381.5,1073.9 L1384.0,1075.1 L1386.5,1074.6 L1389.0,1074.9 L1391.5,1075.1 L1394.0,1076.1 L1396.5,1076.7 L1399.0,1077.0 L1401.5,1077.0 L1404.0,1077.9 L1406.5,1077.4 L1409.0,1078.0 L1411.5,1078.8 L1414.0,1079.6 L1416.5,1079.5 L1419.0,1080.0 L1421.5,1080.5 L1424.0,1080.4 L1426.5,1081.4 L1429.0,1081.5 L1431.5,1081.6 L1434.0,1082.1 L1436.5,1083.1 L1439.0,1083.1 L1441.5,1083.4 L1444.0,1084.7 L1446.5,1084.8 L1449.0,1085.3 L1451.5,1086.0 L1454.0,1086.7 L1456.5,1086.1 L1459.0,1086.7 L1461.5,1086.7 L1464.0,1087.4 L1466.5,1087.9 L1469.0,1088.6 L1471.5,1088.7 L1474.0,1088.9 L1476.5,1089.1 L1479.0,1089.6 L1481.5,1089.5 L1484.0,1090.5 L1486.5,1090.7 L1489.0,1091.1 L1491.5,1090.6 L1494.0,1091.5 L1496.5,1091.9 L1499.0,1091.9 L1501.5,1092.7 L1504.0,1093.0 L1506.5,1093.0 L1509.0,1093.3 L1511.5,1093.3 L1514.0,1093.8 L1516.5,1093.1 L1519.0,1093.9 L1521.5,1094.1 L1524.0,1094.2 L1526.5,1094.0 L1529.0,1094.0 L1531.5,1094.9 L1534.0,1095.5 L1536.5,1095.1 L1539.0,1095.4 L1541.5,1095.7 L1544.0,1095.8 L1546.5,1096.8 L1549.0,1097.5 L1551.5,1097.6 L1554.0,1097.3 L1556.5,1097.9 L1559.1,1097.3 L1561.6,1098.4 L1564.2,1097.9 L1566.7,1097.7 L1569.3,1098.6 L1571.8,1098.2 L1574.4,1098.5 L1576.9,1098.4 L1579.5,1099.0 L1582.0,1099.3" stroke="#ff00ff" stroke-width="9.6"/>
<path d="M167.4,1158.4 L169.3,1152.6 L171.2,1154.0 L174.1,1152.0 L176.9,1153.7 L179.7,1156.8 L182.5,1156.8 L185.0,1156.5 L187.5,1157.5 L190.0,1155.7 L192.5,1158.1 L195.0,1155.3 L197.5,1158.0 L200.0,1157.7 L202.5,1156.6 L205.0,1154.5 L207.5,1158.2 L210.0,1154.9 L212.5,1157.3 L215.0,1157.1 L217.5,1155.8 L220.0,1158.8 L222.5,1159.6 L225.0,1159.3 L227.5,1158.8 L230.0,1159.7 L232.5,1160.4 L235.0,1158.0 L237.5,1160.2 L240.0,1160.0 L242.5,1158.4 L245.0,1158.4 L247.5,1156.1 L250.0,1159.7 L252.5,1156.2 L255.0,1158.6 L257.5,1156.6 L260.0,1157.6 L262.5,1158.2 L265.0,1157.8 L267.5,1156.2 L270.0,1155.2 L272.5,1154.0 L275.0,1154.6 L277.5,1154.9 L280.0,1155.5 L282.5,1158.9 L285.0,1158.8 L287.5,1159.4 L290.0,1159.2 L292.5,1162.5 L295.0,1161.1 L297.5,1160.5 L300.0,1160.9 L302.5,1160.6 L305.0,1160.9 L307.5,1159.6 L310.0,1160.3 L312.5,1159.9 L315.0,1158.8 L317.5,1158.5 L320.0,1156.7 L322.5,1158.6 L325.0,1159.0 L327.5,1164.2 L330.0,1161.9 L332.5,1159.8 L335.0,1156.4 L337.5,1156.6 L340.0,1155.5 L342.5,1157.5 L345.0,1158.9 L347.5,1155.6 L350.0,1154.2 L352.9,1156.0 L355.8,1158.1 L358.8,1161.8 L360.8,1159.3 L362.9,1155.6 L365.0,1151.9 L367.9,1152.8 L370.8,1153.8 L373.8,1157.5 L375.9,1153.9 L378.1,1154.1 L380.3,1151.6 L382.5,1148.9 L384.7,1149.3 L386.9,1152.7 L389.1,1151.4 L391.2,1153.2 L393.1,1153.4 L395.0,1151.3 L396.9,1148.0 L398.8,1146.4 L400.6,1143.4 L402.5,1145.6 L405.4,1146.0 L408.3,1148.3 L411.2,1149.7 L413.4,1146.0 L415.6,1146.0 L417.8,1143.2 L420.0,1143.9 L421.6,1141.8 L423.1,1136.5 L424.7,1133.8 L426.2,1132.5 L429.1,1133.8 L431.9,1132.6 L434.7,1130.7 L437.5,1133.9 L440.0,1133.2 L442.5,1131.3 L445.0,1129.1 L447.5,1132.1 L450.0,1130.1 L452.5,1127.8 L455.0,1128.3 L457.5,1129.0 L460.0,1129.5 L462.5,1127.4 L465.0,1127.1 L467.5,1124.3 L470.0,1123.5 L472.5,1125.1 L475.0,1122.0 L477.5,1119.7 L480.0,1120.3 L482.5,1117.3 L485.0,1116.4 L486.9,1115.1 L488.8,1113.4 L490.6,1111.4 L492.5,1109.5 L495.0,1108.8 L497.5,1107.7 L500.0,1110.3 L502.5,1108.2 L505.0,1109.9 L507.1,1108.2 L509.2,1107.7 L511.2,1106.4 L513.3,1103.3 L515.4,1103.2 L517.5,1101.9 L520.0,1100.2 L522.5,1098.0 L525.0,1099.6 L527.5,1097.6 L530.0,1094.8 L532.5,1094.4 L535.0,1095.8 L537.5,1092.4 L540.0,1091.9 L542.5,1092.2 L545.0,1090.7 L547.5,1088.5 L550.0,1087.3 L552.5,1083.6 L555.0,1083.0 L557.5,1084.9 L560.0,1083.7 L562.5,1080.6 L565.0,1079.9 L567.5,1079.5 L570.0,1080.5 L572.5,1077.4 L575.0,1077.7 L577.5,1077.5 L580.0,1075.4 L582.5,1074.9 L585.0,1071.8 L587.5,1070.3 L590.0,1068.7 L592.5,1069.4 L595.0,1066.5 L597.5,1067.5 L600.0,1065.5 L602.5,1064.6 L605.0,1066.6 L607.5,1065.4 L609.4,1064.4 L611.2,1061.5 L613.1,1061.4 L615.0,1059.8 L617.5,1058.8 L620.0,1055.5 L622.5,1056.7 L625.0,1054.9 L627.5,1054.6 L630.0,1053.3 L632.5,1053.1 L635.0,1052.5 L637.5,1052.5 L640.0,1050.2 L642.5,1049.7 L645.0,1050.5 L647.5,1049.5 L650.0,1049.7 L652.5,1048.7 L655.0,1050.6 L657.5,1047.2 L660.0,1047.7 L662.5,1046.1 L665.0,1043.6 L667.5,1042.4 L670.0,1043.3 L672.5,1041.7 L674.6,1040.2 L676.7,1037.3 L678.8,1037.5 L681.7,1036.8 L684.6,1036.7 L687.5,1036.4 L690.0,1037.3 L692.5,1036.7 L695.0,1035.9 L697.5,1034.3 L700.0,1035.3 L702.5,1035.4 L705.0,1036.9 L707.5,1035.6 L710.0,1037.2 L712.5,1038.4 L715.0,1038.2 L717.5,1035.7 L720.0,1035.4 L722.5,1035.0 L725.0,1036.0 L727.5,1035.3 L730.0,1035.1 L732.5,1034.9 L735.0,1034.8 L737.5,1035.3 L740.0,1035.4 L742.9,1036.7 L745.8,1036.9 L748.8,1037.8 L751.2,1037.3 L753.8,1036.3 L756.2,1035.1 L758.8,1032.5 L761.6,1034.7 L764.4,1035.7 L767.2,1035.1 L770.0,1036.7 L772.8,1035.0 L775.6,1037.2 L778.4,1036.0 L781.2,1036.8 L784.1,1034.9 L786.9,1034.2 L789.7,1033.6 L792.5,1032.8 L795.0,1032.2 L797.5,1033.1 L800.0,1034.5 L802.5,1033.7 L805.0,1034.0 L807.5,1033.1 L810.0,1032.9 L812.5,1034.5 L815.0,1035.2 L817.5,1035.2 L820.0,1036.3 L822.5,1036.4 L825.0,1035.0 L827.5,1035.2 L830.0,1036.5 L832.5,1036.5 L835.0,1034.9 L837.5,1035.9 L840.0,1035.8 L842.5,1036.0 L845.0,1036.4 L847.5,1036.3 L850.0,1035.8 L852.5,1038.3 L855.6,1038.3 L858.8,1040.3 L861.7,1038.8 L864.6,1038.4 L867.5,1038.7 L870.0,1036.8 L872.5,1038.0 L875.0,1038.5 L877.5,1038.4 L880.0,1039.6 L882.5,1038.7 L885.0,1040.5 L887.5,1040.4 L890.0,1041.5 L892.5,1039.7 L895.0,1040.5 L897.5,1041.4 L900.0,1043.8 L902.5,1042.2 L905.0,1043.6 L907.5,1045.6 L910.0,1046.5 L912.5,1044.6 L915.0,1045.5 L917.5,1046.3 L920.0,1046.5 L922.5,1046.9 L925.0,1047.3 L927.5,1046.4 L930.0,1046.9 L932.5,1046.7 L935.0,1048.8 L937.5,1048.0 L940.0,1048.7 L942.5,1051.0 L945.0,1050.7 L947.5,1051.2 L950.0,1051.9 L952.5,1052.3 L955.0,1052.3 L957.5,1051.1 L960.0,1050.3 L962.5,1050.1 L965.0,1051.1 L967.5,1053.1 L970.0,1053.6 L972.5,1053.2 L975.0,1053.9 L977.5,1054.8 L980.0,1053.8 L982.5,1052.4 L985.0,1053.9 L987.5,1052.5 L990.0,1052.5 L992.5,1053.2 L995.0,1054.0 L997.5,1055.2 L1000.0,1055.1 L1002.5,1056.3 L1005.0,1055.2 L1007.5,1058.3 L1010.0,1057.7 L1012.5,1059.9 L1015.0,1058.8 L1017.5,1061.3 L1020.0,1060.1 L1022.5,1062.1 L1025.0,1062.4 L1027.5,1062.4 L1030.0,1062.3 L1032.5,1062.4 L1035.0,1063.7 L1037.5,1066.5 L1040.0,1065.4 L1042.5,1066.7 L1045.0,1066.5 L1047.5,1066.7 L1050.0,1065.4 L1052.5,1065.0 L1055.0,1064.6 L1057.5,1066.6 L1060.0,1064.7 L1062.5,1065.7 L1065.0,1065.8 L1067.5,1065.2 L1070.0,1065.1 L1072.5,1064.7 L1075.0,1066.5 L1077.5,1064.4 L1080.0,1066.2 L1082.5,1065.4 L1085.0,1067.1 L1087.5,1066.3 L1090.0,1068.7 L1092.5,1068.1 L1095.0,1069.3 L1097.5,1070.7 L1100.0,1070.6 L1102.5,1071.8 L1105.0,1074.2 L1107.5,1073.8 L1110.0,1075.0 L1112.5,1076.9 L1115.0,1074.0 L1117.5,1072.3 L1120.0,1070.8 L1122.5,1069.7 L1125.0,1069.5 L1127.5,1070.0 L1130.0,1069.4 L1132.5,1071.2 L1135.0,1069.8 L1137.5,1072.2 L1140.0,1073.4 L1142.5,1071.6 L1145.0,1070.8 L1147.5,1071.6 L1150.0,1070.5 L1152.5,1071.1 L1155.0,1072.3 L1157.5,1071.2 L1160.0,1071.8 L1162.5,1073.2 L1165.0,1072.9 L1167.0,1074.5 L1169.0,1076.6 L1171.0,1077.3 L1173.0,1078.6 L1175.0,1080.9 L1177.5,1080.7 L1180.0,1081.4 L1182.5,1079.9 L1185.0,1078.1 L1187.5,1078.0 L1190.0,1080.4 L1192.5,1081.0 L1195.0,1082.8 L1197.5,1084.1 L1200.0,1084.9 L1202.5,1084.0 L1205.0,1086.4 L1207.5,1085.6 L1210.0,1085.1 L1212.5,1085.2 L1215.0,1087.2 L1217.8,1086.2 L1220.6,1086.5 L1223.4,1087.6 L1226.2,1089.9 L1229.0,1089.4 L1231.5,1090.9 L1234.0,1090.1 L1236.5,1091.8 L1239.0,1092.3 L1241.5,1092.8 L1244.0,1094.7 L1246.5,1094.8 L1249.0,1095.0 L1251.5,1097.8 L1254.0,1097.5 L1256.5,1096.9 L1259.0,1096.7 L1261.5,1098.2 L1264.0,1098.0 L1266.5,1097.1 L1269.0,1098.2 L1271.5,1098.9 L1274.0,1098.6 L1276.5,1098.1 L1279.0,1098.7 L1281.5,1099.5 L1284.0,1100.1 L1286.5,1099.5 L1289.0,1101.4 L1291.5,1102.1 L1294.0,1102.2 L1296.5,1102.9 L1299.0,1102.5 L1301.5,1104.0 L1304.0,1103.2 L1306.5,1103.7 L1309.0,1104.9 L1311.5,1106.0 L1314.0,1105.0 L1316.5,1105.7 L1319.0,1105.9 L1321.5,1107.1 L1324.0,1107.1 L1326.5,1107.7 L1329.0,1109.2 L1331.5,1109.1 L1334.0,1110.0 L1336.5,1109.3 L1339.0,1110.0 L1341.5,1109.2 L1344.0,1111.0 L1346.5,1110.1 L1349.0,1110.7 L1351.5,1111.0 L1354.0,1111.9 L1356.5,1111.9 L1359.0,1113.2 L1361.5,1113.3 L1364.0,1113.3 L1366.5,1114.9 L1369.0,1114.6 L1371.5,1116.3 L1374.0,1116.2 L1376.5,1116.5 L1379.0,1118.1 L1381.5,1117.9 L1384.0,1118.6 L1386.5,1119.2 L1389.0,1120.2 L1391.5,1120.0 L1394.0,1121.1 L1396.5,1121.5 L1399.0,1122.9 L1401.5,1122.5 L1404.0,1123.9 L1406.5,1123.8 L1409.0,1124.4 L1411.5,1124.9 L1414.0,1125.5 L1416.5,1125.2 L1419.0,1125.7 L1421.5,1125.9 L1424.0,1127.3 L1426.5,1126.7 L1429.0,1127.1 L1431.5,1128.0 L1434.0,1128.6 L1436.5,1129.5 L1439.0,1129.0 L1441.5,1129.7 L1444.0,1130.1 L1446.5,1131.1 L1449.0,1131.4 L1451.5,1131.9 L1454.0,1133.0 L1456.5,1133.3 L1459.0,1134.2 L1461.5,1134.9 L1464.0,1134.7 L1466.5,1136.2 L1469.0,1136.1 L1471.5,1136.3 L1474.0,1138.0 L1476.5,1137.6 L1479.0,1138.2 L1481.5,1138.7 L1484.0,1139.0 L1486.5,1140.1 L1489.0,1140.2 L1491.5,1139.9 L1494.0,1140.3 L1496.5,1140.9 L1499.0,1141.1 L1501.5,1141.2 L1504.0,1141.3 L1506.5,1141.3 L1509.0,1141.9 L1511.5,1142.9 L1514.0,1143.4 L1516.5,1144.1 L1519.0,1144.7 L1521.5,1145.3 L1524.0,1144.9 L1526.5,1145.2 L1529.0,1146.7 L1531.5,1146.8 L1534.0,1146.9 L1536.5,1148.0 L1539.0,1148.0 L1541.5,1148.4 L1544.0,1149.1 L1546.5,1149.8 L1549.0,1150.5 L1551.5,1150.2 L1554.0,1151.5 L1556.5,1151.7 L1559.1,1151.9 L1561.6,1152.5 L1564.2,1153.0 L1566.7,1152.4 L1569.3,1153.3 L1571.8,1153.8 L1574.4,1154.2 L1576.9,1154.5 L1579.5,1154.3 L1582.0,1155.6" stroke="#808000" stroke-width="10.8" shape-rendering="crispEdges"/>
<path d="M167.4,1158.4 L169.3,1152.6 L171.2,1154.0 L174.1,1152.0 L176.9,1153.7 L179.7,1156.8 L182.5,1156.8 L185.0,1156.5 L187.5,1157.5 L190.0,1155.7 L192.5,1158.1 L195.0,1155.3 L197.5,1158.0 L200.0,1157.7 L202.5,1156.6 L205.0,1154.5 L207.5,1158.2 L210.0,1154.9 L212.5,1157.3 L215.0,1157.1 L217.5,1155.8 L220.0,1158.8 L222.5,1159.6 L225.0,1159.3 L227.5,1158.8 L230.0,1159.7 L232.5,1160.4 L235.0,1158.0 L237.5,1160.2 L240.0,1160.0 L242.5,1158.4 L245.0,1158.4 L247.5,1156.1 L250.0,1159.7 L252.5,1156.2 L255.0,1158.6 L257.5,1156.6 L260.0,1157.6 L262.5,1158.2 L265.0,1157.8 L267.5,1156.2 L270.0,1155.2 L272.5,1154.0 L275.0,1154.6 L277.5,1154.9 L280.0,1155.5 L282.5,1158.9 L285.0,1158.8 L287.5,1159.4 L290.0,1159.2 L292.5,1162.5 L295.0,1161.1 L297.5,1160.5 L300.0,1160.9 L302.5,1160.6 L305.0,1160.9 L307.5,1159.6 L310.0,1160.3 L312.5,1159.9 L315.0,1158.8 L317.5,1158.5 L320.0,1156.7 L322.5,1158.6 L325.0,1159.0 L327.5,1164.2 L330.0,1161.9 L332.5,1159.8 L335.0,1156.4 L337.5,1156.6 L340.0,1155.5 L342.5,1157.5 L345.0,1158.9 L347.5,1155.6 L350.0,1154.2 L352.9,1156.0 L355.8,1158.1 L358.8,1161.8 L360.8,1159.3 L362.9,1155.6 L365.0,1151.9 L367.9,1152.8 L370.8,1153.8 L373.8,1157.5 L375.9,1153.9 L378.1,1154.1 L380.3,1151.6 L382.5,1148.9 L384.7,1149.3 L386.9,1152.7 L389.1,1151.4 L391.2,1153.2 L393.1,1153.4 L395.0,1151.3 L396.9,1148.0 L398.8,1146.4 L400.6,1143.4 L402.5,1145.6 L405.4,1146.0 L408.3,1148.3 L411.2,1149.7 L413.4,1146.0 L415.6,1146.0 L417.8,1143.2 L420.0,1143.9 L421.6,1141.8 L423.1,1136.5 L424.7,1133.8 L426.2,1132.5 L429.1,1133.8 L431.9,1132.6 L434.7,1130.7 L437.5,1133.9 L440.0,1133.2 L442.5,1131.3 L445.0,1129.1 L447.5,1132.1 L450.0,1130.1 L452.5,1127.8 L455.0,1128.3 L457.5,1129.0 L460.0,1129.5 L462.5,1127.4 L465.0,1127.1 L467.5,1124.3 L470.0,1123.5 L472.5,1125.1 L475.0,1122.0 L477.5,1119.7 L480.0,1120.3 L482.5,1117.3 L485.0,1116.4 L486.9,1115.1 L488.8,1113.4 L490.6,1111.4 L492.5,1109.5 L495.0,1108.8 L497.5,1107.7 L500.0,1110.3 L502.5,1108.2 L505.0,1109.9 L507.1,1108.2 L509.2,1107.7 L511.2,1106.4 L513.3,1103.3 L515.4,1103.2 L517.5,1101.9 L520.0,1100.2 L522.5,1098.0 L525.0,1099.6 L527.5,1097.6 L530.0,1094.8 L532.5,1094.4 L535.0,1095.8 L537.5,1092.4 L540.0,1091.9 L542.5,1092.2 L545.0,1090.7 L547.5,1088.5 L550.0,1087.3 L552.5,1083.6 L555.0,1083.0 L557.5,1084.9 L560.0,1083.7 L562.5,1080.6 L565.0,1079.9 L567.5,1079.5 L570.0,1080.5 L572.5,1077.4 L575.0,1077.7 L577.5,1077.5 L580.0,1075.4 L582.5,1074.9 L585.0,1071.8 L587.5,1070.3 L590.0,1068.7 L592.5,1069.4 L595.0,1066.5 L597.5,1067.5 L600.0,1065.5 L602.5,1064.6 L605.0,1066.6 L607.5,1065.4 L609.4,1064.4 L611.2,1061.5 L613.1,1061.4 L615.0,1059.8 L617.5,1058.8 L620.0,1055.5 L622.5,1056.7 L625.0,1054.9 L627.5,1054.6 L630.0,1053.3 L632.5,1053.1 L635.0,1052.5 L637.5,1052.5 L640.0,1050.2 L642.5,1049.7 L645.0,1050.5 L647.5,1049.5 L650.0,1049.7 L652.5,1048.7 L655.0,1050.6 L657.5,1047.2 L660.0,1047.7 L662.5,1046.1 L665.0,1043.6 L667.5,1042.4 L670.0,1043.3 L672.5,1041.7 L674.6,1040.2 L676.7,1037.3 L678.8,1037.5 L681.7,1036.8 L684.6,1036.7 L687.5,1036.4 L690.0,1037.3 L692.5,1036.7 L695.0,1035.9 L697.5,1034.3 L700.0,1035.3 L702.5,1035.4 L705.0,1036.9 L707.5,1035.6 L710.0,1037.2 L712.5,1038.4 L715.0,1038.2 L717.5,1035.7 L720.0,1035.4 L722.5,1035.0 L725.0,1036.0 L727.5,1035.3 L730.0,1035.1 L732.5,1034.9 L735.0,1034.8 L737.5,1035.3 L740.0,1035.4 L742.9,1036.7 L745.8,1036.9 L748.8,1037.8 L751.2,1037.3 L753.8,1036.3 L756.2,1035.1 L758.8,1032.5 L761.6,1034.7 L764.4,1035.7 L767.2,1035.1 L770.0,1036.7 L772.8,1035.0 L775.6,1037.2 L778.4,1036.0 L781.2,1036.8 L784.1,1034.9 L786.9,1034.2 L789.7,1033.6 L792.5,1032.8 L795.0,1032.2 L797.5,1033.1 L800.0,1034.5 L802.5,1033.7 L805.0,1034.0 L807.5,1033.1 L810.0,1032.9 L812.5,1034.5 L815.0,1035.2 L817.5,1035.2 L820.0,1036.3 L822.5,1036.4 L825.0,1035.0 L827.5,1035.2 L830.0,1036.5 L832.5,1036.5 L835.0,1034.9 L837.5,1035.9 L840.0,1035.8 L842.5,1036.0 L845.0,1036.4 L847.5,1036.3 L850.0,1035.8 L852.5,1038.3 L855.6,1038.3 L858.8,1040.3 L861.7,1038.8 L864.6,1038.4 L867.5,1038.7 L870.0,1036.8 L872.5,1038.0 L875.0,1038.5 L877.5,1038.4 L880.0,1039.6 L882.5,1038.7 L885.0,1040.5 L887.5,1040.4 L890.0,1041.5 L892.5,1039.7 L895.0,1040.5 L897.5,1041.4 L900.0,1043.8 L902.5,1042.2 L905.0,1043.6 L907.5,1045.6 L910.0,1046.5 L912.5,1044.6 L915.0,1045.5 L917.5,1046.3 L920.0,1046.5 L922.5,1046.9 L925.0,1047.3 L927.5,1046.4 L930.0,1046.9 L932.5,1046.7 L935.0,1048.8 L937.5,1048.0 L940.0,1048.7 L942.5,1051.0 L945.0,1050.7 L947.5,1051.2 L950.0,1051.9 L952.5,1052.3 L955.0,1052.3 L957.5,1051.1 L960.0,1050.3 L962.5,1050.1 L965.0,1051.1 L967.5,1053.1 L970.0,1053.6 L972.5,1053.2 L975.0,1053.9 L977.5,1054.8 L980.0,1053.8 L982.5,1052.4 L985.0,1053.9 L987.5,1052.5 L990.0,1052.5 L992.5,1053.2 L995.0,1054.0 L997.5,1055.2 L1000.0,1055.1 L1002.5,1056.3 L1005.0,1055.2 L1007.5,1058.3 L1010.0,1057.7 L1012.5,1059.9 L1015.0,1058.8 L1017.5,1061.3 L1020.0,1060.1 L1022.5,1062.1 L1025.0,1062.4 L1027.5,1062.4 L1030.0,1062.3 L1032.5,1062.4 L1035.0,1063.7 L1037.5,1066.5 L1040.0,1065.4 L1042.5,1066.7 L1045.0,1066.5 L1047.5,1066.7 L1050.0,1065.4 L1052.5,1065.0 L1055.0,1064.6 L1057.5,1066.6 L1060.0,1064.7 L1062.5,1065.7 L1065.0,1065.8 L1067.5,1065.2 L1070.0,1065.1 L1072.5,1064.7 L1075.0,1066.5 L1077.5,1064.4 L1080.0,1066.2 L1082.5,1065.4 L1085.0,1067.1 L1087.5,1066.3 L1090.0,1068.7 L1092.5,1068.1 L1095.0,1069.3 L1097.5,1070.7 L1100.0,1070.6 L1102.5,1071.8 L1105.0,1074.2 L1107.5,1073.8 L1110.0,1075.0 L1112.5,1076.9 L1115.0,1074.0 L1117.5,1072.3 L1120.0,1070.8 L1122.5,1069.7 L1125.0,1069.5 L1127.5,1070.0 L1130.0,1069.4 L1132.5,1071.2 L1135.0,1069.8 L1137.5,1072.2 L1140.0,1073.4 L1142.5,1071.6 L1145.0,1070.8 L1147.5,1071.6 L1150.0,1070.5 L1152.5,1071.1 L1155.0,1072.3 L1157.5,1071.2 L1160.0,1071.8 L1162.5,1073.2 L1165.0,1072.9 L1167.0,1074.5 L1169.0,1076.6 L1171.0,1077.3 L1173.0,1078.6 L1175.0,1080.9 L1177.5,1080.7 L1180.0,1081.4 L1182.5,1079.9 L1185.0,1078.1 L1187.5,1078.0 L1190.0,1080.4 L1192.5,1081.0 L1195.0,1082.8 L1197.5,1084.1 L1200.0,1084.9 L1202.5,1084.0 L1205.0,1086.4 L1207.5,1085.6 L1210.0,1085.1 L1212.5,1085.2 L1215.0,1087.2 L1217.8,1086.2 L1220.6,1086.5 L1223.4,1087.6 L1226.2,1089.9 L1229.0,1089.4 L1231.5,1090.9 L1234.0,1090.1 L1236.5,1091.8 L1239.0,1092.3 L1241.5,1092.8 L1244.0,1094.7 L1246.5,1094.8 L1249.0,1095.0 L1251.5,1097.8 L1254.0,1097.5 L1256.5,1096.9 L1259.0,1096.7 L1261.5,1098.2 L1264.0,1098.0 L1266.5,1097.1 L1269.0,1098.2 L1271.5,1098.9 L1274.0,1098.6 L1276.5,1098.1 L1279.0,1098.7 L1281.5,1099.5 L1284.0,1100.1 L1286.5,1099.5 L1289.0,1101.4 L1291.5,1102.1 L1294.0,1102.2 L1296.5,1102.9 L1299.0,1102.5 L1301.5,1104.0 L1304.0,1103.2 L1306.5,1103.7 L1309.0,1104.9 L1311.5,1106.0 L1314.0,1105.0 L1316.5,1105.7 L1319.0,1105.9 L1321.5,1107.1 L1324.0,1107.1 L1326.5,1107.7 L1329.0,1109.2 L1331.5,1109.1 L1334.0,1110.0 L1336.5,1109.3 L1339.0,1110.0 L1341.5,1109.2 L1344.0,1111.0 L1346.5,1110.1 L1349.0,1110.7 L1351.5,1111.0 L1354.0,1111.9 L1356.5,1111.9 L1359.0,1113.2 L1361.5,1113.3 L1364.0,1113.3 L1366.5,1114.9 L1369.0,1114.6 L1371.5,1116.3 L1374.0,1116.2 L1376.5,1116.5 L1379.0,1118.1 L1381.5,1117.9 L1384.0,1118.6 L1386.5,1119.2 L1389.0,1120.2 L1391.5,1120.0 L1394.0,1121.1 L1396.5,1121.5 L1399.0,1122.9 L1401.5,1122.5 L1404.0,1123.9 L1406.5,1123.8 L1409.0,1124.4 L1411.5,1124.9 L1414.0,1125.5 L1416.5,1125.2 L1419.0,1125.7 L1421.5,1125.9 L1424.0,1127.3 L1426.5,1126.7 L1429.0,1127.1 L1431.5,1128.0 L1434.0,1128.6 L1436.5,1129.5 L1439.0,1129.0 L1441.5,1129.7 L1444.0,1130.1 L1446.5,1131.1 L1449.0,1131.4 L1451.5,1131.9 L1454.0,1133.0 L1456.5,1133.3 L1459.0,1134.2 L1461.5,1134.9 L1464.0,1134.7 L1466.5,1136.2 L1469.0,1136.1 L1471.5,1136.3 L1474.0,1138.0 L1476.5,1137.6 L1479.0,1138.2 L1481.5,1138.7 L1484.0,1139.0 L1486.5,1140.1 L1489.0,1140.2 L1491.5,1139.9 L1494.0,1140.3 L1496.5,1140.9 L1499.0,1141.1 L1501.5,1141.2 L1504.0,1141.3 L1506.5,1141.3 L1509.0,1141.9 L1511.5,1142.9 L1514.0,1143.4 L1516.5,1144.1 L1519.0,1144.7 L1521.5,1145.3 L1524.0,1144.9 L1526.5,1145.2 L1529.0,1146.7 L1531.5,1146.8 L1534.0,1146.9 L1536.5,1148.0 L1539.0,1148.0 L1541.5,1148.4 L1544.0,1149.1 L1546.5,1149.8 L1549.0,1150.5 L1551.5,1150.2 L1554.0,1151.5 L1556.5,1151.7 L1559.1,1151.9 L1561.6,1152.5 L1564.2,1153.0 L1566.7,1152.4 L1569.3,1153.3 L1571.8,1153.8 L1574.4,1154.2 L1576.9,1154.5 L1579.5,1154.3 L1582.0,1155.6" stroke="#808000" stroke-width="9.6"/>
</g>
<g stroke="#000" stroke-width="3" stroke-dasharray="5 6.033" fill="none" shape-rendering="crispEdges">
<line x1="442.5" y1="22" x2="438.0" y2="1197"/>
<line x1="719.5" y1="22" x2="716.0" y2="1197"/>
<line x1="1048.8" y1="22" x2="1044.8" y2="1197"/>
</g>
<g font-family='"Liberation Serif", "Times New Roman", serif' fill="#000">
<text transform="matrix(1.0163,0,0,1.0068,163.30,1252.63)" font-size="46.5" text-anchor="middle">4000</text>
<text transform="matrix(1.0163,0,0,1.0068,340.55,1252.63)" font-size="46.5" text-anchor="middle">3800</text>
<text transform="matrix(1.0163,0,0,1.0068,517.80,1252.63)" font-size="46.5" text-anchor="middle">3600</text>
<text transform="matrix(1.0163,0,0,1.0068,695.05,1252.63)" font-size="46.5" text-anchor="middle">3400</text>
<text transform="matrix(1.0163,0,0,1.0068,872.30,1252.63)" font-size="46.5" text-anchor="middle">3200</text>
<text transform="matrix(1.0163,0,0,1.0068,1049.55,1252.63)" font-size="46.5" text-anchor="middle">3000</text>
<text transform="matrix(1.0163,0,0,1.0068,1226.80,1252.63)" font-size="46.5" text-anchor="middle">2800</text>
<text transform="matrix(1.0163,0,0,1.0068,1404.05,1252.63)" font-size="46.5" text-anchor="middle">2600</text>
<text transform="matrix(1.0163,0,0,1.0068,1581.30,1252.63)" font-size="46.5" text-anchor="middle">2400</text>
<text transform="matrix(0.9698,0,0,1.0202,650.00,1356.13)" font-size="58" >Wavenumber (cm</text>
<text transform="matrix(0.8806,0,0,1.0227,1047.61,1325.10)" font-size="36" >-1</text>
<text transform="matrix(1.1985,0,0,1.0221,1074.64,1356.10)" font-size="58" >)</text>
<text transform="matrix(0,-1.0001,1.0540,0,63.19,744.48)" font-size="58">Absorbance</text>
<text transform="matrix(0.9958,0,0,1.0604,298.90,247.80)" font-size="57" >3698</text>
<text transform="matrix(0.9806,0,0,1.0592,742.94,203.70)" font-size="57" >3393</text>
<text transform="matrix(0.9977,0,0,1.0630,1079.80,226.79)" font-size="57" >3000</text>
</g>
<g font-family='"Liberation Serif", "Times New Roman", serif' fill="#000">
<rect x="232" y="71" width="168.0" height="77.7" fill="#000" shape-rendering="crispEdges"/>
<rect x="214.5" y="53.5" width="168.0" height="77.8" fill="#fff" stroke="#000" stroke-width="3" shape-rendering="crispEdges"/>
<text transform="matrix(0.9996,0,0,0.9981,233.63,108.20)" font-size="46.7" >OH(is)</text>
<rect x="885" y="55" width="171.2" height="87.8" fill="#000" shape-rendering="crispEdges"/>
<rect x="867.5" y="37.7" width="170.0" height="86.8" fill="#fff" stroke="#000" stroke-width="3" shape-rendering="crispEdges"/>
<text transform="matrix(1.0239,0,0,1.0922,883.96,90.79)" font-size="46.7" >Ti-OH</text>
<text transform="matrix(1.1161,0,0,1.0189,1007.29,109.20)" font-size="28" >2</text>
<rect x="766" y="266" width="161.0" height="75.0" fill="#000" shape-rendering="crispEdges"/>
<rect x="748.5" y="249.5" width="160.0" height="73.0" fill="#fff" stroke="#000" stroke-width="3" shape-rendering="crispEdges"/>
<text transform="matrix(1.0239,0,0,1.0731,766.96,302.60)" font-size="46.7" >Ti-OH</text>
<rect x="1221.4" y="28.5" width="345.1" height="439.1" fill="#fff" stroke="#000" stroke-width="3.2" shape-rendering="crispEdges"/>
<line x1="1228" y1="62.8" x2="1344.6" y2="62.8" stroke="#000000" stroke-width="10.8" stroke-linecap="round"/>
<line x1="1228" y1="127.8" x2="1344.6" y2="127.8" stroke="#ff0000" stroke-width="10.8" stroke-linecap="round"/>
<line x1="1228" y1="192.5" x2="1344.6" y2="192.5" stroke="#0000ff" stroke-width="10.8" stroke-linecap="round"/>
<line x1="1228" y1="257.4" x2="1344.6" y2="257.4" stroke="#008080" stroke-width="10.8" stroke-linecap="round"/>
<line x1="1228" y1="339.2" x2="1344.6" y2="339.2" stroke="#ff00ff" stroke-width="10.8" stroke-linecap="round"/>
<line x1="1228" y1="421.1" x2="1344.6" y2="421.1" stroke="#808000" stroke-width="10.8" stroke-linecap="round"/>
<text transform="matrix(1.0037,0,0,1.0209,1357.13,80.07)" font-size="52" >Pt-F-P25</text>
<text transform="matrix(1.0032,0,0,1.0209,1356.93,145.07)" font-size="52" >F-P25</text>
<text transform="matrix(1.0036,0,0,1.0094,1356.93,209.78)" font-size="52" >P25</text>
<text transform="matrix(1.0210,0,0,1.1038,1356.91,275.73)" font-size="52" >Pt-F-TiO</text>
<text transform="matrix(1.1694,0,0,1.0128,1546.97,294.90)" font-size="31" >2</text>
<text transform="matrix(1.0297,0,0,1.1038,1356.89,357.93)" font-size="52" >F-TiO</text>
<text transform="matrix(1.1694,0,0,1.0128,1486.87,377.10)" font-size="31" >2</text>
<text transform="matrix(1.0256,0,0,1.0981,1358.67,439.73)" font-size="52" >TiO</text>
<text transform="matrix(1.1774,0,0,1.0079,1440.96,459.00)" font-size="31" >2</text>
</g>
</svg>
</body></html>
